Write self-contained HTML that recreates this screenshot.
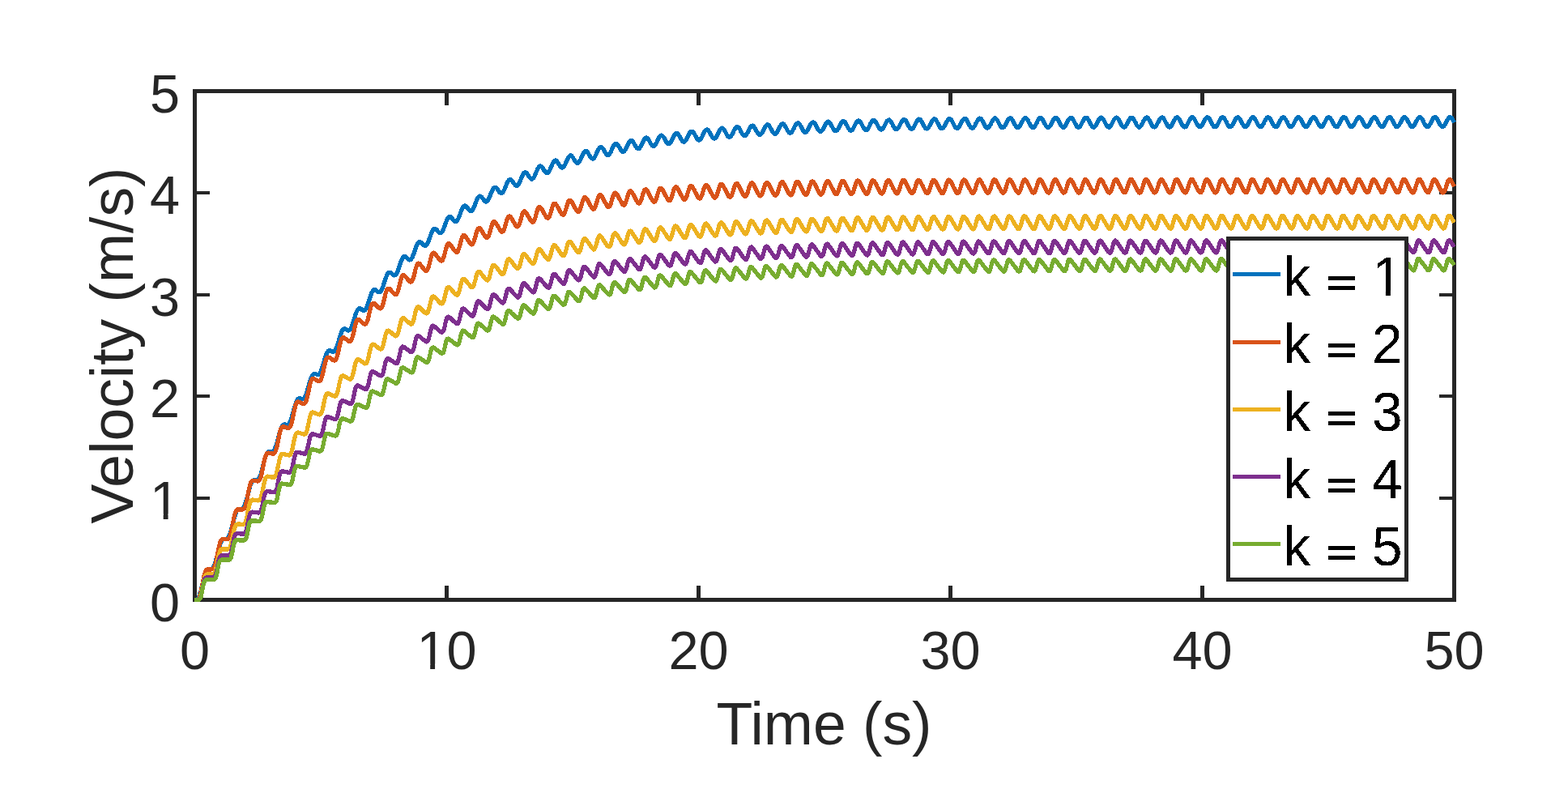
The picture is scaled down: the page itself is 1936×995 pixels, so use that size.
<!DOCTYPE html>
<html lang="en"><head><meta charset="utf-8"><title>Velocity vs Time</title>
<style>html,body{margin:0;padding:0;background:#fff;}body{width:1936px;height:995px;overflow:hidden;}svg{display:block;}text{font-family:"Liberation Sans",sans-serif;}.tk{font-size:66.67px;fill:#262626;}.lb{font-size:73.33px;fill:#262626;}.lg{font-size:67.6px;fill:#000;}.eq{font-family:"DejaVu Sans Condensed","DejaVu Sans Mono","Liberation Sans",sans-serif;font-size:59px;}</style></head><body>
<svg width="1936" height="995" viewBox="0 0 1936 995">
<defs><clipPath id="ax"><rect x="238" y="110" width="1560" height="633"/></clipPath><filter id="al" x="-5%" y="-5%" width="110%" height="110%" color-interpolation-filters="sRGB"><feComponentTransfer><feFuncA type="discrete" tableValues="0 1"/></feComponentTransfer></filter></defs>
<rect x="0" y="0" width="1936" height="995" fill="#ffffff"/>
<g fill="#262626" shape-rendering="crispEdges">
<rect x="238" y="110" width="1560" height="5"/>
<rect x="238" y="738" width="1560" height="5"/>
<rect x="238" y="110" width="5" height="633"/>
<rect x="1793" y="110" width="5" height="633"/>
<rect x="549" y="723" width="5" height="15"/>
<rect x="549" y="115" width="5" height="15"/>
<rect x="860" y="723" width="5" height="15"/>
<rect x="860" y="115" width="5" height="15"/>
<rect x="1171" y="723" width="5" height="15"/>
<rect x="1171" y="115" width="5" height="15"/>
<rect x="1482" y="723" width="5" height="15"/>
<rect x="1482" y="115" width="5" height="15"/>
<rect x="243" y="613" width="16" height="4"/>
<rect x="1777" y="613" width="16" height="4"/>
<rect x="243" y="487" width="16" height="4"/>
<rect x="1777" y="487" width="16" height="4"/>
<rect x="243" y="362" width="16" height="4"/>
<rect x="1777" y="362" width="16" height="4"/>
<rect x="243" y="236" width="16" height="4"/>
<rect x="1777" y="236" width="16" height="4"/>
</g>
<g fill="none" stroke-width="5.25" stroke-linejoin="round" stroke-linecap="butt" shape-rendering="auto" clip-path="url(#ax)">
<polyline stroke="#0072BD" filter="url(#al)" points="240.5,740.5 241.1,740.5 241.7,740.4 242.4,740.3 243.0,739.9 243.6,739.4 244.2,738.7 244.9,737.7 245.5,736.4 246.1,734.9 246.7,733.2 247.3,731.2 248.0,729.0 248.6,726.7 249.2,724.2 249.8,721.7 250.5,719.2 251.1,716.8 251.7,714.4 252.3,712.2 252.9,710.2 253.6,708.4 254.2,706.9 254.8,705.6 255.4,704.6 256.1,703.9 256.7,703.3 257.3,703.0 257.9,702.8 258.5,702.7 259.2,702.7 259.8,702.7 260.4,702.7 261.0,702.5 261.6,702.2 262.3,701.8 262.9,701.0 263.5,700.1 264.1,698.9 264.8,697.4 265.4,695.7 266.0,693.7 266.6,691.6 267.2,689.3 267.9,686.8 268.5,684.4 269.1,681.9 269.7,679.4 270.4,677.1 271.0,674.9 271.6,672.8 272.2,671.0 272.8,669.5 273.5,668.2 274.1,667.2 274.7,666.4 275.3,665.9 276.0,665.5 276.6,665.3 277.2,665.3 277.8,665.3 278.4,665.3 279.1,665.3 279.7,665.1 280.3,664.9 280.9,664.4 281.6,663.8 282.2,662.9 282.8,661.7 283.4,660.3 284.0,658.6 284.7,656.7 285.3,654.6 285.9,652.3 286.5,649.9 287.2,647.4 287.8,645.0 288.4,642.5 289.0,640.2 289.6,638.0 290.3,636.0 290.9,634.2 291.5,632.6 292.1,631.3 292.7,630.3 293.4,629.5 294.0,629.0 294.6,628.6 295.2,628.4 295.9,628.4 296.5,628.4 297.1,628.5 297.7,628.5 298.3,628.4 299.0,628.2 299.6,627.8 300.2,627.2 300.8,626.3 301.5,625.2 302.1,623.8 302.7,622.2 303.3,620.3 303.9,618.3 304.6,616.0 305.2,613.7 305.8,611.3 306.4,608.8 307.1,606.4 307.7,604.1 308.3,601.9 308.9,599.9 309.5,598.1 310.2,596.5 310.8,595.2 311.4,594.2 312.0,593.4 312.7,592.9 313.3,592.6 313.9,592.4 314.5,592.4 315.1,592.4 315.8,592.5 316.4,592.6 317.0,592.5 317.6,592.4 318.2,592.0 318.9,591.5 319.5,590.7 320.1,589.6 320.7,588.3 321.4,586.8 322.0,585.0 322.6,583.0 323.2,580.8 323.8,578.5 324.5,576.1 325.1,573.7 325.7,571.3 326.3,569.0 327.0,566.8 327.6,564.8 328.2,563.1 328.8,561.5 329.4,560.2 330.1,559.2 330.7,558.5 331.3,557.9 331.9,557.6 332.6,557.5 333.2,557.5 333.8,557.6 334.4,557.7 335.0,557.8 335.7,557.8 336.3,557.7 336.9,557.4 337.5,556.9 338.2,556.2 338.8,555.2 339.4,554.0 340.0,552.5 340.6,550.8 341.3,548.8 341.9,546.7 342.5,544.5 343.1,542.1 343.8,539.8 344.4,537.4 345.0,535.2 345.6,533.0 346.2,531.1 346.9,529.3 347.5,527.8 348.1,526.5 348.7,525.5 349.3,524.8 350.0,524.3 350.6,524.0 351.2,523.9 351.8,523.9 352.5,524.1 353.1,524.2 353.7,524.4 354.3,524.5 354.9,524.4 355.6,524.2 356.2,523.8 356.8,523.1 357.4,522.2 358.1,521.1 358.7,519.7 359.3,518.0 359.9,516.2 360.5,514.1 361.2,511.9 361.8,509.6 362.4,507.3 363.0,505.0 363.7,502.8 364.3,500.7 364.9,498.8 365.5,497.0 366.1,495.5 366.8,494.3 367.4,493.3 368.0,492.6 368.6,492.1 369.3,491.9 369.9,491.8 370.5,491.9 371.1,492.1 371.7,492.3 372.4,492.5 373.0,492.6 373.6,492.7 374.2,492.5 374.9,492.2 375.5,491.6 376.1,490.8 376.7,489.7 377.3,488.4 378.0,486.8 378.6,485.0 379.2,483.1 379.8,481.0 380.4,478.7 381.1,476.5 381.7,474.2 382.3,472.1 382.9,470.0 383.6,468.1 384.2,466.4 384.8,464.9 385.4,463.7 386.0,462.8 386.7,462.1 387.3,461.6 387.9,461.4 388.5,461.4 389.2,461.5 389.8,461.7 390.4,462.0 391.0,462.3 391.6,462.5 392.3,462.6 392.9,462.5 393.5,462.3 394.1,461.8 394.8,461.1 395.4,460.1 396.0,458.8 396.6,457.3 397.2,455.6 397.9,453.7 398.5,451.7 399.1,449.5 399.7,447.3 400.4,445.2 401.0,443.0 401.6,441.0 402.2,439.2 402.8,437.5 403.5,436.1 404.1,434.9 404.7,434.0 405.3,433.3 406.0,432.9 406.6,432.7 407.2,432.7 407.8,432.9 408.4,433.2 409.1,433.5 409.7,433.8 410.3,434.1 410.9,434.3 411.5,434.3 412.2,434.1 412.8,433.7 413.4,433.1 414.0,432.2 414.7,431.0 415.3,429.6 415.9,428.0 416.5,426.2 417.1,424.2 417.8,422.1 418.4,420.0 419.0,417.9 419.6,415.8 420.3,413.8 420.9,412.0 421.5,410.4 422.1,409.0 422.7,407.8 423.4,407.0 424.0,406.3 424.6,406.0 425.2,405.8 425.9,405.9 426.5,406.1 427.1,406.4 427.7,406.8 428.3,407.2 429.0,407.5 429.6,407.8 430.2,407.9 430.8,407.8 431.5,407.5 432.1,407.0 432.7,406.2 433.3,405.1 433.9,403.8 434.6,402.2 435.2,400.5 435.8,398.6 436.4,396.6 437.1,394.5 437.7,392.5 438.3,390.4 438.9,388.5 439.5,386.7 440.2,385.1 440.8,383.8 441.4,382.7 442.0,381.8 442.6,381.2 443.3,380.9 443.9,380.8 444.5,380.9 445.1,381.1 445.8,381.5 446.4,382.0 447.0,382.4 447.6,382.8 448.2,383.2 448.9,383.3 449.5,383.3 450.1,383.1 450.7,382.7 451.4,382.0 452.0,381.0 452.6,379.8 453.2,378.3 453.8,376.6 454.5,374.8 455.1,372.9 455.7,370.9 456.3,368.9 457.0,366.9 457.6,365.0 458.2,363.3 458.8,361.7 459.4,360.4 460.1,359.3 460.7,358.5 461.3,358.0 461.9,357.6 462.6,357.6 463.2,357.7 463.8,358.0 464.4,358.5 465.0,359.0 465.7,359.5 466.3,360.0 466.9,360.4 467.5,360.6 468.2,360.7 468.8,360.6 469.4,360.2 470.0,359.6 470.6,358.7 471.3,357.6 471.9,356.2 472.5,354.6 473.1,352.9 473.7,351.0 474.4,349.1 475.0,347.1 475.6,345.2 476.2,343.4 476.9,341.7 477.5,340.2 478.1,338.9 478.7,337.8 479.3,337.0 480.0,336.5 480.6,336.2 481.2,336.2 481.8,336.4 482.5,336.7 483.1,337.2 483.7,337.8 484.3,338.3 484.9,338.9 485.6,339.4 486.2,339.7 486.8,339.9 487.4,339.8 488.1,339.5 488.7,339.0 489.3,338.2 489.9,337.2 490.5,335.9 491.2,334.4 491.8,332.7 492.4,330.9 493.0,329.0 493.7,327.1 494.3,325.3 494.9,323.5 495.5,321.8 496.1,320.4 496.8,319.1 497.4,318.1 498.0,317.3 498.6,316.8 499.3,316.6 499.9,316.6 500.5,316.8 501.1,317.2 501.7,317.7 502.4,318.3 503.0,319.0 503.6,319.6 504.2,320.1 504.8,320.5 505.5,320.8 506.1,320.8 506.7,320.6 507.3,320.2 508.0,319.5 508.6,318.5 509.2,317.3 509.8,315.9 510.4,314.3 511.1,312.5 511.7,310.7 512.3,308.9 512.9,307.1 513.6,305.3 514.2,303.7 514.8,302.3 515.4,301.1 516.0,300.1 516.7,299.3 517.3,298.9 517.9,298.6 518.5,298.7 519.2,298.9 519.8,299.3 520.4,299.9 521.0,300.6 521.6,301.3 522.3,301.9 522.9,302.5 523.5,303.0 524.1,303.4 524.8,303.5 525.4,303.3 526.0,303.0 526.6,302.3 527.2,301.5 527.9,300.3 528.5,299.0 529.1,297.5 529.7,295.8 530.4,294.1 531.0,292.3 531.6,290.5 532.2,288.8 532.8,287.2 533.5,285.8 534.1,284.6 534.7,283.7 535.3,283.0 535.9,282.5 536.6,282.3 537.2,282.4 537.8,282.6 538.4,283.1 539.1,283.7 539.7,284.4 540.3,285.2 540.9,285.9 541.5,286.6 542.2,287.1 542.8,287.5 543.4,287.7 544.0,287.7 544.7,287.4 545.3,286.8 545.9,286.0 546.5,285.0 547.1,283.7 547.8,282.2 548.4,280.6 549.0,279.0 549.6,277.2 550.3,275.5 550.9,273.8 551.5,272.3 552.1,270.9 552.7,269.7 553.4,268.8 554.0,268.1 554.6,267.7 555.2,267.5 555.9,267.6 556.5,267.9 557.1,268.4 557.7,269.0 558.3,269.8 559.0,270.5 559.6,271.3 560.2,272.1 560.8,272.7 561.5,273.1 562.1,273.4 562.7,273.4 563.3,273.2 563.9,272.7 564.6,272.0 565.2,271.0 565.8,269.8 566.4,268.5 567.1,266.9 567.7,265.3 568.3,263.6 568.9,261.9 569.5,260.3 570.2,258.8 570.8,257.4 571.4,256.3 572.0,255.4 572.6,254.7 573.3,254.3 573.9,254.1 574.5,254.2 575.1,254.5 575.8,255.1 576.4,255.7 577.0,256.5 577.6,257.3 578.2,258.2 578.9,259.0 579.5,259.6 580.1,260.2 580.7,260.5 581.4,260.6 582.0,260.4 582.6,260.1 583.2,259.4 583.8,258.5 584.5,257.4 585.1,256.0 585.7,254.6 586.3,253.0 587.0,251.3 587.6,249.7 588.2,248.1 588.8,246.6 589.4,245.3 590.1,244.2 590.7,243.3 591.3,242.6 591.9,242.2 592.6,242.1 593.2,242.2 593.8,242.5 594.4,243.0 595.0,243.7 595.7,244.6 596.3,245.4 596.9,246.3 597.5,247.1 598.2,247.9 598.8,248.4 599.4,248.8 600.0,249.0 600.6,248.9 601.3,248.6 601.9,248.0 602.5,247.2 603.1,246.1 603.7,244.9 604.4,243.5 605.0,241.9 605.6,240.3 606.2,238.7 606.9,237.2 607.5,235.7 608.1,234.4 608.7,233.3 609.3,232.4 610.0,231.7 610.6,231.3 611.2,231.2 611.8,231.3 612.5,231.7 613.1,232.2 613.7,233.0 614.3,233.8 614.9,234.7 615.6,235.6 616.2,236.5 616.8,237.3 617.4,237.9 618.1,238.4 618.7,238.6 619.3,238.6 619.9,238.4 620.5,237.8 621.2,237.1 621.8,236.1 622.4,234.9 623.0,233.5 623.7,232.0 624.3,230.5 624.9,228.9 625.5,227.4 626.1,225.9 626.8,224.6 627.4,223.5 628.0,222.6 628.6,222.0 629.3,221.6 629.9,221.5 630.5,221.6 631.1,222.0 631.7,222.5 632.4,223.3 633.0,224.2 633.6,225.1 634.2,226.0 634.8,227.0 635.5,227.8 636.1,228.5 636.7,229.0 637.3,229.3 638.0,229.4 638.6,229.2 639.2,228.7 639.8,228.0 640.4,227.1 641.1,225.9 641.7,224.6 642.3,223.1 642.9,221.6 643.6,220.1 644.2,218.6 644.8,217.2 645.4,215.9 646.0,214.8 646.7,213.9 647.3,213.3 647.9,212.9 648.5,212.8 649.2,212.9 649.8,213.3 650.4,213.9 651.0,214.6 651.6,215.5 652.3,216.5 652.9,217.5 653.5,218.4 654.1,219.3 654.8,220.0 655.4,220.6 656.0,221.0 656.6,221.1 657.2,220.9 657.9,220.5 658.5,219.9 659.1,219.0 659.7,217.9 660.4,216.6 661.0,215.2 661.6,213.8 662.2,212.2 662.8,210.8 663.5,209.4 664.1,208.1 664.7,207.0 665.3,206.1 665.9,205.5 666.6,205.1 667.2,205.0 667.8,205.1 668.4,205.5 669.1,206.1 669.7,206.9 670.3,207.8 670.9,208.8 671.5,209.8 672.2,210.8 672.8,211.7 673.4,212.5 674.0,213.1 674.7,213.5 675.3,213.7 675.9,213.6 676.5,213.3 677.1,212.7 677.8,211.8 678.4,210.8 679.0,209.6 679.6,208.2 680.3,206.7 680.9,205.3 681.5,203.8 682.1,202.4 682.7,201.2 683.4,200.1 684.0,199.2 684.6,198.6 685.2,198.2 685.9,198.1 686.5,198.2 687.1,198.6 687.7,199.2 688.3,199.9 689.0,200.9 689.6,201.9 690.2,202.9 690.8,203.9 691.5,204.9 692.1,205.7 692.7,206.4 693.3,206.8 693.9,207.1 694.6,207.0 695.2,206.8 695.8,206.2 696.4,205.4 697.0,204.4 697.7,203.3 698.3,201.9 698.9,200.5 699.5,199.1 700.2,197.6 700.8,196.3 701.4,195.0 702.0,193.9 702.6,193.1 703.3,192.4 703.9,192.0 704.5,191.9 705.1,192.0 705.8,192.4 706.4,193.0 707.0,193.8 707.6,194.7 708.2,195.7 708.9,196.8 709.5,197.8 710.1,198.8 710.7,199.7 711.4,200.4 712.0,200.9 712.6,201.2 713.2,201.2 713.8,201.0 714.5,200.5 715.1,199.8 715.7,198.8 716.3,197.7 717.0,196.4 717.6,195.0 718.2,193.6 718.8,192.2 719.4,190.8 720.1,189.6 720.7,188.5 721.3,187.6 721.9,186.9 722.6,186.5 723.2,186.4 723.8,186.5 724.4,186.9 725.0,187.5 725.7,188.3 726.3,189.2 726.9,190.2 727.5,191.3 728.1,192.4 728.8,193.4 729.4,194.3 730.0,195.1 730.6,195.6 731.3,196.0 731.9,196.0 732.5,195.8 733.1,195.4 733.7,194.7 734.4,193.8 735.0,192.7 735.6,191.5 736.2,190.1 736.9,188.7 737.5,187.3 738.1,186.0 738.7,184.7 739.3,183.6 740.0,182.7 740.6,182.1 741.2,181.7 741.8,181.5 742.5,181.6 743.1,182.0 743.7,182.6 744.3,183.4 744.9,184.3 745.6,185.4 746.2,186.4 746.8,187.5 747.4,188.6 748.1,189.5 748.7,190.3 749.3,190.9 749.9,191.3 750.5,191.4 751.2,191.3 751.8,190.9 752.4,190.3 753.0,189.4 753.7,188.3 754.3,187.1 754.9,185.8 755.5,184.4 756.1,183.0 756.8,181.7 757.4,180.4 758.0,179.4 758.6,178.5 759.2,177.8 759.9,177.4 760.5,177.2 761.1,177.3 761.7,177.7 762.4,178.2 763.0,179.0 763.6,180.0 764.2,181.0 764.8,182.1 765.5,183.2 766.1,184.3 766.7,185.3 767.3,186.1 768.0,186.7 768.6,187.2 769.2,187.3 769.8,187.2 770.4,186.9 771.1,186.3 771.7,185.5 772.3,184.4 772.9,183.3 773.6,182.0 774.2,180.6 774.8,179.2 775.4,177.9 776.0,176.7 776.7,175.6 777.3,174.7 777.9,174.0 778.5,173.6 779.2,173.4 779.8,173.5 780.4,173.8 781.0,174.4 781.6,175.1 782.3,176.1 782.9,177.1 783.5,178.3 784.1,179.4 784.8,180.5 785.4,181.5 786.0,182.4 786.6,183.0 787.2,183.5 787.9,183.7 788.5,183.7 789.1,183.4 789.7,182.8 790.3,182.0 791.0,181.0 791.6,179.9 792.2,178.6 792.8,177.2 793.5,175.9 794.1,174.6 794.7,173.3 795.3,172.2 795.9,171.3 796.6,170.6 797.2,170.2 797.8,170.0 798.4,170.1 799.1,170.4 799.7,170.9 800.3,171.7 800.9,172.6 801.5,173.7 802.2,174.8 802.8,176.0 803.4,177.1 804.0,178.1 804.7,179.0 805.3,179.7 805.9,180.2 806.5,180.5 807.1,180.5 807.8,180.2 808.4,179.7 809.0,179.0 809.6,178.0 810.3,176.9 810.9,175.6 811.5,174.3 812.1,172.9 812.7,171.6 813.4,170.4 814.0,169.3 814.6,168.4 815.2,167.7 815.9,167.2 816.5,167.0 817.1,167.1 817.7,167.4 818.3,167.9 819.0,168.7 819.6,169.6 820.2,170.6 820.8,171.8 821.4,172.9 822.1,174.1 822.7,175.1 823.3,176.1 823.9,176.8 824.6,177.3 825.2,177.6 825.8,177.7 826.4,177.5 827.0,177.0 827.7,176.3 828.3,175.3 828.9,174.2 829.5,173.0 830.2,171.7 830.8,170.4 831.4,169.1 832.0,167.8 832.6,166.7 833.3,165.8 833.9,165.1 834.5,164.6 835.1,164.4 835.8,164.4 836.4,164.7 837.0,165.2 837.6,165.9 838.2,166.9 838.9,167.9 839.5,169.1 840.1,170.2 840.7,171.4 841.4,172.5 842.0,173.4 842.6,174.2 843.2,174.8 843.8,175.1 844.5,175.2 845.1,175.0 845.7,174.6 846.3,173.9 847.0,173.0 847.6,171.9 848.2,170.7 848.8,169.4 849.4,168.1 850.1,166.8 850.7,165.6 851.3,164.4 851.9,163.5 852.5,162.8 853.2,162.3 853.8,162.0 854.4,162.0 855.0,162.3 855.7,162.8 856.3,163.5 856.9,164.5 857.5,165.5 858.1,166.7 858.8,167.8 859.4,169.0 860.0,170.1 860.6,171.1 861.3,171.9 861.9,172.5 862.5,172.9 863.1,173.0 863.7,172.8 864.4,172.4 865.0,171.8 865.6,170.9 866.2,169.9 866.9,168.7 867.5,167.4 868.1,166.1 868.7,164.8 869.3,163.6 870.0,162.5 870.6,161.5 871.2,160.7 871.8,160.2 872.5,160.0 873.1,159.9 873.7,160.2 874.3,160.7 874.9,161.4 875.6,162.3 876.2,163.4 876.8,164.5 877.4,165.7 878.0,166.9 878.7,168.0 879.3,169.0 879.9,169.8 880.5,170.5 881.2,170.9 881.8,171.0 882.4,170.9 883.0,170.6 883.6,170.0 884.3,169.1 884.9,168.1 885.5,167.0 886.1,165.7 886.8,164.4 887.4,163.1 888.0,161.8 888.6,160.7 889.2,159.7 889.9,159.0 890.5,158.4 891.1,158.1 891.7,158.1 892.4,158.3 893.0,158.8 893.6,159.5 894.2,160.4 894.8,161.4 895.5,162.6 896.1,163.8 896.7,165.0 897.3,166.1 898.0,167.1 898.6,168.0 899.2,168.7 899.8,169.1 900.4,169.3 901.1,169.2 901.7,168.9 902.3,168.3 902.9,167.5 903.6,166.6 904.2,165.4 904.8,164.2 905.4,162.9 906.0,161.6 906.7,160.3 907.3,159.2 907.9,158.2 908.5,157.4 909.1,156.9 909.8,156.5 910.4,156.5 911.0,156.7 911.6,157.2 912.3,157.8 912.9,158.7 913.5,159.7 914.1,160.9 914.7,162.1 915.4,163.3 916.0,164.4 916.6,165.5 917.2,166.4 917.9,167.1 918.5,167.5 919.1,167.8 919.7,167.7 920.3,167.5 921.0,166.9 921.6,166.2 922.2,165.2 922.8,164.1 923.5,162.8 924.1,161.6 924.7,160.3 925.3,159.0 925.9,157.9 926.6,156.9 927.2,156.1 927.8,155.5 928.4,155.1 929.1,155.1 929.7,155.2 930.3,155.7 930.9,156.3 931.5,157.2 932.2,158.2 932.8,159.4 933.4,160.6 934.0,161.8 934.7,162.9 935.3,164.0 935.9,164.9 936.5,165.6 937.1,166.2 937.8,166.4 938.4,166.4 939.0,166.2 939.6,165.7 940.2,164.9 940.9,164.0 941.5,162.9 942.1,161.7 942.7,160.4 943.4,159.1 944.0,157.9 944.6,156.7 945.2,155.7 945.8,154.9 946.5,154.3 947.1,153.9 947.7,153.8 948.3,154.0 949.0,154.4 949.6,155.0 950.2,155.9 950.8,156.9 951.4,158.0 952.1,159.2 952.7,160.4 953.3,161.6 953.9,162.7 954.6,163.6 955.2,164.4 955.8,164.9 956.4,165.2 957.0,165.3 957.7,165.0 958.3,164.6 958.9,163.9 959.5,163.0 960.2,161.9 960.8,160.7 961.4,159.4 962.0,158.1 962.6,156.9 963.3,155.7 963.9,154.7 964.5,153.8 965.1,153.2 965.8,152.8 966.4,152.7 967.0,152.8 967.6,153.2 968.2,153.8 968.9,154.7 969.5,155.7 970.1,156.8 970.7,158.0 971.3,159.2 972.0,160.4 972.6,161.5 973.2,162.5 973.8,163.3 974.5,163.8 975.1,164.2 975.7,164.2 976.3,164.0 976.9,163.6 977.6,162.9 978.2,162.1 978.8,161.0 979.4,159.8 980.1,158.6 980.7,157.3 981.3,156.0 981.9,154.8 982.5,153.8 983.2,152.9 983.8,152.3 984.4,151.9 985.0,151.7 985.7,151.8 986.3,152.2 986.9,152.8 987.5,153.6 988.1,154.6 988.8,155.7 989.4,156.9 990.0,158.1 990.6,159.3 991.3,160.4 991.9,161.4 992.5,162.2 993.1,162.8 993.7,163.2 994.4,163.3 995.0,163.2 995.6,162.8 996.2,162.1 996.9,161.3 997.5,160.2 998.1,159.1 998.7,157.8 999.3,156.5 1000.0,155.3 1000.6,154.1 1001.2,153.0 1001.8,152.2 1002.4,151.5 1003.1,151.1 1003.7,150.9 1004.3,151.0 1004.9,151.3 1005.6,151.9 1006.2,152.7 1006.8,153.6 1007.4,154.7 1008.0,155.9 1008.7,157.2 1009.3,158.4 1009.9,159.5 1010.5,160.5 1011.2,161.3 1011.8,162.0 1012.4,162.4 1013.0,162.5 1013.6,162.4 1014.3,162.0 1014.9,161.4 1015.5,160.6 1016.1,159.6 1016.8,158.4 1017.4,157.2 1018.0,155.9 1018.6,154.6 1019.2,153.4 1019.9,152.4 1020.5,151.5 1021.1,150.8 1021.7,150.3 1022.4,150.1 1023.0,150.2 1023.6,150.5 1024.2,151.0 1024.8,151.8 1025.5,152.8 1026.1,153.9 1026.7,155.1 1027.3,156.3 1028.0,157.5 1028.6,158.6 1029.2,159.7 1029.8,160.5 1030.4,161.2 1031.1,161.6 1031.7,161.8 1032.3,161.7 1032.9,161.4 1033.5,160.8 1034.2,160.0 1034.8,159.0 1035.4,157.9 1036.0,156.6 1036.7,155.4 1037.3,154.1 1037.9,152.9 1038.5,151.8 1039.1,150.9 1039.8,150.2 1040.4,149.7 1041.0,149.5 1041.6,149.5 1042.3,149.8 1042.9,150.3 1043.5,151.1 1044.1,152.0 1044.7,153.1 1045.4,154.3 1046.0,155.5 1046.6,156.7 1047.2,157.9 1047.9,158.9 1048.5,159.8 1049.1,160.5 1049.7,161.0 1050.3,161.2 1051.0,161.1 1051.6,160.8 1052.2,160.3 1052.8,159.5 1053.5,158.5 1054.1,157.4 1054.7,156.2 1055.3,154.9 1055.9,153.6 1056.6,152.4 1057.2,151.3 1057.8,150.4 1058.4,149.7 1059.1,149.2 1059.7,148.9 1060.3,148.9 1060.9,149.1 1061.5,149.7 1062.2,150.4 1062.8,151.3 1063.4,152.4 1064.0,153.6 1064.6,154.8 1065.3,156.0 1065.9,157.2 1066.5,158.3 1067.1,159.2 1067.8,159.9 1068.4,160.4 1069.0,160.6 1069.6,160.6 1070.2,160.3 1070.9,159.8 1071.5,159.0 1072.1,158.1 1072.7,157.0 1073.4,155.8 1074.0,154.5 1074.6,153.2 1075.2,152.0 1075.8,150.9 1076.5,150.0 1077.1,149.2 1077.7,148.7 1078.3,148.4 1079.0,148.4 1079.6,148.6 1080.2,149.1 1080.8,149.8 1081.4,150.7 1082.1,151.7 1082.7,152.9 1083.3,154.1 1083.9,155.4 1084.6,156.6 1085.2,157.6 1085.8,158.6 1086.4,159.3 1087.0,159.8 1087.7,160.1 1088.3,160.1 1088.9,159.9 1089.5,159.4 1090.2,158.6 1090.8,157.7 1091.4,156.6 1092.0,155.4 1092.6,154.2 1093.3,152.9 1093.9,151.7 1094.5,150.6 1095.1,149.6 1095.7,148.8 1096.4,148.3 1097.0,148.0 1097.6,147.9 1098.2,148.1 1098.9,148.6 1099.5,149.2 1100.1,150.1 1100.7,151.2 1101.3,152.3 1102.0,153.6 1102.6,154.8 1103.2,156.0 1103.8,157.1 1104.5,158.0 1105.1,158.8 1105.7,159.4 1106.3,159.7 1106.9,159.7 1107.6,159.5 1108.2,159.0 1108.8,158.3 1109.4,157.4 1110.1,156.4 1110.7,155.2 1111.3,153.9 1111.9,152.7 1112.5,151.4 1113.2,150.3 1113.8,149.3 1114.4,148.5 1115.0,147.9 1115.7,147.6 1116.3,147.5 1116.9,147.7 1117.5,148.1 1118.1,148.8 1118.8,149.6 1119.4,150.7 1120.0,151.8 1120.6,153.0 1121.3,154.3 1121.9,155.5 1122.5,156.6 1123.1,157.6 1123.7,158.4 1124.4,158.9 1125.0,159.3 1125.6,159.3 1126.2,159.2 1126.8,158.7 1127.5,158.0 1128.1,157.2 1128.7,156.1 1129.3,154.9 1130.0,153.7 1130.6,152.4 1131.2,151.2 1131.8,150.1 1132.4,149.1 1133.1,148.2 1133.7,147.6 1134.3,147.2 1134.9,147.1 1135.6,147.3 1136.2,147.7 1136.8,148.3 1137.4,149.2 1138.0,150.2 1138.7,151.3 1139.3,152.5 1139.9,153.8 1140.5,155.0 1141.2,156.1 1141.8,157.1 1142.4,157.9 1143.0,158.5 1143.6,158.9 1144.3,159.0 1144.9,158.9 1145.5,158.5 1146.1,157.8 1146.8,156.9 1147.4,155.9 1148.0,154.8 1148.6,153.5 1149.2,152.3 1149.9,151.0 1150.5,149.9 1151.1,148.8 1151.7,148.0 1152.4,147.4 1153.0,147.0 1153.6,146.8 1154.2,146.9 1154.8,147.3 1155.5,147.9 1156.1,148.8 1156.7,149.8 1157.3,150.9 1157.9,152.1 1158.6,153.3 1159.2,154.6 1159.8,155.7 1160.4,156.7 1161.1,157.6 1161.7,158.2 1162.3,158.6 1162.9,158.7 1163.5,158.6 1164.2,158.2 1164.8,157.6 1165.4,156.8 1166.0,155.8 1166.7,154.6 1167.3,153.4 1167.9,152.1 1168.5,150.9 1169.1,149.7 1169.8,148.7 1170.4,147.8 1171.0,147.2 1171.6,146.7 1172.3,146.6 1172.9,146.6 1173.5,147.0 1174.1,147.6 1174.7,148.4 1175.4,149.4 1176.0,150.5 1176.6,151.7 1177.2,152.9 1177.9,154.2 1178.5,155.3 1179.1,156.4 1179.7,157.2 1180.3,157.9 1181.0,158.3 1181.6,158.5 1182.2,158.4 1182.8,158.0 1183.5,157.4 1184.1,156.6 1184.7,155.6 1185.3,154.5 1185.9,153.3 1186.6,152.0 1187.2,150.8 1187.8,149.6 1188.4,148.5 1189.0,147.7 1189.7,147.0 1190.3,146.5 1190.9,146.3 1191.5,146.4 1192.2,146.7 1192.8,147.3 1193.4,148.0 1194.0,149.0 1194.6,150.1 1195.3,151.3 1195.9,152.6 1196.5,153.8 1197.1,155.0 1197.8,156.0 1198.4,156.9 1199.0,157.6 1199.6,158.0 1200.2,158.2 1200.9,158.2 1201.5,157.9 1202.1,157.3 1202.7,156.5 1203.4,155.5 1204.0,154.4 1204.6,153.2 1205.2,151.9 1205.8,150.7 1206.5,149.5 1207.1,148.4 1207.7,147.5 1208.3,146.8 1209.0,146.3 1209.6,146.1 1210.2,146.2 1210.8,146.4 1211.4,147.0 1212.1,147.7 1212.7,148.7 1213.3,149.8 1213.9,151.0 1214.6,152.2 1215.2,153.5 1215.8,154.6 1216.4,155.7 1217.0,156.6 1217.7,157.3 1218.3,157.8 1218.9,158.0 1219.5,158.0 1220.1,157.7 1220.8,157.2 1221.4,156.4 1222.0,155.5 1222.6,154.4 1223.3,153.2 1223.9,151.9 1224.5,150.7 1225.1,149.5 1225.7,148.4 1226.4,147.4 1227.0,146.7 1227.6,146.2 1228.2,145.9 1228.9,145.9 1229.5,146.2 1230.1,146.7 1230.7,147.5 1231.3,148.4 1232.0,149.5 1232.6,150.7 1233.2,151.9 1233.8,153.1 1234.5,154.3 1235.1,155.4 1235.7,156.3 1236.3,157.1 1236.9,157.6 1237.6,157.8 1238.2,157.8 1238.8,157.6 1239.4,157.1 1240.1,156.3 1240.7,155.4 1241.3,154.3 1241.9,153.1 1242.5,151.9 1243.2,150.6 1243.8,149.4 1244.4,148.3 1245.0,147.4 1245.7,146.6 1246.3,146.1 1246.9,145.8 1247.5,145.8 1248.1,146.0 1248.8,146.5 1249.4,147.2 1250.0,148.1 1250.6,149.2 1251.2,150.4 1251.9,151.6 1252.5,152.8 1253.1,154.0 1253.7,155.1 1254.4,156.1 1255.0,156.8 1255.6,157.4 1256.2,157.7 1256.8,157.7 1257.5,157.5 1258.1,157.0 1258.7,156.3 1259.3,155.4 1260.0,154.3 1260.6,153.1 1261.2,151.9 1261.8,150.6 1262.4,149.4 1263.1,148.3 1263.7,147.3 1264.3,146.5 1264.9,146.0 1265.6,145.7 1266.2,145.6 1266.8,145.8 1267.4,146.3 1268.0,147.0 1268.7,147.9 1269.3,148.9 1269.9,150.1 1270.5,151.3 1271.2,152.6 1271.8,153.8 1272.4,154.9 1273.0,155.8 1273.6,156.6 1274.3,157.2 1274.9,157.5 1275.5,157.6 1276.1,157.4 1276.8,156.9 1277.4,156.2 1278.0,155.4 1278.6,154.3 1279.2,153.1 1279.9,151.9 1280.5,150.6 1281.1,149.4 1281.7,148.3 1282.3,147.3 1283.0,146.5 1283.6,145.9 1284.2,145.6 1284.8,145.5 1285.5,145.7 1286.1,146.1 1286.7,146.7 1287.3,147.6 1287.9,148.7 1288.6,149.8 1289.2,151.0 1289.8,152.3 1290.4,153.5 1291.1,154.6 1291.7,155.6 1292.3,156.4 1292.9,157.0 1293.5,157.4 1294.2,157.5 1294.8,157.3 1295.4,156.9 1296.0,156.2 1296.7,155.3 1297.3,154.3 1297.9,153.2 1298.5,151.9 1299.1,150.7 1299.8,149.4 1300.4,148.3 1301.0,147.3 1301.6,146.5 1302.3,145.9 1302.9,145.5 1303.5,145.4 1304.1,145.5 1304.7,145.9 1305.4,146.6 1306.0,147.4 1306.6,148.4 1307.2,149.6 1307.9,150.8 1308.5,152.0 1309.1,153.3 1309.7,154.4 1310.3,155.4 1311.0,156.2 1311.6,156.9 1312.2,157.2 1312.8,157.4 1313.4,157.2 1314.1,156.8 1314.7,156.2 1315.3,155.4 1315.9,154.3 1316.6,153.2 1317.2,152.0 1317.8,150.7 1318.4,149.5 1319.0,148.3 1319.7,147.3 1320.3,146.5 1320.9,145.8 1321.5,145.4 1322.2,145.3 1322.8,145.4 1323.4,145.8 1324.0,146.4 1324.6,147.2 1325.3,148.2 1325.9,149.3 1326.5,150.6 1327.1,151.8 1327.8,153.0 1328.4,154.2 1329.0,155.2 1329.6,156.1 1330.2,156.7 1330.9,157.1 1331.5,157.3 1332.1,157.2 1332.7,156.8 1333.4,156.2 1334.0,155.4 1334.6,154.4 1335.2,153.2 1335.8,152.0 1336.5,150.8 1337.1,149.5 1337.7,148.4 1338.3,147.3 1339.0,146.5 1339.6,145.8 1340.2,145.4 1340.8,145.2 1341.4,145.3 1342.1,145.6 1342.7,146.2 1343.3,147.0 1343.9,148.0 1344.5,149.1 1345.2,150.3 1345.8,151.6 1346.4,152.8 1347.0,154.0 1347.7,155.0 1348.3,155.9 1348.9,156.6 1349.5,157.0 1350.1,157.2 1350.8,157.1 1351.4,156.8 1352.0,156.2 1352.6,155.4 1353.3,154.4 1353.9,153.3 1354.5,152.1 1355.1,150.8 1355.7,149.6 1356.4,148.4 1357.0,147.4 1357.6,146.5 1358.2,145.8 1358.9,145.3 1359.5,145.1 1360.1,145.2 1360.7,145.5 1361.3,146.1 1362.0,146.8 1362.6,147.8 1363.2,148.9 1363.8,150.1 1364.5,151.4 1365.1,152.6 1365.7,153.8 1366.3,154.8 1366.9,155.7 1367.6,156.4 1368.2,156.9 1368.8,157.1 1369.4,157.1 1370.1,156.7 1370.7,156.2 1371.3,155.4 1371.9,154.5 1372.5,153.4 1373.2,152.2 1373.8,150.9 1374.4,149.7 1375.0,148.5 1375.6,147.4 1376.3,146.5 1376.9,145.8 1377.5,145.3 1378.1,145.1 1378.8,145.1 1379.4,145.4 1380.0,145.9 1380.6,146.7 1381.2,147.6 1381.9,148.7 1382.5,149.9 1383.1,151.1 1383.7,152.4 1384.4,153.6 1385.0,154.6 1385.6,155.6 1386.2,156.3 1386.8,156.8 1387.5,157.0 1388.1,157.0 1388.7,156.7 1389.3,156.2 1390.0,155.5 1390.6,154.5 1391.2,153.4 1391.8,152.2 1392.4,151.0 1393.1,149.7 1393.7,148.5 1394.3,147.5 1394.9,146.5 1395.6,145.8 1396.2,145.3 1396.8,145.0 1397.4,145.0 1398.0,145.3 1398.7,145.8 1399.3,146.5 1399.9,147.4 1400.5,148.5 1401.2,149.7 1401.8,150.9 1402.4,152.2 1403.0,153.4 1403.6,154.5 1404.3,155.4 1404.9,156.2 1405.5,156.7 1406.1,157.0 1406.7,157.0 1407.4,156.7 1408.0,156.2 1408.6,155.5 1409.2,154.6 1409.9,153.5 1410.5,152.3 1411.1,151.1 1411.7,149.8 1412.3,148.6 1413.0,147.5 1413.6,146.6 1414.2,145.8 1414.8,145.3 1415.5,145.0 1416.1,144.9 1416.7,145.2 1417.3,145.7 1417.9,146.4 1418.6,147.3 1419.2,148.3 1419.8,149.5 1420.4,150.8 1421.1,152.0 1421.7,153.2 1422.3,154.3 1422.9,155.3 1423.5,156.0 1424.2,156.6 1424.8,156.9 1425.4,156.9 1426.0,156.7 1426.7,156.2 1427.3,155.6 1427.9,154.7 1428.5,153.6 1429.1,152.4 1429.8,151.2 1430.4,149.9 1431.0,148.7 1431.6,147.6 1432.3,146.6 1432.9,145.8 1433.5,145.3 1434.1,145.0 1434.7,144.9 1435.4,145.1 1436.0,145.5 1436.6,146.2 1437.2,147.1 1437.9,148.2 1438.5,149.3 1439.1,150.6 1439.7,151.8 1440.3,153.0 1441.0,154.1 1441.6,155.1 1442.2,155.9 1442.8,156.5 1443.4,156.8 1444.1,156.9 1444.7,156.7 1445.3,156.3 1445.9,155.6 1446.6,154.7 1447.2,153.7 1447.8,152.5 1448.4,151.3 1449.0,150.0 1449.7,148.8 1450.3,147.7 1450.9,146.7 1451.5,145.9 1452.2,145.3 1452.8,144.9 1453.4,144.8 1454.0,145.0 1454.6,145.4 1455.3,146.1 1455.9,147.0 1456.5,148.0 1457.1,149.2 1457.8,150.4 1458.4,151.6 1459.0,152.9 1459.6,154.0 1460.2,155.0 1460.9,155.8 1461.5,156.4 1462.1,156.8 1462.7,156.9 1463.4,156.7 1464.0,156.3 1464.6,155.7 1465.2,154.8 1465.8,153.8 1466.5,152.6 1467.1,151.4 1467.7,150.1 1468.3,148.9 1469.0,147.8 1469.6,146.8 1470.2,145.9 1470.8,145.3 1471.4,144.9 1472.1,144.8 1472.7,144.9 1473.3,145.3 1473.9,146.0 1474.5,146.8 1475.2,147.8 1475.8,149.0 1476.4,150.2 1477.0,151.5 1477.7,152.7 1478.3,153.8 1478.9,154.8 1479.5,155.7 1480.1,156.3 1480.8,156.7 1481.4,156.8 1482.0,156.7 1482.6,156.3 1483.3,155.7 1483.9,154.9 1484.5,153.9 1485.1,152.7 1485.7,151.5 1486.4,150.2 1487.0,149.0 1487.6,147.9 1488.2,146.8 1488.9,146.0 1489.5,145.3 1490.1,144.9 1490.7,144.8 1491.3,144.9 1492.0,145.3 1492.6,145.9 1493.2,146.7 1493.8,147.7 1494.5,148.8 1495.1,150.0 1495.7,151.3 1496.3,152.5 1496.9,153.7 1497.6,154.7 1498.2,155.6 1498.8,156.2 1499.4,156.6 1500.1,156.8 1500.7,156.7 1501.3,156.4 1501.9,155.8 1502.5,154.9 1503.2,154.0 1503.8,152.8 1504.4,151.6 1505.0,150.4 1505.6,149.1 1506.3,148.0 1506.9,146.9 1507.5,146.0 1508.1,145.4 1508.8,144.9 1509.4,144.8 1510.0,144.8 1510.6,145.2 1511.2,145.8 1511.9,146.5 1512.5,147.5 1513.1,148.7 1513.7,149.9 1514.4,151.1 1515.0,152.3 1515.6,153.5 1516.2,154.6 1516.8,155.4 1517.5,156.1 1518.1,156.6 1518.7,156.8 1519.3,156.7 1520.0,156.4 1520.6,155.8 1521.2,155.0 1521.8,154.1 1522.4,152.9 1523.1,151.7 1523.7,150.5 1524.3,149.2 1524.9,148.1 1525.6,147.0 1526.2,146.1 1526.8,145.4 1527.4,145.0 1528.0,144.7 1528.7,144.8 1529.3,145.1 1529.9,145.7 1530.5,146.4 1531.2,147.4 1531.8,148.5 1532.4,149.7 1533.0,150.9 1533.6,152.2 1534.3,153.4 1534.9,154.4 1535.5,155.3 1536.1,156.0 1536.7,156.5 1537.4,156.7 1538.0,156.7 1538.6,156.4 1539.2,155.9 1539.9,155.1 1540.5,154.2 1541.1,153.1 1541.7,151.8 1542.3,150.6 1543.0,149.4 1543.6,148.2 1544.2,147.1 1544.8,146.2 1545.5,145.5 1546.1,145.0 1546.7,144.7 1547.3,144.8 1547.9,145.0 1548.6,145.6 1549.2,146.3 1549.8,147.2 1550.4,148.3 1551.1,149.5 1551.7,150.8 1552.3,152.0 1552.9,153.2 1553.5,154.3 1554.2,155.2 1554.8,155.9 1555.4,156.5 1556.0,156.7 1556.7,156.7 1557.3,156.4 1557.9,155.9 1558.5,155.2 1559.1,154.2 1559.8,153.2 1560.4,152.0 1561.0,150.7 1561.6,149.5 1562.3,148.3 1562.9,147.2 1563.5,146.3 1564.1,145.5 1564.7,145.0 1565.4,144.7 1566.0,144.7 1566.6,145.0 1567.2,145.5 1567.8,146.2 1568.5,147.1 1569.1,148.2 1569.7,149.4 1570.3,150.6 1571.0,151.9 1571.6,153.1 1572.2,154.2 1572.8,155.1 1573.4,155.9 1574.1,156.4 1574.7,156.7 1575.3,156.7 1575.9,156.5 1576.6,156.0 1577.2,155.3 1577.8,154.3 1578.4,153.3 1579.0,152.1 1579.7,150.9 1580.3,149.6 1580.9,148.4 1581.5,147.3 1582.2,146.3 1582.8,145.6 1583.4,145.0 1584.0,144.7 1584.6,144.7 1585.3,144.9 1585.9,145.4 1586.5,146.1 1587.1,147.0 1587.8,148.0 1588.4,149.2 1589.0,150.5 1589.6,151.7 1590.2,152.9 1590.9,154.0 1591.5,155.0 1592.1,155.8 1592.7,156.3 1593.4,156.6 1594.0,156.7 1594.6,156.5 1595.2,156.0 1595.8,155.3 1596.5,154.4 1597.1,153.4 1597.7,152.2 1598.3,151.0 1598.9,149.7 1599.6,148.5 1600.2,147.4 1600.8,146.4 1601.4,145.6 1602.1,145.1 1602.7,144.7 1603.3,144.7 1603.9,144.9 1604.5,145.3 1605.2,146.0 1605.8,146.9 1606.4,147.9 1607.0,149.1 1607.7,150.3 1608.3,151.6 1608.9,152.8 1609.5,153.9 1610.1,154.9 1610.8,155.7 1611.4,156.3 1612.0,156.6 1612.6,156.7 1613.3,156.5 1613.9,156.1 1614.5,155.4 1615.1,154.5 1615.7,153.5 1616.4,152.3 1617.0,151.1 1617.6,149.9 1618.2,148.6 1618.9,147.5 1619.5,146.5 1620.1,145.7 1620.7,145.1 1621.3,144.7 1622.0,144.6 1622.6,144.8 1623.2,145.2 1623.8,145.9 1624.5,146.7 1625.1,147.8 1625.7,148.9 1626.3,150.1 1626.9,151.4 1627.6,152.6 1628.2,153.8 1628.8,154.8 1629.4,155.6 1630.0,156.2 1630.7,156.6 1631.3,156.7 1631.9,156.5 1632.5,156.1 1633.2,155.5 1633.8,154.6 1634.4,153.6 1635.0,152.5 1635.6,151.2 1636.3,150.0 1636.9,148.8 1637.5,147.6 1638.1,146.6 1638.8,145.8 1639.4,145.2 1640.0,144.8 1640.6,144.6 1641.2,144.8 1641.9,145.2 1642.5,145.8 1643.1,146.6 1643.7,147.6 1644.4,148.8 1645.0,150.0 1645.6,151.2 1646.2,152.5 1646.8,153.6 1647.5,154.6 1648.1,155.5 1648.7,156.1 1649.3,156.5 1650.0,156.7 1650.6,156.6 1651.2,156.2 1651.8,155.6 1652.4,154.7 1653.1,153.7 1653.7,152.6 1654.3,151.4 1654.9,150.1 1655.6,148.9 1656.2,147.7 1656.8,146.7 1657.4,145.9 1658.0,145.2 1658.7,144.8 1659.3,144.6 1659.9,144.7 1660.5,145.1 1661.1,145.7 1661.8,146.5 1662.4,147.5 1663.0,148.6 1663.6,149.8 1664.3,151.1 1664.9,152.3 1665.5,153.5 1666.1,154.5 1666.7,155.4 1667.4,156.1 1668.0,156.5 1668.6,156.7 1669.2,156.6 1669.9,156.2 1670.5,155.6 1671.1,154.8 1671.7,153.9 1672.3,152.7 1673.0,151.5 1673.6,150.3 1674.2,149.0 1674.8,147.9 1675.5,146.8 1676.1,145.9 1676.7,145.3 1677.3,144.8 1677.9,144.6 1678.6,144.7 1679.2,145.0 1679.8,145.6 1680.4,146.4 1681.1,147.4 1681.7,148.5 1682.3,149.7 1682.9,150.9 1683.5,152.2 1684.2,153.3 1684.8,154.4 1685.4,155.3 1686.0,156.0 1686.7,156.4 1687.3,156.6 1687.9,156.6 1688.5,156.3 1689.1,155.7 1689.8,154.9 1690.4,154.0 1691.0,152.9 1691.6,151.6 1692.2,150.4 1692.9,149.2 1693.5,148.0 1694.1,146.9 1694.7,146.0 1695.4,145.3 1696.0,144.8 1696.6,144.6 1697.2,144.7 1697.8,145.0 1698.5,145.5 1699.1,146.3 1699.7,147.2 1700.3,148.3 1701.0,149.5 1701.6,150.8 1702.2,152.0 1702.8,153.2 1703.4,154.3 1704.1,155.2 1704.7,155.9 1705.3,156.4 1705.9,156.6 1706.6,156.6 1707.2,156.3 1707.8,155.8 1708.4,155.0 1709.0,154.1 1709.7,153.0 1710.3,151.8 1710.9,150.5 1711.5,149.3 1712.2,148.1 1712.8,147.0 1713.4,146.1 1714.0,145.4 1714.6,144.9 1715.3,144.6 1715.9,144.6 1716.5,144.9 1717.1,145.4 1717.8,146.2 1718.4,147.1 1719.0,148.2 1719.6,149.4 1720.2,150.6 1720.9,151.9 1721.5,153.1 1722.1,154.2 1722.7,155.1 1723.3,155.8 1724.0,156.3 1724.6,156.6 1725.2,156.6 1725.8,156.4 1726.5,155.8 1727.1,155.1 1727.7,154.2 1728.3,153.1 1728.9,151.9 1729.6,150.7 1730.2,149.4 1730.8,148.2 1731.4,147.1 1732.1,146.2 1732.7,145.4 1733.3,144.9 1733.9,144.6 1734.5,144.6 1735.2,144.9 1735.8,145.4 1736.4,146.1 1737.0,147.0 1737.7,148.1 1738.3,149.2 1738.9,150.5 1739.5,151.7 1740.1,152.9 1740.8,154.0 1741.4,155.0 1742.0,155.7 1742.6,156.3 1743.3,156.6 1743.9,156.6 1744.5,156.4 1745.1,155.9 1745.7,155.2 1746.4,154.3 1747.0,153.2 1747.6,152.1 1748.2,150.8 1748.9,149.6 1749.5,148.4 1750.1,147.2 1750.7,146.3 1751.3,145.5 1752.0,145.0 1752.6,144.7 1753.2,144.6 1753.8,144.8 1754.4,145.3 1755.1,146.0 1755.7,146.9 1756.3,147.9 1756.9,149.1 1757.6,150.3 1758.2,151.6 1758.8,152.8 1759.4,153.9 1760.0,154.9 1760.7,155.7 1761.3,156.2 1761.9,156.6 1762.5,156.6 1763.2,156.4 1763.8,156.0 1764.4,155.3 1765.0,154.4 1765.6,153.4 1766.3,152.2 1766.9,151.0 1767.5,149.7 1768.1,148.5 1768.8,147.4 1769.4,146.4 1770.0,145.6 1770.6,145.0 1771.2,144.7 1771.9,144.6 1772.5,144.8 1773.1,145.2 1773.7,145.9 1774.4,146.7 1775.0,147.8 1775.6,149.0 1776.2,150.2 1776.8,151.4 1777.5,152.7 1778.1,153.8 1778.7,154.8 1779.3,155.6 1780.0,156.2 1780.6,156.5 1781.2,156.6 1781.8,156.5 1782.4,156.0 1783.1,155.4 1783.7,154.5 1784.3,153.5 1784.9,152.3 1785.5,151.1 1786.2,149.8 1786.8,148.6 1787.4,147.5 1788.0,146.5 1788.7,145.7 1789.3,145.1 1789.9,144.7 1790.5,144.6 1791.1,144.7 1791.8,145.1 1792.4,145.8 1793.0,146.6 1793.6,147.7 1794.3,148.8 1794.9,150.0 1795.5,151.3"/>
<polyline stroke="#D95319" filter="url(#al)" points="240.5,740.5 241.1,740.5 241.7,740.5 242.4,740.5 243.0,740.4 243.6,740.3 244.2,740.0 244.9,739.5 245.5,738.6 246.1,737.4 246.7,735.8 247.3,733.7 248.0,731.2 248.6,728.3 249.2,725.1 249.8,721.8 250.5,718.5 251.1,715.3 251.7,712.3 252.3,709.8 252.9,707.6 253.6,705.9 254.2,704.7 254.8,703.8 255.4,703.3 256.1,703.0 256.7,702.8 257.3,702.8 257.9,702.8 258.5,702.8 259.2,702.8 259.8,702.8 260.4,702.8 261.0,702.8 261.6,702.7 262.3,702.6 262.9,702.3 263.5,701.9 264.1,701.1 264.8,699.9 265.4,698.3 266.0,696.3 266.6,693.8 267.2,691.0 267.9,687.9 268.5,684.6 269.1,681.2 269.7,678.0 270.4,675.1 271.0,672.5 271.6,670.3 272.2,668.6 272.8,667.3 273.5,666.4 274.1,665.9 274.7,665.6 275.3,665.4 276.0,665.4 276.6,665.4 277.2,665.4 277.8,665.4 278.4,665.5 279.1,665.5 279.7,665.5 280.3,665.5 280.9,665.4 281.6,665.2 282.2,664.7 282.8,664.0 283.4,662.9 284.0,661.4 284.7,659.4 285.3,657.1 285.9,654.3 286.5,651.2 287.2,647.9 287.8,644.6 288.4,641.4 289.0,638.5 289.6,635.9 290.3,633.7 290.9,631.9 291.5,630.6 292.1,629.8 292.7,629.2 293.4,628.9 294.0,628.8 294.6,628.7 295.2,628.8 295.9,628.8 296.5,628.9 297.1,629.0 297.7,629.0 298.3,629.1 299.0,629.1 299.6,629.0 300.2,628.9 300.8,628.5 301.5,627.8 302.1,626.8 302.7,625.4 303.3,623.5 303.9,621.2 304.6,618.5 305.2,615.5 305.8,612.3 306.4,609.0 307.1,605.8 307.7,602.9 308.3,600.3 308.9,598.1 309.5,596.3 310.2,595.0 310.8,594.1 311.4,593.6 312.0,593.3 312.7,593.2 313.3,593.2 313.9,593.3 314.5,593.4 315.1,593.5 315.8,593.6 316.4,593.7 317.0,593.8 317.6,593.9 318.2,593.9 318.9,593.8 319.5,593.5 320.1,592.9 320.7,592.0 321.4,590.6 322.0,588.9 322.6,586.6 323.2,584.0 323.8,581.1 324.5,577.9 325.1,574.7 325.7,571.6 326.3,568.7 327.0,566.1 327.6,563.9 328.2,562.1 328.8,560.8 329.4,559.9 330.1,559.4 330.7,559.1 331.3,559.1 331.9,559.1 332.6,559.3 333.2,559.4 333.8,559.6 334.4,559.7 335.0,559.9 335.7,560.0 336.3,560.2 336.9,560.2 337.5,560.2 338.2,560.0 338.8,559.5 339.4,558.6 340.0,557.4 340.6,555.8 341.3,553.6 341.9,551.1 342.5,548.3 343.1,545.2 343.8,542.0 344.4,538.9 345.0,536.0 345.6,533.5 346.2,531.3 346.9,529.5 347.5,528.2 348.1,527.4 348.7,526.9 349.3,526.6 350.0,526.6 350.6,526.7 351.2,526.9 351.8,527.1 352.5,527.3 353.1,527.6 353.7,527.8 354.3,528.0 354.9,528.2 355.6,528.3 356.2,528.4 356.8,528.2 357.4,527.8 358.1,527.1 358.7,526.0 359.3,524.4 359.9,522.4 360.5,520.0 361.2,517.3 361.8,514.3 362.4,511.2 363.0,508.1 363.7,505.3 364.3,502.7 364.9,500.5 365.5,498.8 366.1,497.5 366.8,496.7 367.4,496.2 368.0,496.0 368.6,496.1 369.3,496.2 369.9,496.5 370.5,496.7 371.1,497.0 371.7,497.3 372.4,497.6 373.0,497.9 373.6,498.1 374.2,498.3 374.9,498.5 375.5,498.4 376.1,498.1 376.7,497.5 377.3,496.5 378.0,495.1 378.6,493.2 379.2,490.9 379.8,488.2 380.4,485.3 381.1,482.3 381.7,479.3 382.3,476.5 382.9,474.0 383.6,471.8 384.2,470.1 384.8,468.8 385.4,468.0 386.0,467.6 386.7,467.4 387.3,467.5 387.9,467.7 388.5,468.0 389.2,468.4 389.8,468.7 390.4,469.1 391.0,469.5 391.6,469.8 392.3,470.1 392.9,470.4 393.5,470.6 394.1,470.7 394.8,470.5 395.4,470.0 396.0,469.1 396.6,467.8 397.2,466.0 397.9,463.8 398.5,461.2 399.1,458.4 399.7,455.5 400.4,452.6 401.0,449.8 401.6,447.3 402.2,445.2 402.8,443.5 403.5,442.3 404.1,441.5 404.7,441.1 405.3,441.0 406.0,441.1 406.6,441.4 407.2,441.7 407.8,442.1 408.4,442.6 409.1,443.0 409.7,443.4 410.3,443.8 410.9,444.3 411.5,444.6 412.2,444.9 412.8,445.0 413.4,444.9 414.0,444.5 414.7,443.8 415.3,442.6 415.9,440.9 416.5,438.9 417.1,436.4 417.8,433.7 418.4,430.8 419.0,428.0 419.6,425.2 420.3,422.8 420.9,420.7 421.5,419.0 422.1,417.8 422.7,417.0 423.4,416.7 424.0,416.6 424.6,416.8 425.2,417.1 425.9,417.6 426.5,418.0 427.1,418.5 427.7,419.0 428.3,419.5 429.0,420.0 429.6,420.5 430.2,421.0 430.8,421.3 431.5,421.5 432.1,421.5 432.7,421.3 433.3,420.6 433.9,419.5 434.6,418.0 435.2,416.0 435.8,413.7 436.4,411.1 437.1,408.3 437.7,405.5 438.3,402.8 438.9,400.4 439.5,398.3 440.2,396.7 440.8,395.5 441.4,394.7 442.0,394.4 442.6,394.4 443.3,394.6 443.9,395.0 444.5,395.5 445.1,396.1 445.8,396.6 446.4,397.2 447.0,397.8 447.6,398.3 448.2,398.9 448.9,399.4 449.5,399.8 450.1,400.1 450.7,400.2 451.4,400.1 452.0,399.5 452.6,398.6 453.2,397.1 453.8,395.3 454.5,393.1 455.1,390.5 455.7,387.8 456.3,385.1 457.0,382.5 457.6,380.1 458.2,378.0 458.8,376.4 459.4,375.2 460.1,374.5 460.7,374.2 461.3,374.2 461.9,374.5 462.6,374.9 463.2,375.5 463.8,376.1 464.4,376.7 465.0,377.4 465.7,378.0 466.3,378.6 466.9,379.3 467.5,379.8 468.2,380.4 468.8,380.8 469.4,381.0 470.0,380.9 470.6,380.4 471.3,379.6 471.9,378.3 472.5,376.6 473.1,374.5 473.7,372.0 474.4,369.4 475.0,366.7 475.6,364.1 476.2,361.8 476.9,359.8 477.5,358.1 478.1,357.0 478.7,356.3 479.3,356.0 480.0,356.0 480.6,356.3 481.2,356.8 481.8,357.5 482.5,358.1 483.1,358.8 483.7,359.5 484.3,360.2 484.9,360.9 485.6,361.6 486.2,362.3 486.8,362.8 487.4,363.3 488.1,363.6 488.7,363.6 489.3,363.3 489.9,362.6 490.5,361.4 491.2,359.8 491.8,357.7 492.4,355.4 493.0,352.8 493.7,350.2 494.3,347.7 494.9,345.4 495.5,343.4 496.1,341.8 496.8,340.6 497.4,339.9 498.0,339.6 498.6,339.7 499.3,340.1 499.9,340.6 500.5,341.3 501.1,342.0 501.7,342.7 502.4,343.5 503.0,344.3 503.6,345.0 504.2,345.8 504.8,346.5 505.5,347.1 506.1,347.7 506.7,348.1 507.3,348.2 508.0,347.9 508.6,347.3 509.2,346.2 509.8,344.7 510.4,342.8 511.1,340.6 511.7,338.1 512.3,335.5 512.9,333.0 513.6,330.7 514.2,328.7 514.8,327.1 515.4,326.0 516.0,325.3 516.7,325.0 517.3,325.1 517.9,325.5 518.5,326.1 519.2,326.8 519.8,327.6 520.4,328.4 521.0,329.2 521.6,330.0 522.3,330.8 522.9,331.6 523.5,332.4 524.1,333.1 524.8,333.8 525.4,334.2 526.0,334.4 526.6,334.3 527.2,333.7 527.9,332.8 528.5,331.4 529.1,329.5 529.7,327.4 530.4,325.0 531.0,322.5 531.6,320.0 532.2,317.7 532.8,315.7 533.5,314.2 534.1,313.0 534.7,312.3 535.3,312.1 535.9,312.2 536.6,312.6 537.2,313.2 537.8,313.9 538.4,314.8 539.1,315.6 539.7,316.5 540.3,317.3 540.9,318.2 541.5,319.1 542.2,319.9 542.8,320.7 543.4,321.4 544.0,321.9 544.7,322.2 545.3,322.1 545.9,321.7 546.5,320.8 547.1,319.5 547.8,317.8 548.4,315.7 549.0,313.4 549.6,310.9 550.3,308.5 550.9,306.2 551.5,304.3 552.1,302.7 552.7,301.5 553.4,300.8 554.0,300.6 554.6,300.7 555.2,301.1 555.9,301.7 556.5,302.5 557.1,303.4 557.7,304.3 558.3,305.2 559.0,306.1 559.6,307.0 560.2,307.9 560.8,308.8 561.5,309.6 562.1,310.4 562.7,311.0 563.3,311.3 563.9,311.4 564.6,311.0 565.2,310.3 565.8,309.0 566.4,307.4 567.1,305.4 567.7,303.1 568.3,300.7 568.9,298.3 569.5,296.1 570.2,294.1 570.8,292.5 571.4,291.4 572.0,290.7 572.6,290.4 573.3,290.5 573.9,291.0 574.5,291.6 575.1,292.5 575.8,293.4 576.4,294.3 577.0,295.2 577.6,296.2 578.2,297.1 578.9,298.1 579.5,299.0 580.1,299.9 580.7,300.7 581.4,301.3 582.0,301.8 582.6,301.9 583.2,301.6 583.8,301.0 584.5,299.8 585.1,298.3 585.7,296.3 586.3,294.1 587.0,291.8 587.6,289.4 588.2,287.2 588.8,285.2 589.4,283.6 590.1,282.5 590.7,281.8 591.3,281.5 591.9,281.6 592.6,282.0 593.2,282.7 593.8,283.6 594.4,284.5 595.0,285.5 595.7,286.5 596.3,287.5 596.9,288.4 597.5,289.4 598.2,290.4 598.8,291.3 599.4,292.2 600.0,292.9 600.6,293.4 601.3,293.5 601.9,293.4 602.5,292.8 603.1,291.7 603.7,290.3 604.4,288.4 605.0,286.3 605.6,284.0 606.2,281.6 606.9,279.4 607.5,277.5 608.1,275.8 608.7,274.7 609.3,273.9 610.0,273.6 610.6,273.8 611.2,274.2 611.8,274.9 612.5,275.8 613.1,276.7 613.7,277.7 614.3,278.7 614.9,279.8 615.6,280.8 616.2,281.8 616.8,282.8 617.4,283.8 618.1,284.7 618.7,285.4 619.3,286.0 619.9,286.2 620.5,286.1 621.2,285.6 621.8,284.7 622.4,283.3 623.0,281.5 623.7,279.4 624.3,277.1 624.9,274.8 625.5,272.6 626.1,270.7 626.8,269.0 627.4,267.8 628.0,267.1 628.6,266.8 629.3,266.9 629.9,267.3 630.5,268.0 631.1,268.9 631.7,269.9 632.4,270.9 633.0,272.0 633.6,273.0 634.2,274.1 634.8,275.1 635.5,276.1 636.1,277.1 636.7,278.1 637.3,278.9 638.0,279.5 638.6,279.8 639.2,279.8 639.8,279.3 640.4,278.5 641.1,277.2 641.7,275.4 642.3,273.4 642.9,271.2 643.6,268.9 644.2,266.7 644.8,264.7 645.4,263.1 646.0,261.9 646.7,261.1 647.3,260.8 647.9,260.9 648.5,261.3 649.2,262.0 649.8,262.9 650.4,263.9 651.0,264.9 651.6,266.0 652.3,267.1 652.9,268.2 653.5,269.2 654.1,270.3 654.8,271.3 655.4,272.3 656.0,273.1 656.6,273.8 657.2,274.2 657.9,274.2 658.5,273.9 659.1,273.1 659.7,271.8 660.4,270.2 661.0,268.2 661.6,266.0 662.2,263.8 662.8,261.6 663.5,259.6 664.1,258.0 664.7,256.7 665.3,255.9 665.9,255.5 666.6,255.6 667.2,256.0 667.8,256.7 668.4,257.6 669.1,258.6 669.7,259.7 670.3,260.8 670.9,261.9 671.5,263.0 672.2,264.1 672.8,265.2 673.4,266.3 674.0,267.2 674.7,268.1 675.3,268.8 675.9,269.3 676.5,269.4 677.1,269.1 677.8,268.4 678.4,267.2 679.0,265.6 679.6,263.7 680.3,261.6 680.9,259.3 681.5,257.2 682.1,255.2 682.7,253.5 683.4,252.2 684.0,251.4 684.6,251.0 685.2,251.0 685.9,251.4 686.5,252.1 687.1,253.0 687.7,254.0 688.3,255.1 689.0,256.3 689.6,257.4 690.2,258.5 690.8,259.6 691.5,260.7 692.1,261.8 692.7,262.8 693.3,263.8 693.9,264.5 694.6,265.0 695.2,265.2 695.8,265.0 696.4,264.3 697.0,263.2 697.7,261.7 698.3,259.8 698.9,257.7 699.5,255.5 700.2,253.3 700.8,251.3 701.4,249.6 702.0,248.3 702.6,247.4 703.3,247.0 703.9,247.0 704.5,247.4 705.1,248.1 705.8,249.0 706.4,250.0 707.0,251.1 707.6,252.3 708.2,253.4 708.9,254.6 709.5,255.7 710.1,256.8 710.7,257.9 711.4,259.0 712.0,259.9 712.6,260.7 713.2,261.3 713.8,261.5 714.5,261.3 715.1,260.8 715.7,259.7 716.3,258.3 717.0,256.4 717.6,254.4 718.2,252.2 718.8,250.0 719.4,248.0 720.1,246.3 720.7,245.0 721.3,244.0 721.9,243.6 722.6,243.6 723.2,243.9 723.8,244.6 724.4,245.5 725.0,246.5 725.7,247.6 726.3,248.8 726.9,250.0 727.5,251.1 728.1,252.3 728.8,253.4 729.4,254.5 730.0,255.6 730.6,256.6 731.3,257.4 731.9,258.0 732.5,258.3 733.1,258.2 733.7,257.7 734.4,256.7 735.0,255.3 735.6,253.5 736.2,251.5 736.9,249.4 737.5,247.2 738.1,245.2 738.7,243.4 739.3,242.1 740.0,241.1 740.6,240.6 741.2,240.6 741.8,240.9 742.5,241.6 743.1,242.4 743.7,243.5 744.3,244.6 744.9,245.8 745.6,246.9 746.2,248.1 746.8,249.3 747.4,250.4 748.1,251.6 748.7,252.7 749.3,253.7 749.9,254.5 750.5,255.2 751.2,255.5 751.8,255.5 752.4,255.0 753.0,254.1 753.7,252.8 754.3,251.1 754.9,249.1 755.5,246.9 756.1,244.8 756.8,242.7 757.4,241.0 758.0,239.6 758.6,238.6 759.2,238.0 759.9,238.0 760.5,238.3 761.1,238.9 761.7,239.8 762.4,240.8 763.0,241.9 763.6,243.1 764.2,244.3 764.8,245.5 765.5,246.6 766.1,247.8 766.7,249.0 767.3,250.1 768.0,251.1 768.6,252.0 769.2,252.7 769.8,253.1 770.4,253.1 771.1,252.7 771.7,251.9 772.3,250.6 772.9,248.9 773.6,247.0 774.2,244.8 774.8,242.7 775.4,240.6 776.0,238.9 776.7,237.4 777.3,236.4 777.9,235.8 778.5,235.7 779.2,236.0 779.8,236.6 780.4,237.4 781.0,238.5 781.6,239.6 782.3,240.8 782.9,242.0 783.5,243.2 784.1,244.4 784.8,245.5 785.4,246.7 786.0,247.8 786.6,248.9 787.2,249.8 787.9,250.5 788.5,251.0 789.1,251.0 789.7,250.7 790.3,249.9 791.0,248.7 791.6,247.1 792.2,245.2 792.8,243.1 793.5,240.9 794.1,238.9 794.7,237.1 795.3,235.6 795.9,234.5 796.6,233.9 797.2,233.7 797.8,234.0 798.4,234.6 799.1,235.4 799.7,236.4 800.3,237.6 800.9,238.8 801.5,240.0 802.2,241.2 802.8,242.4 803.4,243.5 804.0,244.7 804.7,245.9 805.3,246.9 805.9,247.9 806.5,248.7 807.1,249.1 807.8,249.3 808.4,249.0 809.0,248.3 809.6,247.1 810.3,245.5 810.9,243.6 811.5,241.6 812.1,239.4 812.7,237.4 813.4,235.5 814.0,234.0 814.6,232.9 815.2,232.3 815.9,232.1 816.5,232.3 817.1,232.8 817.7,233.6 818.3,234.7 819.0,235.8 819.6,237.0 820.2,238.2 820.8,239.4 821.4,240.6 822.1,241.8 822.7,243.0 823.3,244.1 823.9,245.2 824.6,246.2 825.2,247.0 825.8,247.5 826.4,247.7 827.0,247.5 827.7,246.8 828.3,245.7 828.9,244.2 829.5,242.4 830.2,240.3 830.8,238.2 831.4,236.1 832.0,234.2 832.6,232.7 833.3,231.5 833.9,230.8 834.5,230.6 835.1,230.8 835.8,231.3 836.4,232.1 837.0,233.1 837.6,234.2 838.2,235.4 838.9,236.6 839.5,237.8 840.1,239.1 840.7,240.3 841.4,241.5 842.0,242.6 842.6,243.7 843.2,244.7 843.8,245.6 844.5,246.1 845.1,246.4 845.7,246.2 846.3,245.6 847.0,244.5 847.6,243.1 848.2,241.3 848.8,239.2 849.4,237.1 850.1,235.0 850.7,233.1 851.3,231.6 851.9,230.4 852.5,229.6 853.2,229.3 853.8,229.5 854.4,230.0 855.0,230.7 855.7,231.7 856.3,232.9 856.9,234.0 857.5,235.3 858.1,236.5 858.8,237.7 859.4,238.9 860.0,240.1 860.6,241.3 861.3,242.4 861.9,243.5 862.5,244.3 863.1,244.9 863.7,245.2 864.4,245.1 865.0,244.5 865.6,243.5 866.2,242.1 866.9,240.4 867.5,238.3 868.1,236.2 868.7,234.1 869.3,232.2 870.0,230.6 870.6,229.4 871.2,228.6 871.8,228.3 872.5,228.3 873.1,228.8 873.7,229.6 874.3,230.5 874.9,231.7 875.6,232.8 876.2,234.1 876.8,235.3 877.4,236.5 878.0,237.7 878.7,239.0 879.3,240.1 879.9,241.3 880.5,242.3 881.2,243.2 881.8,243.8 882.4,244.2 883.0,244.1 883.6,243.6 884.3,242.7 884.9,241.3 885.5,239.6 886.1,237.6 886.8,235.5 887.4,233.4 888.0,231.5 888.6,229.8 889.2,228.6 889.9,227.7 890.5,227.3 891.1,227.4 891.7,227.8 892.4,228.5 893.0,229.5 893.6,230.6 894.2,231.8 894.8,233.0 895.5,234.3 896.1,235.5 896.7,236.7 897.3,237.9 898.0,239.1 898.6,240.3 899.2,241.3 899.8,242.2 900.4,242.9 901.1,243.3 901.7,243.3 902.3,242.8 902.9,241.9 903.6,240.6 904.2,239.0 904.8,237.0 905.4,234.9 906.0,232.8 906.7,230.9 907.3,229.2 907.9,227.9 908.5,227.0 909.1,226.5 909.8,226.5 910.4,226.9 911.0,227.6 911.6,228.6 912.3,229.7 912.9,230.9 913.5,232.1 914.1,233.3 914.7,234.6 915.4,235.8 916.0,237.0 916.6,238.2 917.2,239.4 917.9,240.5 918.5,241.4 919.1,242.1 919.7,242.5 920.3,242.5 921.0,242.2 921.6,241.3 922.2,240.1 922.8,238.4 923.5,236.5 924.1,234.4 924.7,232.3 925.3,230.3 925.9,228.6 926.6,227.3 927.2,226.3 927.8,225.9 928.4,225.8 929.1,226.2 929.7,226.8 930.3,227.8 930.9,228.8 931.5,230.0 932.2,231.3 932.8,232.5 933.4,233.7 934.0,235.0 934.7,236.2 935.3,237.4 935.9,238.6 936.5,239.7 937.1,240.6 937.8,241.4 938.4,241.8 939.0,241.9 939.6,241.6 940.2,240.8 940.9,239.6 941.5,238.0 942.1,236.1 942.7,234.0 943.4,231.9 944.0,229.9 944.6,228.2 945.2,226.8 945.8,225.8 946.5,225.3 947.1,225.2 947.7,225.5 948.3,226.1 949.0,227.0 949.6,228.1 950.2,229.3 950.8,230.5 951.4,231.8 952.1,233.0 952.7,234.3 953.3,235.5 953.9,236.7 954.6,237.9 955.2,239.0 955.8,240.0 956.4,240.7 957.0,241.2 957.7,241.4 958.3,241.1 958.9,240.4 959.5,239.2 960.2,237.6 960.8,235.8 961.4,233.7 962.0,231.6 962.6,229.6 963.3,227.8 963.9,226.4 964.5,225.4 965.1,224.8 965.8,224.6 966.4,224.9 967.0,225.5 967.6,226.4 968.2,227.5 968.9,228.7 969.5,229.9 970.1,231.1 970.7,232.4 971.3,233.6 972.0,234.8 972.6,236.1 973.2,237.2 973.8,238.4 974.5,239.4 975.1,240.2 975.7,240.7 976.3,240.9 976.9,240.7 977.6,240.0 978.2,238.9 978.8,237.4 979.4,235.5 980.1,233.5 980.7,231.4 981.3,229.4 981.9,227.6 982.5,226.1 983.2,225.0 983.8,224.4 984.4,224.2 985.0,224.4 985.7,225.0 986.3,225.9 986.9,226.9 987.5,228.1 988.1,229.3 988.8,230.5 989.4,231.8 990.0,233.0 990.6,234.3 991.3,235.5 991.9,236.7 992.5,237.8 993.1,238.8 993.7,239.7 994.4,240.2 995.0,240.5 995.6,240.3 996.2,239.7 996.9,238.6 997.5,237.2 998.1,235.4 998.7,233.3 999.3,231.2 1000.0,229.2 1000.6,227.4 1001.2,225.8 1001.8,224.7 1002.4,224.0 1003.1,223.8 1003.7,224.0 1004.3,224.5 1004.9,225.4 1005.6,226.4 1006.2,227.6 1006.8,228.8 1007.4,230.0 1008.0,231.3 1008.7,232.5 1009.3,233.8 1009.9,235.0 1010.5,236.2 1011.2,237.3 1011.8,238.4 1012.4,239.2 1013.0,239.8 1013.6,240.1 1014.3,240.0 1014.9,239.4 1015.5,238.4 1016.1,237.0 1016.8,235.2 1017.4,233.2 1018.0,231.1 1018.6,229.1 1019.2,227.2 1019.9,225.7 1020.5,224.5 1021.1,223.7 1021.7,223.5 1022.4,223.6 1023.0,224.1 1023.6,224.9 1024.2,225.9 1024.8,227.1 1025.5,228.3 1026.1,229.6 1026.7,230.8 1027.3,232.0 1028.0,233.3 1028.6,234.5 1029.2,235.7 1029.8,236.9 1030.4,237.9 1031.1,238.8 1031.7,239.5 1032.3,239.8 1032.9,239.7 1033.5,239.2 1034.2,238.2 1034.8,236.9 1035.4,235.1 1036.0,233.2 1036.7,231.1 1037.3,229.0 1037.9,227.1 1038.5,225.5 1039.1,224.3 1039.8,223.5 1040.4,223.2 1041.0,223.3 1041.6,223.8 1042.3,224.5 1042.9,225.5 1043.5,226.7 1044.1,227.9 1044.7,229.1 1045.4,230.4 1046.0,231.6 1046.6,232.9 1047.2,234.1 1047.9,235.3 1048.5,236.5 1049.1,237.6 1049.7,238.5 1050.3,239.1 1051.0,239.5 1051.6,239.5 1052.2,239.0 1052.8,238.1 1053.5,236.8 1054.1,235.1 1054.7,233.1 1055.3,231.1 1055.9,229.0 1056.6,227.1 1057.2,225.4 1057.8,224.2 1058.4,223.3 1059.1,222.9 1059.7,223.0 1060.3,223.4 1060.9,224.2 1061.5,225.2 1062.2,226.3 1062.8,227.5 1063.4,228.7 1064.0,230.0 1064.6,231.2 1065.3,232.5 1065.9,233.7 1066.5,234.9 1067.1,236.1 1067.8,237.2 1068.4,238.1 1069.0,238.8 1069.6,239.2 1070.2,239.3 1070.9,238.9 1071.5,238.0 1072.1,236.7 1072.7,235.1 1073.4,233.2 1074.0,231.1 1074.6,229.0 1075.2,227.1 1075.8,225.4 1076.5,224.1 1077.1,223.2 1077.7,222.7 1078.3,222.8 1079.0,223.2 1079.6,223.9 1080.2,224.8 1080.8,225.9 1081.4,227.1 1082.1,228.4 1082.7,229.6 1083.3,230.9 1083.9,232.1 1084.6,233.4 1085.2,234.6 1085.8,235.8 1086.4,236.9 1087.0,237.8 1087.7,238.6 1088.3,239.0 1088.9,239.1 1089.5,238.7 1090.2,237.9 1090.8,236.7 1091.4,235.1 1092.0,233.2 1092.6,231.1 1093.3,229.0 1093.9,227.1 1094.5,225.4 1095.1,224.0 1095.7,223.1 1096.4,222.6 1097.0,222.5 1097.6,222.9 1098.2,223.6 1098.9,224.5 1099.5,225.6 1100.1,226.8 1100.7,228.1 1101.3,229.3 1102.0,230.6 1102.6,231.8 1103.2,233.1 1103.8,234.3 1104.5,235.5 1105.1,236.6 1105.7,237.6 1106.3,238.3 1106.9,238.8 1107.6,238.9 1108.2,238.6 1108.8,237.9 1109.4,236.7 1110.1,235.1 1110.7,233.2 1111.3,231.2 1111.9,229.1 1112.5,227.1 1113.2,225.4 1113.8,224.0 1114.4,223.0 1115.0,222.5 1115.7,222.4 1116.3,222.7 1116.9,223.3 1117.5,224.2 1118.1,225.3 1118.8,226.5 1119.4,227.8 1120.0,229.0 1120.6,230.3 1121.3,231.5 1121.9,232.8 1122.5,234.0 1123.1,235.2 1123.7,236.3 1124.4,237.3 1125.0,238.1 1125.6,238.6 1126.2,238.8 1126.8,238.5 1127.5,237.8 1128.1,236.7 1128.7,235.2 1129.3,233.3 1130.0,231.3 1130.6,229.2 1131.2,227.2 1131.8,225.4 1132.4,224.0 1133.1,222.9 1133.7,222.4 1134.3,222.2 1134.9,222.5 1135.6,223.1 1136.2,224.0 1136.8,225.1 1137.4,226.2 1138.0,227.5 1138.7,228.7 1139.3,230.0 1139.9,231.2 1140.5,232.5 1141.2,233.7 1141.8,234.9 1142.4,236.1 1143.0,237.1 1143.6,237.9 1144.3,238.5 1144.9,238.7 1145.5,238.5 1146.1,237.8 1146.8,236.7 1147.4,235.2 1148.0,233.4 1148.6,231.4 1149.2,229.3 1149.9,227.3 1150.5,225.5 1151.1,224.0 1151.7,222.9 1152.4,222.3 1153.0,222.1 1153.6,222.3 1154.2,222.9 1154.8,223.8 1155.5,224.8 1156.1,226.0 1156.7,227.2 1157.3,228.5 1157.9,229.7 1158.6,231.0 1159.2,232.2 1159.8,233.5 1160.4,234.7 1161.1,235.8 1161.7,236.9 1162.3,237.7 1162.9,238.3 1163.5,238.5 1164.2,238.4 1164.8,237.8 1165.4,236.8 1166.0,235.3 1166.7,233.5 1167.3,231.5 1167.9,229.5 1168.5,227.4 1169.1,225.6 1169.8,224.0 1170.4,222.9 1171.0,222.2 1171.6,222.0 1172.3,222.2 1172.9,222.7 1173.5,223.5 1174.1,224.6 1174.7,225.7 1175.4,227.0 1176.0,228.2 1176.6,229.5 1177.2,230.7 1177.9,232.0 1178.5,233.2 1179.1,234.4 1179.7,235.6 1180.3,236.6 1181.0,237.5 1181.6,238.1 1182.2,238.4 1182.8,238.3 1183.5,237.8 1184.1,236.8 1184.7,235.4 1185.3,233.7 1185.9,231.7 1186.6,229.6 1187.2,227.6 1187.8,225.7 1188.4,224.1 1189.0,222.9 1189.7,222.2 1190.3,221.9 1190.9,222.0 1191.5,222.6 1192.2,223.4 1192.8,224.4 1193.4,225.5 1194.0,226.7 1194.6,228.0 1195.3,229.3 1195.9,230.5 1196.5,231.8 1197.1,233.0 1197.8,234.2 1198.4,235.4 1199.0,236.4 1199.6,237.3 1200.2,238.0 1200.9,238.3 1201.5,238.3 1202.1,237.8 1202.7,236.9 1203.4,235.5 1204.0,233.8 1204.6,231.8 1205.2,229.8 1205.8,227.7 1206.5,225.8 1207.1,224.2 1207.7,223.0 1208.3,222.2 1209.0,221.8 1209.6,221.9 1210.2,222.4 1210.8,223.2 1211.4,224.2 1212.1,225.3 1212.7,226.5 1213.3,227.8 1213.9,229.0 1214.6,230.3 1215.2,231.5 1215.8,232.8 1216.4,234.0 1217.0,235.2 1217.7,236.3 1218.3,237.2 1218.9,237.9 1219.5,238.3 1220.1,238.2 1220.8,237.8 1221.4,236.9 1222.0,235.6 1222.6,233.9 1223.3,232.0 1223.9,229.9 1224.5,227.9 1225.1,225.9 1225.7,224.3 1226.4,223.0 1227.0,222.2 1227.6,221.8 1228.2,221.8 1228.9,222.3 1229.5,223.0 1230.1,224.0 1230.7,225.1 1231.3,226.3 1232.0,227.6 1232.6,228.8 1233.2,230.1 1233.8,231.3 1234.5,232.6 1235.1,233.8 1235.7,235.0 1236.3,236.1 1236.9,237.0 1237.6,237.7 1238.2,238.2 1238.8,238.2 1239.4,237.8 1240.1,237.0 1240.7,235.7 1241.3,234.1 1241.9,232.2 1242.5,230.1 1243.2,228.0 1243.8,226.1 1244.4,224.4 1245.0,223.1 1245.7,222.2 1246.3,221.8 1246.9,221.7 1247.5,222.1 1248.1,222.9 1248.8,223.8 1249.4,224.9 1250.0,226.1 1250.6,227.4 1251.2,228.6 1251.9,229.9 1252.5,231.1 1253.1,232.4 1253.7,233.6 1254.4,234.8 1255.0,235.9 1255.6,236.9 1256.2,237.6 1256.8,238.1 1257.5,238.2 1258.1,237.8 1258.7,237.1 1259.3,235.8 1260.0,234.2 1260.6,232.4 1261.2,230.3 1261.8,228.2 1262.4,226.3 1263.1,224.5 1263.7,223.2 1264.3,222.2 1264.9,221.7 1265.6,221.7 1266.2,222.0 1266.8,222.7 1267.4,223.6 1268.0,224.7 1268.7,225.9 1269.3,227.2 1269.9,228.4 1270.5,229.7 1271.2,230.9 1271.8,232.2 1272.4,233.4 1273.0,234.6 1273.6,235.7 1274.3,236.7 1274.9,237.5 1275.5,238.0 1276.1,238.1 1276.8,237.9 1277.4,237.1 1278.0,236.0 1278.6,234.4 1279.2,232.5 1279.9,230.5 1280.5,228.4 1281.1,226.4 1281.7,224.7 1282.3,223.3 1283.0,222.3 1283.6,221.7 1284.2,221.6 1284.8,221.9 1285.5,222.6 1286.1,223.5 1286.7,224.6 1287.3,225.7 1287.9,227.0 1288.6,228.3 1289.2,229.5 1289.8,230.8 1290.4,232.0 1291.1,233.2 1291.7,234.4 1292.3,235.6 1292.9,236.6 1293.5,237.4 1294.2,237.9 1294.8,238.1 1295.4,237.9 1296.0,237.2 1296.7,236.1 1297.3,234.6 1297.9,232.7 1298.5,230.7 1299.1,228.6 1299.8,226.6 1300.4,224.8 1301.0,223.4 1301.6,222.3 1302.3,221.7 1302.9,221.6 1303.5,221.8 1304.1,222.4 1304.7,223.3 1305.4,224.4 1306.0,225.6 1306.6,226.8 1307.2,228.1 1307.9,229.3 1308.5,230.6 1309.1,231.8 1309.7,233.1 1310.3,234.3 1311.0,235.4 1311.6,236.4 1312.2,237.3 1312.8,237.8 1313.4,238.1 1314.1,237.9 1314.7,237.3 1315.3,236.2 1315.9,234.7 1316.6,232.9 1317.2,230.9 1317.8,228.8 1318.4,226.8 1319.0,225.0 1319.7,223.5 1320.3,222.4 1320.9,221.7 1321.5,221.5 1322.2,221.8 1322.8,222.3 1323.4,223.2 1324.0,224.2 1324.6,225.4 1325.3,226.6 1325.9,227.9 1326.5,229.2 1327.1,230.4 1327.8,231.7 1328.4,232.9 1329.0,234.1 1329.6,235.3 1330.2,236.3 1330.9,237.2 1331.5,237.8 1332.1,238.0 1332.7,237.9 1333.4,237.3 1334.0,236.3 1334.6,234.9 1335.2,233.1 1335.8,231.1 1336.5,229.0 1337.1,227.0 1337.7,225.2 1338.3,223.6 1339.0,222.5 1339.6,221.8 1340.2,221.5 1340.8,221.7 1341.4,222.2 1342.1,223.0 1342.7,224.1 1343.3,225.2 1343.9,226.5 1344.5,227.7 1345.2,229.0 1345.8,230.2 1346.4,231.5 1347.0,232.7 1347.7,233.9 1348.3,235.1 1348.9,236.2 1349.5,237.0 1350.1,237.7 1350.8,238.0 1351.4,237.9 1352.0,237.4 1352.6,236.4 1353.3,235.0 1353.9,233.3 1354.5,231.3 1355.1,229.3 1355.7,227.2 1356.4,225.3 1357.0,223.7 1357.6,222.6 1358.2,221.8 1358.9,221.5 1359.5,221.6 1360.1,222.1 1360.7,222.9 1361.3,223.9 1362.0,225.1 1362.6,226.3 1363.2,227.6 1363.8,228.8 1364.5,230.1 1365.1,231.3 1365.7,232.6 1366.3,233.8 1366.9,235.0 1367.6,236.0 1368.2,236.9 1368.8,237.6 1369.4,238.0 1370.1,237.9 1370.7,237.4 1371.3,236.5 1371.9,235.2 1372.5,233.5 1373.2,231.5 1373.8,229.5 1374.4,227.4 1375.0,225.5 1375.6,223.9 1376.3,222.6 1376.9,221.8 1377.5,221.5 1378.1,221.6 1378.8,222.0 1379.4,222.8 1380.0,223.8 1380.6,224.9 1381.2,226.1 1381.9,227.4 1382.5,228.7 1383.1,229.9 1383.7,231.2 1384.4,232.4 1385.0,233.6 1385.6,234.8 1386.2,235.9 1386.8,236.8 1387.5,237.5 1388.1,237.9 1388.7,237.9 1389.3,237.5 1390.0,236.6 1390.6,235.3 1391.2,233.7 1391.8,231.8 1392.4,229.7 1393.1,227.6 1393.7,225.7 1394.3,224.0 1394.9,222.7 1395.6,221.9 1396.2,221.5 1396.8,221.5 1397.4,221.9 1398.0,222.7 1398.7,223.6 1399.3,224.8 1399.9,226.0 1400.5,227.2 1401.2,228.5 1401.8,229.7 1402.4,231.0 1403.0,232.2 1403.6,233.5 1404.3,234.7 1404.9,235.8 1405.5,236.7 1406.1,237.4 1406.7,237.9 1407.4,237.9 1408.0,237.6 1408.6,236.7 1409.2,235.5 1409.9,233.9 1410.5,232.0 1411.1,229.9 1411.7,227.8 1412.3,225.9 1413.0,224.2 1413.6,222.9 1414.2,222.0 1414.8,221.5 1415.5,221.5 1416.1,221.9 1416.7,222.6 1417.3,223.5 1417.9,224.6 1418.6,225.8 1419.2,227.1 1419.8,228.3 1420.4,229.6 1421.1,230.8 1421.7,232.1 1422.3,233.3 1422.9,234.5 1423.5,235.6 1424.2,236.6 1424.8,237.4 1425.4,237.8 1426.0,237.9 1426.7,237.6 1427.3,236.9 1427.9,235.7 1428.5,234.1 1429.1,232.2 1429.8,230.1 1430.4,228.1 1431.0,226.1 1431.6,224.4 1432.3,223.0 1432.9,222.0 1433.5,221.5 1434.1,221.4 1434.7,221.8 1435.4,222.5 1436.0,223.4 1436.6,224.5 1437.2,225.7 1437.9,226.9 1438.5,228.2 1439.1,229.4 1439.7,230.7 1440.3,231.9 1441.0,233.2 1441.6,234.4 1442.2,235.5 1442.8,236.5 1443.4,237.3 1444.1,237.8 1444.7,237.9 1445.3,237.7 1445.9,236.9 1446.6,235.8 1447.2,234.3 1447.8,232.4 1448.4,230.4 1449.0,228.3 1449.7,226.3 1450.3,224.5 1450.9,223.1 1451.5,222.1 1452.2,221.5 1452.8,221.4 1453.4,221.7 1454.0,222.3 1454.6,223.2 1455.3,224.3 1455.9,225.5 1456.5,226.8 1457.1,228.0 1457.8,229.3 1458.4,230.5 1459.0,231.8 1459.6,233.0 1460.2,234.2 1460.9,235.4 1461.5,236.4 1462.1,237.2 1462.7,237.7 1463.4,237.9 1464.0,237.7 1464.6,237.0 1465.2,235.9 1465.8,234.4 1466.5,232.6 1467.1,230.6 1467.7,228.5 1468.3,226.5 1469.0,224.7 1469.6,223.2 1470.2,222.2 1470.8,221.6 1471.4,221.4 1472.1,221.7 1472.7,222.3 1473.3,223.1 1473.9,224.2 1474.5,225.4 1475.2,226.6 1475.8,227.9 1476.4,229.1 1477.0,230.4 1477.7,231.6 1478.3,232.9 1478.9,234.1 1479.5,235.2 1480.1,236.2 1480.8,237.1 1481.4,237.7 1482.0,237.9 1482.6,237.7 1483.3,237.1 1483.9,236.1 1484.5,234.6 1485.1,232.8 1485.7,230.8 1486.4,228.7 1487.0,226.7 1487.6,224.9 1488.2,223.4 1488.9,222.3 1489.5,221.6 1490.1,221.4 1490.7,221.6 1491.3,222.2 1492.0,223.0 1492.6,224.0 1493.2,225.2 1493.8,226.5 1494.5,227.7 1495.1,229.0 1495.7,230.2 1496.3,231.5 1496.9,232.7 1497.6,233.9 1498.2,235.1 1498.8,236.1 1499.4,237.0 1500.1,237.6 1500.7,237.9 1501.3,237.8 1501.9,237.2 1502.5,236.2 1503.2,234.8 1503.8,233.0 1504.4,231.1 1505.0,229.0 1505.6,226.9 1506.3,225.1 1506.9,223.5 1507.5,222.4 1508.1,221.7 1508.8,221.4 1509.4,221.5 1510.0,222.1 1510.6,222.9 1511.2,223.9 1511.9,225.1 1512.5,226.3 1513.1,227.6 1513.7,228.8 1514.4,230.1 1515.0,231.3 1515.6,232.6 1516.2,233.8 1516.8,234.9 1517.5,236.0 1518.1,236.9 1518.7,237.6 1519.3,237.9 1520.0,237.8 1520.6,237.3 1521.2,236.3 1521.8,235.0 1522.4,233.3 1523.1,231.3 1523.7,229.2 1524.3,227.2 1524.9,225.3 1525.6,223.7 1526.2,222.5 1526.8,221.7 1527.4,221.4 1528.0,221.5 1528.7,222.0 1529.3,222.8 1529.9,223.8 1530.5,224.9 1531.2,226.2 1531.8,227.4 1532.4,228.7 1533.0,229.9 1533.6,231.2 1534.3,232.4 1534.9,233.6 1535.5,234.8 1536.1,235.9 1536.7,236.8 1537.4,237.5 1538.0,237.8 1538.6,237.8 1539.2,237.4 1539.9,236.5 1540.5,235.1 1541.1,233.5 1541.7,231.5 1542.3,229.4 1543.0,227.4 1543.6,225.5 1544.2,223.8 1544.8,222.6 1545.5,221.8 1546.1,221.4 1546.7,221.5 1547.3,221.9 1547.9,222.7 1548.6,223.7 1549.2,224.8 1549.8,226.0 1550.4,227.3 1551.1,228.5 1551.7,229.8 1552.3,231.0 1552.9,232.3 1553.5,233.5 1554.2,234.7 1554.8,235.8 1555.4,236.7 1556.0,237.4 1556.7,237.8 1557.3,237.8 1557.9,237.4 1558.5,236.6 1559.1,235.3 1559.8,233.7 1560.4,231.7 1561.0,229.7 1561.6,227.6 1562.3,225.7 1562.9,224.0 1563.5,222.7 1564.1,221.8 1564.7,221.4 1565.4,221.4 1566.0,221.8 1566.6,222.6 1567.2,223.5 1567.8,224.6 1568.5,225.9 1569.1,227.1 1569.7,228.4 1570.3,229.6 1571.0,230.9 1571.6,232.1 1572.2,233.4 1572.8,234.5 1573.4,235.6 1574.1,236.6 1574.7,237.3 1575.3,237.8 1575.9,237.9 1576.6,237.5 1577.2,236.7 1577.8,235.5 1578.4,233.9 1579.0,232.0 1579.7,229.9 1580.3,227.8 1580.9,225.9 1581.5,224.2 1582.2,222.8 1582.8,221.9 1583.4,221.4 1584.0,221.4 1584.6,221.8 1585.3,222.5 1585.9,223.4 1586.5,224.5 1587.1,225.7 1587.8,227.0 1588.4,228.2 1589.0,229.5 1589.6,230.7 1590.2,232.0 1590.9,233.2 1591.5,234.4 1592.1,235.5 1592.7,236.5 1593.4,237.3 1594.0,237.8 1594.6,237.9 1595.2,237.6 1595.8,236.8 1596.5,235.6 1597.1,234.1 1597.7,232.2 1598.3,230.2 1598.9,228.1 1599.6,226.1 1600.2,224.4 1600.8,223.0 1601.4,222.0 1602.1,221.5 1602.7,221.4 1603.3,221.7 1603.9,222.4 1604.5,223.3 1605.2,224.4 1605.8,225.6 1606.4,226.8 1607.0,228.1 1607.7,229.3 1608.3,230.6 1608.9,231.8 1609.5,233.1 1610.1,234.3 1610.8,235.4 1611.4,236.4 1612.0,237.2 1612.6,237.7 1613.3,237.9 1613.9,237.6 1614.5,236.9 1615.1,235.8 1615.7,234.3 1616.4,232.4 1617.0,230.4 1617.6,228.3 1618.2,226.3 1618.9,224.5 1619.5,223.1 1620.1,222.1 1620.7,221.5 1621.3,221.4 1622.0,221.6 1622.6,222.3 1623.2,223.2 1623.8,224.2 1624.5,225.4 1625.1,226.7 1625.7,227.9 1626.3,229.2 1626.9,230.4 1627.6,231.7 1628.2,232.9 1628.8,234.1 1629.4,235.3 1630.0,236.3 1630.7,237.1 1631.3,237.7 1631.9,237.9 1632.5,237.7 1633.2,237.0 1633.8,235.9 1634.4,234.5 1635.0,232.6 1635.6,230.6 1636.3,228.5 1636.9,226.5 1637.5,224.7 1638.1,223.2 1638.8,222.2 1639.4,221.5 1640.0,221.4 1640.6,221.6 1641.2,222.2 1641.9,223.0 1642.5,224.1 1643.1,225.3 1643.7,226.5 1644.4,227.8 1645.0,229.0 1645.6,230.3 1646.2,231.5 1646.8,232.8 1647.5,234.0 1648.1,235.1 1648.7,236.2 1649.3,237.0 1650.0,237.6 1650.6,237.9 1651.2,237.7 1651.8,237.1 1652.4,236.1 1653.1,234.6 1653.7,232.9 1654.3,230.9 1654.9,228.8 1655.6,226.7 1656.2,224.9 1656.8,223.4 1657.4,222.3 1658.0,221.6 1658.7,221.4 1659.3,221.5 1659.9,222.1 1660.5,222.9 1661.1,224.0 1661.8,225.1 1662.4,226.4 1663.0,227.6 1663.6,228.9 1664.3,230.1 1664.9,231.4 1665.5,232.6 1666.1,233.9 1666.7,235.0 1667.4,236.1 1668.0,236.9 1668.6,237.6 1669.2,237.9 1669.9,237.8 1670.5,237.2 1671.1,236.2 1671.7,234.8 1672.3,233.1 1673.0,231.1 1673.6,229.0 1674.2,227.0 1674.8,225.1 1675.5,223.5 1676.1,222.4 1676.7,221.6 1677.3,221.4 1677.9,221.5 1678.6,222.0 1679.2,222.8 1679.8,223.8 1680.4,225.0 1681.1,226.2 1681.7,227.5 1682.3,228.7 1682.9,230.0 1683.5,231.3 1684.2,232.5 1684.8,233.7 1685.4,234.9 1686.0,235.9 1686.7,236.8 1687.3,237.5 1687.9,237.8 1688.5,237.8 1689.1,237.3 1689.8,236.4 1690.4,235.0 1691.0,233.3 1691.6,231.3 1692.2,229.3 1692.9,227.2 1693.5,225.3 1694.1,223.7 1694.7,222.5 1695.4,221.7 1696.0,221.4 1696.6,221.5 1697.2,221.9 1697.8,222.7 1698.5,223.7 1699.1,224.9 1699.7,226.1 1700.3,227.3 1701.0,228.6 1701.6,229.9 1702.2,231.1 1702.8,232.3 1703.4,233.6 1704.1,234.7 1704.7,235.8 1705.3,236.8 1705.9,237.4 1706.6,237.8 1707.2,237.8 1707.8,237.4 1708.4,236.5 1709.0,235.2 1709.7,233.5 1710.3,231.6 1710.9,229.5 1711.5,227.4 1712.2,225.5 1712.8,223.9 1713.4,222.6 1714.0,221.8 1714.6,221.4 1715.3,221.4 1715.9,221.9 1716.5,222.6 1717.1,223.6 1717.8,224.7 1718.4,225.9 1719.0,227.2 1719.6,228.4 1720.2,229.7 1720.9,231.0 1721.5,232.2 1722.1,233.4 1722.7,234.6 1723.3,235.7 1724.0,236.7 1724.6,237.4 1725.2,237.8 1725.8,237.8 1726.5,237.4 1727.1,236.6 1727.7,235.3 1728.3,233.7 1728.9,231.8 1729.6,229.7 1730.2,227.7 1730.8,225.7 1731.4,224.0 1732.1,222.7 1732.7,221.8 1733.3,221.4 1733.9,221.4 1734.5,221.8 1735.2,222.5 1735.8,223.5 1736.4,224.6 1737.0,225.8 1737.7,227.0 1738.3,228.3 1738.9,229.6 1739.5,230.8 1740.1,232.1 1740.8,233.3 1741.4,234.5 1742.0,235.6 1742.6,236.6 1743.3,237.3 1743.9,237.8 1744.5,237.8 1745.1,237.5 1745.7,236.7 1746.4,235.5 1747.0,233.9 1747.6,232.0 1748.2,230.0 1748.9,227.9 1749.5,225.9 1750.1,224.2 1750.7,222.9 1751.3,221.9 1752.0,221.4 1752.6,221.4 1753.2,221.7 1753.8,222.4 1754.4,223.3 1755.1,224.4 1755.7,225.6 1756.3,226.9 1756.9,228.2 1757.6,229.4 1758.2,230.7 1758.8,231.9 1759.4,233.1 1760.0,234.3 1760.7,235.5 1761.3,236.5 1761.9,237.2 1762.5,237.7 1763.2,237.9 1763.8,237.6 1764.4,236.8 1765.0,235.7 1765.6,234.1 1766.3,232.3 1766.9,230.2 1767.5,228.1 1768.1,226.1 1768.8,224.4 1769.4,223.0 1770.0,222.0 1770.6,221.5 1771.2,221.4 1771.9,221.7 1772.5,222.3 1773.1,223.2 1773.7,224.3 1774.4,225.5 1775.0,226.8 1775.6,228.0 1776.2,229.3 1776.8,230.5 1777.5,231.8 1778.1,233.0 1778.7,234.2 1779.3,235.3 1780.0,236.3 1780.6,237.2 1781.2,237.7 1781.8,237.9 1782.4,237.6 1783.1,236.9 1783.7,235.8 1784.3,234.3 1784.9,232.5 1785.5,230.5 1786.2,228.4 1786.8,226.4 1787.4,224.6 1788.0,223.1 1788.7,222.1 1789.3,221.5 1789.9,221.3 1790.5,221.6 1791.1,222.2 1791.8,223.1 1792.4,224.2 1793.0,225.4 1793.6,226.6 1794.3,227.9 1794.9,229.1 1795.5,230.4"/>
<polyline stroke="#EDB120" filter="url(#al)" points="240.5,740.5 241.1,740.5 241.7,740.5 242.4,740.5 243.0,740.5 243.6,740.5 244.2,740.4 244.9,740.2 245.5,739.7 246.1,739.0 246.7,737.9 247.3,736.2 248.0,734.0 248.6,731.3 249.2,728.2 249.8,724.9 250.5,721.6 251.1,718.5 251.7,715.8 252.3,713.5 252.9,711.8 253.6,710.6 254.2,709.8 254.8,709.4 255.4,709.2 256.1,709.1 256.7,709.0 257.3,709.0 257.9,709.0 258.5,709.0 259.2,709.0 259.8,709.0 260.4,709.1 261.0,709.1 261.6,709.1 262.3,709.0 262.9,709.0 263.5,708.8 264.1,708.4 264.8,707.7 265.4,706.6 266.0,705.0 266.6,702.9 267.2,700.3 267.9,697.2 268.5,693.9 269.1,690.6 269.7,687.5 270.4,684.7 271.0,682.4 271.6,680.6 272.2,679.4 272.8,678.6 273.5,678.1 274.1,677.9 274.7,677.8 275.3,677.8 276.0,677.8 276.6,677.8 277.2,677.8 277.8,677.9 278.4,677.9 279.1,677.9 279.7,677.9 280.3,677.9 280.9,677.9 281.6,677.9 282.2,677.7 282.8,677.4 283.4,676.8 284.0,675.7 284.7,674.2 285.3,672.2 285.9,669.6 286.5,666.6 287.2,663.4 287.8,660.1 288.4,656.9 289.0,654.1 289.6,651.8 290.3,650.0 290.9,648.7 291.5,647.9 292.1,647.4 292.7,647.2 293.4,647.1 294.0,647.1 294.6,647.1 295.2,647.2 295.9,647.2 296.5,647.2 297.1,647.3 297.7,647.3 298.3,647.4 299.0,647.4 299.6,647.4 300.2,647.4 300.8,647.3 301.5,647.0 302.1,646.4 302.7,645.5 303.3,644.0 303.9,642.1 304.6,639.6 305.2,636.7 305.8,633.5 306.4,630.2 307.1,627.1 307.7,624.2 308.3,621.9 308.9,620.0 309.5,618.7 310.2,617.9 310.8,617.4 311.4,617.2 312.0,617.1 312.7,617.2 313.3,617.2 313.9,617.3 314.5,617.4 315.1,617.4 315.8,617.5 316.4,617.6 317.0,617.6 317.6,617.7 318.2,617.8 318.9,617.8 319.5,617.7 320.1,617.5 320.7,617.0 321.4,616.1 322.0,614.8 322.6,612.9 323.2,610.5 323.8,607.7 324.5,604.5 325.1,601.3 325.7,598.1 326.3,595.3 327.0,592.9 327.6,591.1 328.2,589.7 328.8,588.9 329.4,588.4 330.1,588.2 330.7,588.2 331.3,588.2 331.9,588.3 332.6,588.4 333.2,588.5 333.8,588.6 334.4,588.8 335.0,588.9 335.7,589.0 336.3,589.1 336.9,589.2 337.5,589.2 338.2,589.2 338.8,589.0 339.4,588.6 340.0,587.8 340.6,586.6 341.3,584.8 341.9,582.5 342.5,579.8 343.1,576.7 343.8,573.5 344.4,570.4 345.0,567.5 345.6,565.1 346.2,563.2 346.9,561.9 347.5,561.1 348.1,560.6 348.7,560.4 349.3,560.4 350.0,560.5 350.6,560.6 351.2,560.8 351.8,560.9 352.5,561.1 353.1,561.2 353.7,561.4 354.3,561.5 354.9,561.7 355.6,561.8 356.2,561.9 356.8,562.0 357.4,561.9 358.1,561.5 358.7,560.8 359.3,559.7 359.9,558.0 360.5,555.8 361.2,553.2 361.8,550.2 362.4,547.0 363.0,543.9 363.7,541.1 364.3,538.7 364.9,536.8 365.5,535.4 366.1,534.6 366.8,534.1 367.4,534.0 368.0,534.0 368.6,534.1 369.3,534.3 369.9,534.5 370.5,534.7 371.1,534.9 371.7,535.1 372.4,535.3 373.0,535.5 373.6,535.7 374.2,535.9 374.9,536.1 375.5,536.2 376.1,536.1 376.7,535.8 377.3,535.2 378.0,534.2 378.6,532.7 379.2,530.6 379.8,528.0 380.4,525.1 381.1,522.0 381.7,518.9 382.3,516.1 382.9,513.7 383.6,511.8 384.2,510.4 384.8,509.6 385.4,509.1 386.0,509.0 386.7,509.0 387.3,509.2 387.9,509.4 388.5,509.7 389.2,510.0 389.8,510.2 390.4,510.5 391.0,510.7 391.6,511.0 392.3,511.2 392.9,511.5 393.5,511.7 394.1,511.8 394.8,511.9 395.4,511.7 396.0,511.2 396.6,510.2 397.2,508.8 397.9,506.8 398.5,504.4 399.1,501.5 399.7,498.5 400.4,495.5 401.0,492.7 401.6,490.2 402.2,488.3 402.8,487.0 403.5,486.1 404.1,485.7 404.7,485.6 405.3,485.7 406.0,485.9 406.6,486.2 407.2,486.5 407.8,486.8 408.4,487.1 409.1,487.4 409.7,487.7 410.3,488.0 410.9,488.3 411.5,488.6 412.2,488.9 412.8,489.1 413.4,489.2 414.0,489.1 414.7,488.7 415.3,487.9 415.9,486.5 416.5,484.7 417.1,482.3 417.8,479.6 418.4,476.6 419.0,473.6 419.6,470.8 420.3,468.4 420.9,466.5 421.5,465.1 422.1,464.3 422.7,463.9 423.4,463.8 424.0,463.9 424.6,464.2 425.2,464.5 425.9,464.9 426.5,465.2 427.1,465.6 427.7,466.0 428.3,466.3 429.0,466.7 429.6,467.0 430.2,467.4 430.8,467.7 431.5,468.0 432.1,468.2 432.7,468.2 433.3,467.8 433.9,467.1 434.6,465.9 435.2,464.2 435.8,461.9 436.4,459.2 437.1,456.3 437.7,453.4 438.3,450.6 438.9,448.2 439.5,446.3 440.2,444.9 440.8,444.1 441.4,443.7 442.0,443.6 442.6,443.8 443.3,444.1 443.9,444.5 444.5,444.9 445.1,445.3 445.8,445.7 446.4,446.1 447.0,446.5 447.6,447.0 448.2,447.4 448.9,447.8 449.5,448.2 450.1,448.5 450.7,448.8 451.4,448.8 452.0,448.6 452.6,448.0 453.2,446.9 453.8,445.2 454.5,443.1 455.1,440.5 455.7,437.7 456.3,434.8 457.0,432.1 457.6,429.7 458.2,427.7 458.8,426.4 459.4,425.5 460.1,425.1 460.7,425.0 461.3,425.3 461.9,425.6 462.6,426.0 463.2,426.5 463.8,427.0 464.4,427.4 465.0,427.9 465.7,428.4 466.3,428.8 466.9,429.3 467.5,429.8 468.2,430.2 468.8,430.6 469.4,430.9 470.0,431.1 470.6,430.9 471.3,430.4 471.9,429.4 472.5,427.9 473.1,425.9 473.7,423.4 474.4,420.6 475.0,417.8 475.6,415.1 476.2,412.7 476.9,410.7 477.5,409.4 478.1,408.5 478.7,408.1 479.3,408.1 480.0,408.3 480.6,408.7 481.2,409.2 481.8,409.7 482.5,410.2 483.1,410.7 483.7,411.3 484.3,411.8 484.9,412.3 485.6,412.8 486.2,413.3 486.8,413.8 487.4,414.3 488.1,414.6 488.7,414.9 489.3,414.8 489.9,414.4 490.5,413.5 491.2,412.1 491.8,410.2 492.4,407.8 493.0,405.1 493.7,402.3 494.3,399.6 494.9,397.2 495.5,395.3 496.1,393.9 496.8,393.0 497.4,392.6 498.0,392.6 498.6,392.9 499.3,393.3 499.9,393.8 500.5,394.4 501.1,394.9 501.7,395.5 502.4,396.1 503.0,396.7 503.6,397.2 504.2,397.8 504.8,398.4 505.5,398.9 506.1,399.4 506.7,399.8 507.3,400.1 508.0,400.2 508.6,399.8 509.2,399.1 509.8,397.8 510.4,395.9 511.1,393.6 511.7,391.0 512.3,388.3 512.9,385.6 513.6,383.2 514.2,381.3 514.8,379.9 515.4,379.0 516.0,378.6 516.7,378.6 517.3,378.9 517.9,379.3 518.5,379.9 519.2,380.5 519.8,381.1 520.4,381.7 521.0,382.3 521.6,383.0 522.3,383.6 522.9,384.2 523.5,384.8 524.1,385.4 524.8,386.0 525.4,386.4 526.0,386.8 526.6,386.9 527.2,386.7 527.9,386.0 528.5,384.8 529.1,383.1 529.7,380.9 530.4,378.3 531.0,375.6 531.6,373.0 532.2,370.6 532.8,368.7 533.5,367.2 534.1,366.3 534.7,365.9 535.3,365.9 535.9,366.2 536.6,366.7 537.2,367.3 537.8,367.9 538.4,368.6 539.1,369.3 539.7,369.9 540.3,370.6 540.9,371.2 541.5,371.9 542.2,372.6 542.8,373.2 543.4,373.8 544.0,374.4 544.7,374.8 545.3,374.9 545.9,374.8 546.5,374.2 547.1,373.1 547.8,371.5 548.4,369.4 549.0,366.9 549.6,364.3 550.3,361.7 550.9,359.3 551.5,357.3 552.1,355.9 552.7,354.9 553.4,354.5 554.0,354.5 554.6,354.8 555.2,355.4 555.9,356.0 556.5,356.7 557.1,357.4 557.7,358.1 558.3,358.8 559.0,359.5 559.6,360.2 560.2,360.9 560.8,361.6 561.5,362.2 562.1,362.9 562.7,363.5 563.3,363.9 563.9,364.2 564.6,364.1 565.2,363.6 565.8,362.7 566.4,361.1 567.1,359.1 567.7,356.7 568.3,354.1 568.9,351.5 569.5,349.1 570.2,347.2 570.8,345.7 571.4,344.7 572.0,344.3 572.6,344.3 573.3,344.6 573.9,345.2 574.5,345.8 575.1,346.5 575.8,347.3 576.4,348.0 577.0,348.8 577.6,349.5 578.2,350.2 578.9,351.0 579.5,351.7 580.1,352.4 580.7,353.1 581.4,353.7 582.0,354.3 582.6,354.6 583.2,354.6 583.8,354.2 584.5,353.3 585.1,351.9 585.7,349.9 586.3,347.6 587.0,345.1 587.6,342.5 588.2,340.1 588.8,338.1 589.4,336.6 590.1,335.6 590.7,335.2 591.3,335.2 591.9,335.5 592.6,336.0 593.2,336.7 593.8,337.5 594.4,338.2 595.0,339.0 595.7,339.8 596.3,340.6 596.9,341.3 597.5,342.1 598.2,342.9 598.8,343.6 599.4,344.3 600.0,345.0 600.6,345.6 601.3,346.0 601.9,346.1 602.5,345.7 603.1,344.9 603.7,343.6 604.4,341.8 605.0,339.5 605.6,337.0 606.2,334.4 606.9,332.1 607.5,330.1 608.1,328.5 608.7,327.5 609.3,327.0 610.0,327.0 610.6,327.3 611.2,327.9 611.8,328.6 612.5,329.4 613.1,330.2 613.7,331.0 614.3,331.8 614.9,332.6 615.6,333.4 616.2,334.2 616.8,335.0 617.4,335.8 618.1,336.5 618.7,337.3 619.3,337.9 619.9,338.3 620.5,338.5 621.2,338.2 621.8,337.5 622.4,336.3 623.0,334.5 623.7,332.3 624.3,329.9 624.9,327.3 625.5,325.0 626.1,322.9 626.8,321.4 627.4,320.3 628.0,319.8 628.6,319.8 629.3,320.1 629.9,320.7 630.5,321.4 631.1,322.2 631.7,323.0 632.4,323.8 633.0,324.7 633.6,325.5 634.2,326.3 634.8,327.2 635.5,328.0 636.1,328.8 636.7,329.6 637.3,330.3 638.0,331.0 638.6,331.5 639.2,331.7 639.8,331.5 640.4,330.9 641.1,329.7 641.7,328.1 642.3,325.9 642.9,323.5 643.6,321.0 644.2,318.7 644.8,316.6 645.4,315.0 646.0,313.9 646.7,313.4 647.3,313.3 647.9,313.7 648.5,314.2 649.2,315.0 649.8,315.8 650.4,316.6 651.0,317.5 651.6,318.3 652.3,319.2 652.9,320.0 653.5,320.9 654.1,321.7 654.8,322.6 655.4,323.4 656.0,324.2 656.6,324.9 657.2,325.4 657.9,325.7 658.5,325.6 659.1,325.1 659.7,324.0 660.4,322.4 661.0,320.3 661.6,318.0 662.2,315.5 662.8,313.1 663.5,311.0 664.1,309.4 664.7,308.3 665.3,307.7 665.9,307.6 666.6,307.9 667.2,308.5 667.8,309.2 668.4,310.1 669.1,310.9 669.7,311.8 670.3,312.7 670.9,313.6 671.5,314.5 672.2,315.3 672.8,316.2 673.4,317.1 674.0,317.9 674.7,318.7 675.3,319.5 675.9,320.0 676.5,320.4 677.1,320.4 677.8,319.9 678.4,318.9 679.0,317.4 679.6,315.4 680.3,313.1 680.9,310.6 681.5,308.2 682.1,306.1 682.7,304.5 683.4,303.3 684.0,302.7 684.6,302.6 685.2,302.9 685.9,303.4 686.5,304.2 687.1,305.0 687.7,305.9 688.3,306.8 689.0,307.7 689.6,308.6 690.2,309.5 690.8,310.4 691.5,311.3 692.1,312.2 692.7,313.1 693.3,313.9 693.9,314.7 694.6,315.3 695.2,315.7 695.8,315.7 696.4,315.3 697.0,314.4 697.7,313.0 698.3,311.0 698.9,308.8 699.5,306.3 700.2,304.0 700.8,301.8 701.4,300.1 702.0,298.9 702.6,298.3 703.3,298.1 703.9,298.4 704.5,299.0 705.1,299.7 705.8,300.6 706.4,301.5 707.0,302.4 707.6,303.3 708.2,304.2 708.9,305.1 709.5,306.0 710.1,307.0 710.7,307.9 711.4,308.7 712.0,309.6 712.6,310.4 713.2,311.1 713.8,311.5 714.5,311.6 715.1,311.3 715.7,310.4 716.3,309.1 717.0,307.2 717.6,305.0 718.2,302.6 718.8,300.2 719.4,298.1 720.1,296.3 720.7,295.1 721.3,294.4 721.9,294.2 722.6,294.5 723.2,295.0 723.8,295.7 724.4,296.6 725.0,297.5 725.7,298.5 726.3,299.4 726.9,300.3 727.5,301.3 728.1,302.2 728.8,303.1 729.4,304.0 730.0,304.9 730.6,305.8 731.3,306.6 731.9,307.3 732.5,307.8 733.1,308.0 733.7,307.7 734.4,307.0 735.0,305.7 735.6,303.9 736.2,301.7 736.9,299.3 737.5,297.0 738.1,294.8 738.7,293.0 739.3,291.7 740.0,291.0 740.6,290.8 741.2,291.0 741.8,291.5 742.5,292.2 743.1,293.1 743.7,294.0 744.3,295.0 744.9,295.9 745.6,296.9 746.2,297.8 746.8,298.8 747.4,299.7 748.1,300.6 748.7,301.6 749.3,302.5 749.9,303.3 750.5,304.0 751.2,304.6 751.8,304.8 752.4,304.6 753.0,303.9 753.7,302.7 754.3,301.0 754.9,298.8 755.5,296.5 756.1,294.1 756.8,291.9 757.4,290.1 758.0,288.8 758.6,288.0 759.2,287.7 759.9,287.9 760.5,288.4 761.1,289.1 761.7,290.0 762.4,291.0 763.0,291.9 763.6,292.9 764.2,293.8 764.8,294.8 765.5,295.7 766.1,296.7 766.7,297.6 767.3,298.6 768.0,299.5 768.6,300.4 769.2,301.1 769.8,301.7 770.4,302.0 771.1,301.8 771.7,301.2 772.3,300.1 772.9,298.4 773.6,296.4 774.2,294.0 774.8,291.7 775.4,289.5 776.0,287.6 776.7,286.2 777.3,285.4 777.9,285.1 778.5,285.2 779.2,285.7 779.8,286.4 780.4,287.3 781.0,288.2 781.6,289.2 782.3,290.2 782.9,291.1 783.5,292.1 784.1,293.1 784.8,294.0 785.4,295.0 786.0,295.9 786.6,296.9 787.2,297.8 787.9,298.5 788.5,299.1 789.1,299.5 789.7,299.4 790.3,298.9 791.0,297.8 791.6,296.2 792.2,294.2 792.8,291.9 793.5,289.5 794.1,287.3 794.7,285.4 795.3,284.0 795.9,283.1 796.6,282.7 797.2,282.8 797.8,283.3 798.4,284.0 799.1,284.9 799.7,285.8 800.3,286.8 800.9,287.8 801.5,288.8 802.2,289.7 802.8,290.7 803.4,291.7 804.0,292.7 804.7,293.6 805.3,294.6 805.9,295.5 806.5,296.3 807.1,296.9 807.8,297.3 808.4,297.3 809.0,296.8 809.6,295.8 810.3,294.3 810.9,292.3 811.5,290.0 812.1,287.7 812.7,285.4 813.4,283.5 814.0,282.0 814.6,281.1 815.2,280.7 815.9,280.7 816.5,281.2 817.1,281.9 817.7,282.7 818.3,283.7 819.0,284.7 819.6,285.7 820.2,286.7 820.8,287.6 821.4,288.6 822.1,289.6 822.7,290.6 823.3,291.6 823.9,292.5 824.6,293.4 825.2,294.3 825.8,294.9 826.4,295.3 827.0,295.4 827.7,295.0 828.3,294.0 828.9,292.6 829.5,290.7 830.2,288.5 830.8,286.1 831.4,283.8 832.0,281.9 832.6,280.3 833.3,279.3 833.9,278.9 834.5,278.9 835.1,279.3 835.8,280.0 836.4,280.9 837.0,281.8 837.6,282.8 838.2,283.8 838.9,284.8 839.5,285.8 840.1,286.8 840.7,287.8 841.4,288.8 842.0,289.7 842.6,290.7 843.2,291.6 843.8,292.5 844.5,293.2 845.1,293.6 845.7,293.7 846.3,293.4 847.0,292.5 847.6,291.1 848.2,289.3 848.8,287.1 849.4,284.7 850.1,282.5 850.7,280.5 851.3,278.9 851.9,277.8 852.5,277.3 853.2,277.3 853.8,277.7 854.4,278.3 855.0,279.2 855.7,280.1 856.3,281.1 856.9,282.1 857.5,283.1 858.1,284.1 858.8,285.1 859.4,286.1 860.0,287.1 860.6,288.1 861.3,289.1 861.9,290.0 862.5,290.9 863.1,291.6 863.7,292.1 864.4,292.3 865.0,292.0 865.6,291.2 866.2,289.9 866.9,288.1 867.5,285.9 868.1,283.6 868.7,281.3 869.3,279.3 870.0,277.6 870.6,276.5 871.2,276.0 871.8,275.9 872.5,276.2 873.1,276.9 873.7,277.7 874.3,278.7 874.9,279.7 875.6,280.7 876.2,281.7 876.8,282.7 877.4,283.7 878.0,284.7 878.7,285.7 879.3,286.7 879.9,287.7 880.5,288.6 881.2,289.5 881.8,290.3 882.4,290.8 883.0,291.0 883.6,290.8 884.3,290.1 884.9,288.8 885.5,287.0 886.1,284.9 886.8,282.6 887.4,280.3 888.0,278.2 888.6,276.6 889.2,275.4 889.9,274.8 890.5,274.7 891.1,275.0 891.7,275.6 892.4,276.4 893.0,277.4 893.6,278.4 894.2,279.4 894.8,280.4 895.5,281.4 896.1,282.4 896.7,283.4 897.3,284.4 898.0,285.4 898.6,286.4 899.2,287.4 899.8,288.3 900.4,289.1 901.1,289.6 901.7,289.9 902.3,289.7 902.9,289.1 903.6,287.9 904.2,286.2 904.8,284.1 905.4,281.8 906.0,279.5 906.7,277.4 907.3,275.7 907.9,274.4 908.5,273.8 909.1,273.6 909.8,273.8 910.4,274.4 911.0,275.3 911.6,276.2 912.3,277.2 912.9,278.2 913.5,279.2 914.1,280.3 914.7,281.3 915.4,282.3 916.0,283.3 916.6,284.3 917.2,285.3 917.9,286.3 918.5,287.2 919.1,288.0 919.7,288.6 920.3,288.9 921.0,288.8 921.6,288.2 922.2,287.0 922.8,285.4 923.5,283.4 924.1,281.1 924.7,278.8 925.3,276.7 925.9,274.9 926.6,273.6 927.2,272.9 927.8,272.6 928.4,272.9 929.1,273.4 929.7,274.2 930.3,275.2 930.9,276.2 931.5,277.2 932.2,278.2 932.8,279.2 933.4,280.3 934.0,281.3 934.7,282.3 935.3,283.3 935.9,284.3 936.5,285.3 937.1,286.2 937.8,287.0 938.4,287.7 939.0,288.0 939.6,288.0 940.2,287.4 940.9,286.4 941.5,284.8 942.1,282.8 942.7,280.5 943.4,278.2 944.0,276.1 944.6,274.2 945.2,272.9 945.8,272.1 946.5,271.8 947.1,272.0 947.7,272.5 948.3,273.3 949.0,274.3 949.6,275.2 950.2,276.3 950.8,277.3 951.4,278.3 952.1,279.4 952.7,280.4 953.3,281.4 953.9,282.4 954.6,283.4 955.2,284.4 955.8,285.3 956.4,286.2 957.0,286.8 957.7,287.2 958.3,287.2 958.9,286.8 959.5,285.8 960.2,284.2 960.8,282.3 961.4,280.1 962.0,277.7 962.6,275.6 963.3,273.7 963.9,272.3 964.5,271.4 965.1,271.1 965.8,271.3 966.4,271.8 967.0,272.5 967.6,273.4 968.2,274.4 968.9,275.5 969.5,276.5 970.1,277.5 970.7,278.6 971.3,279.6 972.0,280.6 972.6,281.6 973.2,282.6 973.8,283.6 974.5,284.6 975.1,285.4 975.7,286.1 976.3,286.5 976.9,286.6 977.6,286.2 978.2,285.2 978.8,283.8 979.4,281.9 980.1,279.7 980.7,277.4 981.3,275.2 981.9,273.3 982.5,271.8 983.2,270.9 983.8,270.5 984.4,270.6 985.0,271.1 985.7,271.8 986.3,272.7 986.9,273.7 987.5,274.7 988.1,275.8 988.8,276.8 989.4,277.8 990.0,278.9 990.6,279.9 991.3,280.9 991.9,281.9 992.5,282.9 993.1,283.9 993.7,284.7 994.4,285.5 995.0,285.9 995.6,286.0 996.2,285.7 996.9,284.8 997.5,283.4 998.1,281.6 998.7,279.4 999.3,277.1 1000.0,274.8 1000.6,272.9 1001.2,271.4 1001.8,270.4 1002.4,270.0 1003.1,270.0 1003.7,270.5 1004.3,271.2 1004.9,272.1 1005.6,273.1 1006.2,274.1 1006.8,275.1 1007.4,276.2 1008.0,277.2 1008.7,278.2 1009.3,279.2 1009.9,280.3 1010.5,281.3 1011.2,282.3 1011.8,283.3 1012.4,284.1 1013.0,284.9 1013.6,285.4 1014.3,285.5 1014.9,285.3 1015.5,284.4 1016.1,283.1 1016.8,281.3 1017.4,279.1 1018.0,276.8 1018.6,274.6 1019.2,272.6 1019.9,271.1 1020.5,270.0 1021.1,269.5 1021.7,269.5 1022.4,269.9 1023.0,270.6 1023.6,271.5 1024.2,272.5 1024.8,273.5 1025.5,274.5 1026.1,275.6 1026.7,276.6 1027.3,277.6 1028.0,278.7 1028.6,279.7 1029.2,280.7 1029.8,281.7 1030.4,282.7 1031.1,283.6 1031.7,284.4 1032.3,284.9 1032.9,285.1 1033.5,284.9 1034.2,284.1 1034.8,282.8 1035.4,281.1 1036.0,279.0 1036.7,276.7 1037.3,274.4 1037.9,272.4 1038.5,270.8 1039.1,269.7 1039.8,269.1 1040.4,269.1 1041.0,269.4 1041.6,270.1 1042.3,271.0 1042.9,271.9 1043.5,273.0 1044.1,274.0 1044.7,275.1 1045.4,276.1 1046.0,277.1 1046.6,278.2 1047.2,279.2 1047.9,280.2 1048.5,281.2 1049.1,282.2 1049.7,283.1 1050.3,283.9 1051.0,284.5 1051.6,284.7 1052.2,284.5 1052.8,283.9 1053.5,282.6 1054.1,280.9 1054.7,278.9 1055.3,276.6 1055.9,274.3 1056.6,272.2 1057.2,270.6 1057.8,269.4 1058.4,268.8 1059.1,268.7 1059.7,269.0 1060.3,269.6 1060.9,270.5 1061.5,271.5 1062.2,272.5 1062.8,273.5 1063.4,274.6 1064.0,275.6 1064.6,276.7 1065.3,277.7 1065.9,278.7 1066.5,279.7 1067.1,280.8 1067.8,281.7 1068.4,282.7 1069.0,283.5 1069.6,284.1 1070.2,284.4 1070.9,284.2 1071.5,283.6 1072.1,282.5 1072.7,280.8 1073.4,278.8 1074.0,276.5 1074.6,274.2 1075.2,272.1 1075.8,270.4 1076.5,269.2 1077.1,268.5 1077.7,268.4 1078.3,268.6 1079.0,269.2 1079.6,270.1 1080.2,271.0 1080.8,272.1 1081.4,273.1 1082.1,274.1 1082.7,275.2 1083.3,276.2 1083.9,277.3 1084.6,278.3 1085.2,279.3 1085.8,280.3 1086.4,281.3 1087.0,282.3 1087.7,283.1 1088.3,283.7 1088.9,284.1 1089.5,284.0 1090.2,283.4 1090.8,282.3 1091.4,280.7 1092.0,278.7 1092.6,276.5 1093.3,274.2 1093.9,272.1 1094.5,270.3 1095.1,269.0 1095.7,268.3 1096.4,268.1 1097.0,268.3 1097.6,268.9 1098.2,269.7 1098.9,270.6 1099.5,271.7 1100.1,272.7 1100.7,273.8 1101.3,274.8 1102.0,275.8 1102.6,276.9 1103.2,277.9 1103.8,278.9 1104.5,280.0 1105.1,281.0 1105.7,281.9 1106.3,282.7 1106.9,283.4 1107.6,283.8 1108.2,283.8 1108.8,283.3 1109.4,282.2 1110.1,280.7 1110.7,278.7 1111.3,276.5 1111.9,274.2 1112.5,272.1 1113.2,270.2 1113.8,268.9 1114.4,268.1 1115.0,267.8 1115.7,268.0 1116.3,268.6 1116.9,269.4 1117.5,270.3 1118.1,271.3 1118.8,272.3 1119.4,273.4 1120.0,274.4 1120.6,275.5 1121.3,276.5 1121.9,277.6 1122.5,278.6 1123.1,279.6 1123.7,280.6 1124.4,281.6 1125.0,282.4 1125.6,283.1 1126.2,283.5 1126.8,283.6 1127.5,283.1 1128.1,282.2 1128.7,280.7 1129.3,278.8 1130.0,276.5 1130.6,274.2 1131.2,272.1 1131.8,270.2 1132.4,268.8 1133.1,268.0 1133.7,267.6 1134.3,267.8 1134.9,268.3 1135.6,269.0 1136.2,270.0 1136.8,271.0 1137.4,272.0 1138.0,273.1 1138.7,274.1 1139.3,275.2 1139.9,276.2 1140.5,277.2 1141.2,278.3 1141.8,279.3 1142.4,280.3 1143.0,281.3 1143.6,282.1 1144.3,282.9 1144.9,283.3 1145.5,283.4 1146.1,283.0 1146.8,282.1 1147.4,280.7 1148.0,278.8 1148.6,276.6 1149.2,274.3 1149.9,272.1 1150.5,270.2 1151.1,268.8 1151.7,267.8 1152.4,267.5 1153.0,267.5 1153.6,268.0 1154.2,268.8 1154.8,269.7 1155.5,270.7 1156.1,271.7 1156.7,272.8 1157.3,273.8 1157.9,274.9 1158.6,275.9 1159.2,276.9 1159.8,278.0 1160.4,279.0 1161.1,280.0 1161.7,281.0 1162.3,281.9 1162.9,282.6 1163.5,283.1 1164.2,283.2 1164.8,282.9 1165.4,282.1 1166.0,280.7 1166.7,278.9 1167.3,276.7 1167.9,274.4 1168.5,272.2 1169.1,270.3 1169.8,268.7 1170.4,267.8 1171.0,267.3 1171.6,267.3 1172.3,267.8 1172.9,268.5 1173.5,269.4 1174.1,270.4 1174.7,271.4 1175.4,272.5 1176.0,273.5 1176.6,274.6 1177.2,275.6 1177.9,276.7 1178.5,277.7 1179.1,278.7 1179.7,279.7 1180.3,280.7 1181.0,281.6 1181.6,282.4 1182.2,282.9 1182.8,283.1 1183.5,282.8 1184.1,282.0 1184.7,280.7 1185.3,279.0 1185.9,276.8 1186.6,274.5 1187.2,272.3 1187.8,270.3 1188.4,268.7 1189.0,267.7 1189.7,267.2 1190.3,267.2 1190.9,267.6 1191.5,268.3 1192.2,269.2 1192.8,270.1 1193.4,271.2 1194.0,272.2 1194.6,273.3 1195.3,274.3 1195.9,275.4 1196.5,276.4 1197.1,277.4 1197.8,278.5 1198.4,279.5 1199.0,280.5 1199.6,281.4 1200.2,282.2 1200.9,282.7 1201.5,283.0 1202.1,282.7 1202.7,282.0 1203.4,280.8 1204.0,279.0 1204.6,276.9 1205.2,274.7 1205.8,272.4 1206.5,270.4 1207.1,268.8 1207.7,267.7 1208.3,267.1 1209.0,267.0 1209.6,267.4 1210.2,268.1 1210.8,268.9 1211.4,269.9 1212.1,270.9 1212.7,272.0 1213.3,273.0 1213.9,274.1 1214.6,275.1 1215.2,276.2 1215.8,277.2 1216.4,278.2 1217.0,279.3 1217.7,280.2 1218.3,281.2 1218.9,282.0 1219.5,282.6 1220.1,282.8 1220.8,282.7 1221.4,282.0 1222.0,280.8 1222.6,279.2 1223.3,277.1 1223.9,274.8 1224.5,272.6 1225.1,270.5 1225.7,268.8 1226.4,267.7 1227.0,267.0 1227.6,266.9 1228.2,267.2 1228.9,267.9 1229.5,268.7 1230.1,269.7 1230.7,270.7 1231.3,271.8 1232.0,272.8 1232.6,273.9 1233.2,274.9 1233.8,276.0 1234.5,277.0 1235.1,278.0 1235.7,279.0 1236.3,280.0 1236.9,281.0 1237.6,281.8 1238.2,282.4 1238.8,282.7 1239.4,282.6 1240.1,282.0 1240.7,280.9 1241.3,279.3 1241.9,277.2 1242.5,275.0 1243.2,272.7 1243.8,270.6 1244.4,268.9 1245.0,267.7 1245.7,267.0 1246.3,266.8 1246.9,267.1 1247.5,267.7 1248.1,268.5 1248.8,269.5 1249.4,270.5 1250.0,271.5 1250.6,272.6 1251.2,273.7 1251.9,274.7 1252.5,275.7 1253.1,276.8 1253.7,277.8 1254.4,278.8 1255.0,279.8 1255.6,280.8 1256.2,281.6 1256.8,282.3 1257.5,282.6 1258.1,282.6 1258.7,282.0 1259.3,281.0 1260.0,279.4 1260.6,277.4 1261.2,275.2 1261.8,272.9 1262.4,270.8 1263.1,269.0 1263.7,267.7 1264.3,266.9 1264.9,266.7 1265.6,266.9 1266.2,267.5 1266.8,268.3 1267.4,269.3 1268.0,270.3 1268.7,271.3 1269.3,272.4 1269.9,273.5 1270.5,274.5 1271.2,275.5 1271.8,276.6 1272.4,277.6 1273.0,278.6 1273.6,279.6 1274.3,280.6 1274.9,281.5 1275.5,282.1 1276.1,282.5 1276.8,282.5 1277.4,282.1 1278.0,281.0 1278.6,279.5 1279.2,277.6 1279.9,275.4 1280.5,273.1 1281.1,270.9 1281.7,269.1 1282.3,267.7 1283.0,266.9 1283.6,266.6 1284.2,266.8 1284.8,267.4 1285.5,268.1 1286.1,269.1 1286.7,270.1 1287.3,271.2 1287.9,272.2 1288.6,273.3 1289.2,274.3 1289.8,275.4 1290.4,276.4 1291.1,277.4 1291.7,278.5 1292.3,279.5 1292.9,280.4 1293.5,281.3 1294.2,282.0 1294.8,282.4 1295.4,282.5 1296.0,282.1 1296.7,281.1 1297.3,279.7 1297.9,277.8 1298.5,275.6 1299.1,273.3 1299.8,271.1 1300.4,269.2 1301.0,267.8 1301.6,266.9 1302.3,266.6 1302.9,266.7 1303.5,267.2 1304.1,268.0 1304.7,268.9 1305.4,269.9 1306.0,271.0 1306.6,272.0 1307.2,273.1 1307.9,274.1 1308.5,275.2 1309.1,276.2 1309.7,277.2 1310.3,278.3 1311.0,279.3 1311.6,280.3 1312.2,281.1 1312.8,281.9 1313.4,282.3 1314.1,282.4 1314.7,282.1 1315.3,281.2 1315.9,279.8 1316.6,277.9 1317.2,275.8 1317.8,273.5 1318.4,271.3 1319.0,269.4 1319.7,267.9 1320.3,267.0 1320.9,266.5 1321.5,266.6 1322.2,267.1 1322.8,267.8 1323.4,268.7 1324.0,269.8 1324.6,270.8 1325.3,271.9 1325.9,272.9 1326.5,274.0 1327.1,275.0 1327.8,276.0 1328.4,277.1 1329.0,278.1 1329.6,279.1 1330.2,280.1 1330.9,281.0 1331.5,281.7 1332.1,282.2 1332.7,282.4 1333.4,282.1 1334.0,281.3 1334.6,279.9 1335.2,278.1 1335.8,276.0 1336.5,273.7 1337.1,271.5 1337.7,269.5 1338.3,268.0 1339.0,267.0 1339.6,266.5 1340.2,266.5 1340.8,267.0 1341.4,267.7 1342.1,268.6 1342.7,269.6 1343.3,270.6 1343.9,271.7 1344.5,272.7 1345.2,273.8 1345.8,274.8 1346.4,275.9 1347.0,276.9 1347.7,277.9 1348.3,279.0 1348.9,279.9 1349.5,280.9 1350.1,281.6 1350.8,282.2 1351.4,282.4 1352.0,282.1 1352.6,281.4 1353.3,280.1 1353.9,278.3 1354.5,276.2 1355.1,273.9 1355.7,271.7 1356.4,269.7 1357.0,268.1 1357.6,267.0 1358.2,266.5 1358.9,266.5 1359.5,266.9 1360.1,267.6 1360.7,268.4 1361.3,269.4 1362.0,270.5 1362.6,271.5 1363.2,272.6 1363.8,273.6 1364.5,274.7 1365.1,275.7 1365.7,276.8 1366.3,277.8 1366.9,278.8 1367.6,279.8 1368.2,280.7 1368.8,281.5 1369.4,282.1 1370.1,282.3 1370.7,282.1 1371.3,281.4 1371.9,280.2 1372.5,278.5 1373.2,276.4 1373.8,274.1 1374.4,271.9 1375.0,269.8 1375.6,268.2 1376.3,267.1 1376.9,266.5 1377.5,266.4 1378.1,266.8 1378.8,267.4 1379.4,268.3 1380.0,269.3 1380.6,270.3 1381.2,271.4 1381.9,272.4 1382.5,273.5 1383.1,274.5 1383.7,275.6 1384.4,276.6 1385.0,277.6 1385.6,278.7 1386.2,279.6 1386.8,280.6 1387.5,281.4 1388.1,282.0 1388.7,282.3 1389.3,282.1 1390.0,281.5 1390.6,280.3 1391.2,278.7 1391.8,276.6 1392.4,274.4 1393.1,272.1 1393.7,270.0 1394.3,268.3 1394.9,267.2 1395.6,266.5 1396.2,266.4 1396.8,266.7 1397.4,267.3 1398.0,268.2 1398.7,269.1 1399.3,270.2 1399.9,271.2 1400.5,272.3 1401.2,273.3 1401.8,274.4 1402.4,275.4 1403.0,276.4 1403.6,277.5 1404.3,278.5 1404.9,279.5 1405.5,280.4 1406.1,281.3 1406.7,281.9 1407.4,282.2 1408.0,282.2 1408.6,281.6 1409.2,280.5 1409.9,278.9 1410.5,276.8 1411.1,274.6 1411.7,272.3 1412.3,270.2 1413.0,268.5 1413.6,267.2 1414.2,266.5 1414.8,266.3 1415.5,266.6 1416.1,267.2 1416.7,268.0 1417.3,269.0 1417.9,270.0 1418.6,271.1 1419.2,272.1 1419.8,273.2 1420.4,274.2 1421.1,275.3 1421.7,276.3 1422.3,277.3 1422.9,278.4 1423.5,279.4 1424.2,280.3 1424.8,281.2 1425.4,281.8 1426.0,282.2 1426.7,282.2 1427.3,281.6 1427.9,280.6 1428.5,279.0 1429.1,277.1 1429.8,274.8 1430.4,272.5 1431.0,270.4 1431.6,268.6 1432.3,267.3 1432.9,266.6 1433.5,266.3 1434.1,266.5 1434.7,267.1 1435.4,267.9 1436.0,268.8 1436.6,269.9 1437.2,270.9 1437.9,272.0 1438.5,273.0 1439.1,274.1 1439.7,275.1 1440.3,276.2 1441.0,277.2 1441.6,278.2 1442.2,279.2 1442.8,280.2 1443.4,281.0 1444.1,281.7 1444.7,282.1 1445.3,282.2 1445.9,281.7 1446.6,280.7 1447.2,279.2 1447.8,277.3 1448.4,275.1 1449.0,272.8 1449.7,270.6 1450.3,268.8 1450.9,267.4 1451.5,266.6 1452.2,266.3 1452.8,266.5 1453.4,267.0 1454.0,267.8 1454.6,268.7 1455.3,269.7 1455.9,270.8 1456.5,271.8 1457.1,272.9 1457.8,273.9 1458.4,275.0 1459.0,276.0 1459.6,277.1 1460.2,278.1 1460.9,279.1 1461.5,280.1 1462.1,280.9 1462.7,281.6 1463.4,282.1 1464.0,282.2 1464.6,281.8 1465.2,280.8 1465.8,279.4 1466.5,277.5 1467.1,275.3 1467.7,273.0 1468.3,270.8 1469.0,269.0 1469.6,267.5 1470.2,266.6 1470.8,266.3 1471.4,266.4 1472.1,266.9 1472.7,267.7 1473.3,268.6 1473.9,269.6 1474.5,270.6 1475.2,271.7 1475.8,272.7 1476.4,273.8 1477.0,274.8 1477.7,275.9 1478.3,276.9 1478.9,277.9 1479.5,279.0 1480.1,279.9 1480.8,280.8 1481.4,281.6 1482.0,282.0 1482.6,282.2 1483.3,281.8 1483.9,281.0 1484.5,279.6 1485.1,277.7 1485.7,275.6 1486.4,273.3 1487.0,271.1 1487.6,269.1 1488.2,267.7 1488.9,266.7 1489.5,266.3 1490.1,266.3 1490.7,266.8 1491.3,267.5 1492.0,268.4 1492.6,269.5 1493.2,270.5 1493.8,271.6 1494.5,272.6 1495.1,273.7 1495.7,274.7 1496.3,275.7 1496.9,276.8 1497.6,277.8 1498.2,278.8 1498.8,279.8 1499.4,280.7 1500.1,281.5 1500.7,282.0 1501.3,282.2 1501.9,281.9 1502.5,281.1 1503.2,279.7 1503.8,277.9 1504.4,275.8 1505.0,273.5 1505.6,271.3 1506.3,269.3 1506.9,267.8 1507.5,266.8 1508.1,266.3 1508.8,266.3 1509.4,266.7 1510.0,267.4 1510.6,268.3 1511.2,269.3 1511.9,270.4 1512.5,271.4 1513.1,272.5 1513.7,273.5 1514.4,274.6 1515.0,275.6 1515.6,276.7 1516.2,277.7 1516.8,278.7 1517.5,279.7 1518.1,280.6 1518.7,281.4 1519.3,281.9 1520.0,282.1 1520.6,281.9 1521.2,281.2 1521.8,279.9 1522.4,278.2 1523.1,276.1 1523.7,273.8 1524.3,271.5 1524.9,269.5 1525.6,267.9 1526.2,266.8 1526.8,266.3 1527.4,266.3 1528.0,266.6 1528.7,267.3 1529.3,268.2 1529.9,269.2 1530.5,270.2 1531.2,271.3 1531.8,272.3 1532.4,273.4 1533.0,274.4 1533.6,275.5 1534.3,276.5 1534.9,277.6 1535.5,278.6 1536.1,279.6 1536.7,280.5 1537.4,281.3 1538.0,281.9 1538.6,282.1 1539.2,282.0 1539.9,281.3 1540.5,280.1 1541.1,278.4 1541.7,276.3 1542.3,274.0 1543.0,271.8 1543.6,269.7 1544.2,268.1 1544.8,266.9 1545.5,266.3 1546.1,266.2 1546.7,266.6 1547.3,267.2 1547.9,268.1 1548.6,269.1 1549.2,270.1 1549.8,271.2 1550.4,272.2 1551.1,273.3 1551.7,274.3 1552.3,275.4 1552.9,276.4 1553.5,277.4 1554.2,278.4 1554.8,279.4 1555.4,280.4 1556.0,281.2 1556.7,281.8 1557.3,282.1 1557.9,282.0 1558.5,281.4 1559.1,280.2 1559.8,278.6 1560.4,276.5 1561.0,274.3 1561.6,272.0 1562.3,269.9 1562.9,268.2 1563.5,267.0 1564.1,266.4 1564.7,266.2 1565.4,266.5 1566.0,267.1 1566.6,268.0 1567.2,268.9 1567.8,270.0 1568.5,271.0 1569.1,272.1 1569.7,273.1 1570.3,274.2 1571.0,275.2 1571.6,276.3 1572.2,277.3 1572.8,278.3 1573.4,279.3 1574.1,280.3 1574.7,281.1 1575.3,281.7 1575.9,282.1 1576.6,282.0 1577.2,281.5 1577.8,280.4 1578.4,278.8 1579.0,276.8 1579.7,274.5 1580.3,272.3 1580.9,270.1 1581.5,268.4 1582.2,267.1 1582.8,266.4 1583.4,266.2 1584.0,266.4 1584.6,267.0 1585.3,267.9 1585.9,268.8 1586.5,269.8 1587.1,270.9 1587.8,271.9 1588.4,273.0 1589.0,274.1 1589.6,275.1 1590.2,276.1 1590.9,277.2 1591.5,278.2 1592.1,279.2 1592.7,280.2 1593.4,281.0 1594.0,281.7 1594.6,282.1 1595.2,282.0 1595.8,281.5 1596.5,280.5 1597.1,279.0 1597.7,277.0 1598.3,274.8 1598.9,272.5 1599.6,270.4 1600.2,268.6 1600.8,267.2 1601.4,266.5 1602.1,266.2 1602.7,266.4 1603.3,266.9 1603.9,267.7 1604.5,268.7 1605.2,269.7 1605.8,270.8 1606.4,271.8 1607.0,272.9 1607.7,273.9 1608.3,275.0 1608.9,276.0 1609.5,277.0 1610.1,278.1 1610.8,279.1 1611.4,280.0 1612.0,280.9 1612.6,281.6 1613.3,282.0 1613.9,282.1 1614.5,281.6 1615.1,280.7 1615.7,279.2 1616.4,277.3 1617.0,275.0 1617.6,272.8 1618.2,270.6 1618.9,268.7 1619.5,267.4 1620.1,266.5 1620.7,266.2 1621.3,266.3 1622.0,266.9 1622.6,267.6 1623.2,268.6 1623.8,269.6 1624.5,270.6 1625.1,271.7 1625.7,272.7 1626.3,273.8 1626.9,274.8 1627.6,275.9 1628.2,276.9 1628.8,277.9 1629.4,279.0 1630.0,279.9 1630.7,280.8 1631.3,281.5 1631.9,282.0 1632.5,282.1 1633.2,281.7 1633.8,280.8 1634.4,279.4 1635.0,277.5 1635.6,275.3 1636.3,273.0 1636.9,270.8 1637.5,268.9 1638.1,267.5 1638.8,266.6 1639.4,266.2 1640.0,266.3 1640.6,266.8 1641.2,267.5 1641.9,268.5 1642.5,269.5 1643.1,270.5 1643.7,271.6 1644.4,272.6 1645.0,273.7 1645.6,274.7 1646.2,275.8 1646.8,276.8 1647.5,277.8 1648.1,278.8 1648.7,279.8 1649.3,280.7 1650.0,281.5 1650.6,281.9 1651.2,282.1 1651.8,281.8 1652.4,280.9 1653.1,279.5 1653.7,277.7 1654.3,275.6 1654.9,273.3 1655.6,271.1 1656.2,269.1 1656.8,267.6 1657.4,266.6 1658.0,266.2 1658.7,266.3 1659.3,266.7 1659.9,267.4 1660.5,268.3 1661.1,269.3 1661.8,270.4 1662.4,271.4 1663.0,272.5 1663.6,273.5 1664.3,274.6 1664.9,275.6 1665.5,276.7 1666.1,277.7 1666.7,278.7 1667.4,279.7 1668.0,280.6 1668.6,281.4 1669.2,281.9 1669.9,282.1 1670.5,281.8 1671.1,281.0 1671.7,279.7 1672.3,277.9 1673.0,275.8 1673.6,273.5 1674.2,271.3 1674.8,269.3 1675.5,267.8 1676.1,266.7 1676.7,266.2 1677.3,266.2 1677.9,266.6 1678.6,267.3 1679.2,268.2 1679.8,269.2 1680.4,270.3 1681.1,271.3 1681.7,272.4 1682.3,273.4 1682.9,274.5 1683.5,275.5 1684.2,276.5 1684.8,277.6 1685.4,278.6 1686.0,279.6 1686.7,280.5 1687.3,281.3 1687.9,281.9 1688.5,282.1 1689.1,281.9 1689.8,281.1 1690.4,279.9 1691.0,278.2 1691.6,276.1 1692.2,273.8 1692.9,271.5 1693.5,269.5 1694.1,267.9 1694.7,266.8 1695.4,266.3 1696.0,266.2 1696.6,266.6 1697.2,267.2 1697.8,268.1 1698.5,269.1 1699.1,270.1 1699.7,271.2 1700.3,272.2 1701.0,273.3 1701.6,274.3 1702.2,275.4 1702.8,276.4 1703.4,277.5 1704.1,278.5 1704.7,279.5 1705.3,280.4 1705.9,281.2 1706.6,281.8 1707.2,282.1 1707.8,281.9 1708.4,281.3 1709.0,280.1 1709.7,278.4 1710.3,276.3 1710.9,274.0 1711.5,271.8 1712.2,269.7 1712.8,268.1 1713.4,266.9 1714.0,266.3 1714.6,266.2 1715.3,266.5 1715.9,267.1 1716.5,268.0 1717.1,269.0 1717.8,270.0 1718.4,271.1 1719.0,272.1 1719.6,273.2 1720.2,274.2 1720.9,275.3 1721.5,276.3 1722.1,277.3 1722.7,278.4 1723.3,279.4 1724.0,280.3 1724.6,281.1 1725.2,281.7 1725.8,282.1 1726.5,282.0 1727.1,281.4 1727.7,280.2 1728.3,278.6 1728.9,276.6 1729.6,274.3 1730.2,272.0 1730.8,270.0 1731.4,268.2 1732.1,267.0 1732.7,266.3 1733.3,266.2 1733.9,266.4 1734.5,267.1 1735.2,267.9 1735.8,268.9 1736.4,269.9 1737.0,270.9 1737.7,272.0 1738.3,273.0 1738.9,274.1 1739.5,275.1 1740.1,276.2 1740.8,277.2 1741.4,278.2 1742.0,279.2 1742.6,280.2 1743.3,281.0 1743.9,281.7 1744.5,282.0 1745.1,282.0 1745.7,281.4 1746.4,280.4 1747.0,278.8 1747.6,276.8 1748.2,274.6 1748.9,272.3 1749.5,270.2 1750.1,268.4 1750.7,267.1 1751.3,266.4 1752.0,266.2 1752.6,266.4 1753.2,267.0 1753.8,267.8 1754.4,268.7 1755.1,269.8 1755.7,270.8 1756.3,271.9 1756.9,272.9 1757.6,274.0 1758.2,275.0 1758.8,276.1 1759.4,277.1 1760.0,278.1 1760.7,279.1 1761.3,280.1 1761.9,280.9 1762.5,281.6 1763.2,282.0 1763.8,282.0 1764.4,281.5 1765.0,280.5 1765.6,279.0 1766.3,277.1 1766.9,274.8 1767.5,272.5 1768.1,270.4 1768.8,268.6 1769.4,267.2 1770.0,266.4 1770.6,266.2 1771.2,266.3 1771.9,266.9 1772.5,267.7 1773.1,268.6 1773.7,269.6 1774.4,270.7 1775.0,271.7 1775.6,272.8 1776.2,273.9 1776.8,274.9 1777.5,275.9 1778.1,277.0 1778.7,278.0 1779.3,279.0 1780.0,280.0 1780.6,280.8 1781.2,281.5 1781.8,282.0 1782.4,282.0 1783.1,281.6 1783.7,280.7 1784.3,279.2 1784.9,277.3 1785.5,275.1 1786.2,272.8 1786.8,270.6 1787.4,268.8 1788.0,267.4 1788.7,266.5 1789.3,266.2 1789.9,266.3 1790.5,266.8 1791.1,267.6 1791.8,268.5 1792.4,269.5 1793.0,270.6 1793.6,271.6 1794.3,272.7 1794.9,273.7 1795.5,274.8"/>
<polyline stroke="#7E2F8E" filter="url(#al)" points="240.5,740.5 241.1,740.5 241.7,740.5 242.4,740.5 243.0,740.5 243.6,740.5 244.2,740.5 244.9,740.4 245.5,740.2 246.1,739.7 246.7,738.9 247.3,737.6 248.0,735.7 248.6,733.2 249.2,730.2 249.8,726.9 250.5,723.6 251.1,720.5 251.7,718.0 252.3,716.0 252.9,714.6 253.6,713.8 254.2,713.3 254.8,713.1 255.4,713.0 256.1,713.0 256.7,713.0 257.3,713.0 257.9,713.0 258.5,713.0 259.2,713.0 259.8,713.0 260.4,713.0 261.0,713.0 261.6,713.0 262.3,713.0 262.9,713.0 263.5,712.9 264.1,712.7 264.8,712.3 265.4,711.5 266.0,710.3 266.6,708.5 267.2,706.0 267.9,703.1 268.5,699.8 269.1,696.5 269.7,693.4 270.4,690.8 271.0,688.8 271.6,687.3 272.2,686.4 272.8,685.9 273.5,685.7 274.1,685.6 274.7,685.6 275.3,685.6 276.0,685.6 276.6,685.6 277.2,685.6 277.8,685.7 278.4,685.7 279.1,685.7 279.7,685.7 280.3,685.7 280.9,685.7 281.6,685.7 282.2,685.7 282.8,685.5 283.4,685.1 284.0,684.4 284.7,683.3 285.3,681.5 285.9,679.2 286.5,676.3 287.2,673.1 287.8,669.8 288.4,666.6 289.0,664.0 289.6,661.9 290.3,660.4 290.9,659.5 291.5,659.0 292.1,658.7 292.7,658.6 293.4,658.6 294.0,658.6 294.6,658.7 295.2,658.7 295.9,658.7 296.5,658.8 297.1,658.8 297.7,658.8 298.3,658.9 299.0,658.9 299.6,658.9 300.2,658.9 300.8,658.9 301.5,658.8 302.1,658.5 302.7,657.8 303.3,656.7 303.9,655.1 304.6,652.8 305.2,650.0 305.8,646.8 306.4,643.5 307.1,640.4 307.7,637.7 308.3,635.6 308.9,634.0 309.5,633.1 310.2,632.5 310.8,632.3 311.4,632.2 312.0,632.2 312.7,632.3 313.3,632.3 313.9,632.4 314.5,632.4 315.1,632.5 315.8,632.6 316.4,632.6 317.0,632.7 317.6,632.7 318.2,632.8 318.9,632.8 319.5,632.8 320.1,632.7 320.7,632.5 321.4,631.9 322.0,630.9 322.6,629.3 323.2,627.2 323.8,624.4 324.5,621.3 325.1,618.0 325.7,614.9 326.3,612.2 327.0,610.0 327.6,608.4 328.2,607.4 328.8,606.9 329.4,606.6 330.1,606.6 330.7,606.6 331.3,606.7 331.9,606.8 332.6,606.9 333.2,606.9 333.8,607.0 334.4,607.1 335.0,607.2 335.7,607.3 336.3,607.4 336.9,607.4 337.5,607.5 338.2,607.6 338.8,607.5 339.4,607.3 340.0,606.8 340.6,605.9 341.3,604.4 341.9,602.4 342.5,599.7 343.1,596.7 343.8,593.4 344.4,590.3 345.0,587.5 345.6,585.3 346.2,583.7 346.9,582.7 347.5,582.1 348.1,581.9 348.7,581.9 349.3,581.9 350.0,582.0 350.6,582.1 351.2,582.3 351.8,582.4 352.5,582.5 353.1,582.6 353.7,582.7 354.3,582.9 354.9,583.0 355.6,583.1 356.2,583.2 356.8,583.3 357.4,583.3 358.1,583.2 358.7,582.7 359.3,581.9 359.9,580.5 360.5,578.6 361.2,576.0 361.8,573.0 362.4,569.8 363.0,566.7 363.7,563.9 364.3,561.7 364.9,560.1 365.5,559.0 366.1,558.5 366.8,558.2 367.4,558.2 368.0,558.3 368.6,558.4 369.3,558.6 369.9,558.8 370.5,558.9 371.1,559.1 371.7,559.2 372.4,559.4 373.0,559.6 373.6,559.7 374.2,559.9 374.9,560.0 375.5,560.1 376.1,560.2 376.7,560.1 377.3,559.8 378.0,559.0 378.6,557.8 379.2,555.9 379.8,553.4 380.4,550.5 381.1,547.4 381.7,544.3 382.3,541.5 382.9,539.2 383.6,537.6 384.2,536.5 384.8,535.9 385.4,535.7 386.0,535.7 386.7,535.9 387.3,536.0 387.9,536.2 388.5,536.4 389.2,536.6 389.8,536.8 390.4,537.0 391.0,537.2 391.6,537.4 392.3,537.6 392.9,537.8 393.5,538.0 394.1,538.2 394.8,538.3 395.4,538.3 396.0,538.0 396.6,537.3 397.2,536.2 397.9,534.4 398.5,532.1 399.1,529.3 399.7,526.2 400.4,523.1 401.0,520.3 401.6,518.0 402.2,516.3 402.8,515.3 403.5,514.7 404.1,514.5 404.7,514.5 405.3,514.7 406.0,514.9 406.6,515.1 407.2,515.4 407.8,515.6 408.4,515.8 409.1,516.1 409.7,516.3 410.3,516.6 410.9,516.8 411.5,517.0 412.2,517.3 412.8,517.5 413.4,517.7 414.0,517.7 414.7,517.5 415.3,516.9 415.9,515.9 416.5,514.3 417.1,512.0 417.8,509.3 418.4,506.3 419.0,503.2 419.6,500.4 420.3,498.1 420.9,496.4 421.5,495.3 422.1,494.7 422.7,494.5 423.4,494.6 424.0,494.8 424.6,495.0 425.2,495.3 425.9,495.6 426.5,495.9 427.1,496.2 427.7,496.4 428.3,496.7 429.0,497.0 429.6,497.3 430.2,497.6 430.8,497.9 431.5,498.1 432.1,498.3 432.7,498.4 433.3,498.3 433.9,497.9 434.6,496.9 435.2,495.4 435.8,493.3 436.4,490.6 437.1,487.7 437.7,484.6 438.3,481.9 438.9,479.5 439.5,477.8 440.2,476.7 440.8,476.1 441.4,475.9 442.0,476.0 442.6,476.2 443.3,476.5 443.9,476.8 444.5,477.1 445.1,477.5 445.8,477.8 446.4,478.1 447.0,478.5 447.6,478.8 448.2,479.1 448.9,479.5 449.5,479.8 450.1,480.1 450.7,480.3 451.4,480.5 452.0,480.5 452.6,480.1 453.2,479.2 453.8,477.8 454.5,475.8 455.1,473.3 455.7,470.4 456.3,467.4 457.0,464.6 457.6,462.3 458.2,460.5 458.8,459.4 459.4,458.8 460.1,458.6 460.7,458.7 461.3,458.9 461.9,459.3 462.6,459.6 463.2,460.0 463.8,460.4 464.4,460.8 465.0,461.1 465.7,461.5 466.3,461.9 466.9,462.3 467.5,462.6 468.2,463.0 468.8,463.4 469.4,463.7 470.0,463.9 470.6,463.9 471.3,463.6 471.9,462.9 472.5,461.6 473.1,459.7 473.7,457.2 474.4,454.4 475.0,451.5 475.6,448.7 476.2,446.3 476.9,444.6 477.5,443.4 478.1,442.8 478.7,442.6 479.3,442.7 480.0,443.0 480.6,443.4 481.2,443.8 481.8,444.2 482.5,444.6 483.1,445.0 483.7,445.5 484.3,445.9 484.9,446.3 485.6,446.7 486.2,447.1 486.8,447.5 487.4,447.9 488.1,448.3 488.7,448.6 489.3,448.7 489.9,448.5 490.5,447.8 491.2,446.7 491.8,444.9 492.4,442.5 493.0,439.8 493.7,436.9 494.3,434.1 494.9,431.7 495.5,429.9 496.1,428.7 496.8,428.1 497.4,427.9 498.0,428.0 498.6,428.3 499.3,428.8 499.9,429.2 500.5,429.7 501.1,430.1 501.7,430.6 502.4,431.1 503.0,431.5 503.6,432.0 504.2,432.4 504.8,432.9 505.5,433.3 506.1,433.8 506.7,434.2 507.3,434.5 508.0,434.7 508.6,434.6 509.2,434.0 509.8,432.9 510.4,431.3 511.1,429.0 511.7,426.3 512.3,423.5 512.9,420.7 513.6,418.3 514.2,416.5 514.8,415.3 515.4,414.6 516.0,414.4 516.7,414.6 517.3,414.9 517.9,415.4 518.5,415.9 519.2,416.4 519.8,416.9 520.4,417.4 521.0,417.9 521.6,418.4 522.3,418.9 522.9,419.4 523.5,419.9 524.1,420.3 524.8,420.8 525.4,421.3 526.0,421.7 526.6,421.9 527.2,421.9 527.9,421.4 528.5,420.4 529.1,418.8 529.7,416.7 530.4,414.1 531.0,411.3 531.6,408.5 532.2,406.1 532.8,404.3 533.5,403.0 534.1,402.3 534.7,402.1 535.3,402.3 535.9,402.7 536.6,403.1 537.2,403.7 537.8,404.2 538.4,404.8 539.1,405.3 539.7,405.8 540.3,406.4 540.9,406.9 541.5,407.4 542.2,408.0 542.8,408.5 543.4,409.0 544.0,409.5 544.7,410.0 545.3,410.2 545.9,410.3 546.5,409.9 547.1,409.0 547.8,407.6 548.4,405.5 549.0,403.0 549.6,400.2 550.3,397.5 550.9,395.1 551.5,393.2 552.1,391.9 552.7,391.2 553.4,391.0 554.0,391.1 554.6,391.5 555.2,392.0 555.9,392.6 556.5,393.2 557.1,393.7 557.7,394.3 558.3,394.9 559.0,395.5 559.6,396.0 560.2,396.6 560.8,397.2 561.5,397.7 562.1,398.3 562.7,398.8 563.3,399.3 563.9,399.7 564.6,399.8 565.2,399.5 565.8,398.7 566.4,397.3 567.1,395.4 567.7,392.9 568.3,390.2 568.9,387.5 569.5,385.1 570.2,383.2 570.8,381.8 571.4,381.1 572.0,380.9 572.6,381.0 573.3,381.4 573.9,382.0 574.5,382.6 575.1,383.2 575.8,383.8 576.4,384.4 577.0,385.0 577.6,385.6 578.2,386.2 578.9,386.8 579.5,387.4 580.1,388.0 580.7,388.6 581.4,389.2 582.0,389.7 582.6,390.1 583.2,390.2 583.8,390.1 584.5,389.4 585.1,388.1 585.7,386.2 586.3,383.9 587.0,381.2 587.6,378.5 588.2,376.1 588.8,374.1 589.4,372.7 590.1,372.0 590.7,371.7 591.3,371.9 591.9,372.3 592.6,372.9 593.2,373.5 593.8,374.1 594.4,374.8 595.0,375.4 595.7,376.0 596.3,376.7 596.9,377.3 597.5,377.9 598.2,378.6 598.8,379.2 599.4,379.8 600.0,380.4 600.6,381.0 601.3,381.4 601.9,381.7 602.5,381.5 603.1,381.0 603.7,379.8 604.4,378.0 605.0,375.7 605.6,373.1 606.2,370.4 606.9,368.0 607.5,366.0 608.1,364.6 608.7,363.8 609.3,363.5 610.0,363.7 610.6,364.1 611.2,364.6 611.8,365.3 612.5,366.0 613.1,366.6 613.7,367.3 614.3,368.0 614.9,368.6 615.6,369.3 616.2,370.0 616.8,370.6 617.4,371.3 618.1,371.9 618.7,372.6 619.3,373.1 619.9,373.6 620.5,373.9 621.2,373.9 621.8,373.4 622.4,372.3 623.0,370.6 623.7,368.4 624.3,365.9 624.9,363.2 625.5,360.7 626.1,358.7 626.8,357.3 627.4,356.4 628.0,356.1 628.6,356.3 629.3,356.7 629.9,357.3 630.5,357.9 631.1,358.6 631.7,359.3 632.4,360.0 633.0,360.7 633.6,361.4 634.2,362.1 634.8,362.8 635.5,363.5 636.1,364.1 636.7,364.8 637.3,365.5 638.0,366.1 638.6,366.6 639.2,367.0 639.8,367.0 640.4,366.6 641.1,365.6 641.7,364.0 642.3,361.9 642.9,359.4 643.6,356.7 644.2,354.3 644.8,352.2 645.4,350.7 646.0,349.8 646.7,349.5 647.3,349.6 647.9,350.0 648.5,350.6 649.2,351.3 649.8,352.0 650.4,352.7 651.0,353.5 651.6,354.2 652.3,354.9 652.9,355.6 653.5,356.3 654.1,357.0 654.8,357.7 655.4,358.4 656.0,359.1 656.6,359.8 657.2,360.3 657.9,360.7 658.5,360.8 659.1,360.5 659.7,359.6 660.4,358.1 661.0,356.1 661.6,353.6 662.2,351.0 662.8,348.5 663.5,346.4 664.1,344.9 664.7,343.9 665.3,343.6 665.9,343.7 666.6,344.1 667.2,344.7 667.8,345.4 668.4,346.1 669.1,346.8 669.7,347.6 670.3,348.3 670.9,349.1 671.5,349.8 672.2,350.5 672.8,351.3 673.4,352.0 674.0,352.7 674.7,353.4 675.3,354.1 675.9,354.7 676.5,355.1 677.1,355.3 677.8,355.0 678.4,354.2 679.0,352.8 679.6,350.9 680.3,348.5 680.9,345.9 681.5,343.4 682.1,341.2 682.7,339.7 683.4,338.7 684.0,338.3 684.6,338.3 685.2,338.7 685.9,339.3 686.5,340.1 687.1,340.8 687.7,341.6 688.3,342.3 689.0,343.1 689.6,343.8 690.2,344.6 690.8,345.4 691.5,346.1 692.1,346.9 692.7,347.6 693.3,348.3 693.9,349.0 694.6,349.7 695.2,350.1 695.8,350.4 696.4,350.2 697.0,349.5 697.7,348.1 698.3,346.2 698.9,343.9 699.5,341.3 700.2,338.8 700.8,336.7 701.4,335.0 702.0,334.0 702.6,333.5 703.3,333.6 703.9,334.0 704.5,334.6 705.1,335.3 705.8,336.1 706.4,336.8 707.0,337.6 707.6,338.4 708.2,339.2 708.9,340.0 709.5,340.7 710.1,341.5 710.7,342.3 711.4,343.0 712.0,343.8 712.6,344.5 713.2,345.2 713.8,345.7 714.5,345.9 715.1,345.8 715.7,345.2 716.3,344.0 717.0,342.2 717.6,339.9 718.2,337.3 718.8,334.8 719.4,332.6 720.1,330.9 720.7,329.8 721.3,329.3 721.9,329.4 722.6,329.7 723.2,330.3 723.8,331.1 724.4,331.8 725.0,332.6 725.7,333.4 726.3,334.2 726.9,335.0 727.5,335.8 728.1,336.6 728.8,337.4 729.4,338.2 730.0,338.9 730.6,339.7 731.3,340.4 731.9,341.1 732.5,341.7 733.1,342.0 733.7,342.0 734.4,341.4 735.0,340.3 735.6,338.5 736.2,336.3 736.9,333.8 737.5,331.3 738.1,329.1 738.7,327.3 739.3,326.2 740.0,325.6 740.6,325.6 741.2,325.9 741.8,326.5 742.5,327.3 743.1,328.1 743.7,328.9 744.3,329.7 744.9,330.5 745.6,331.3 746.2,332.1 746.8,332.9 747.4,333.7 748.1,334.5 748.7,335.3 749.3,336.1 749.9,336.8 750.5,337.5 751.2,338.1 751.8,338.5 752.4,338.5 753.0,338.0 753.7,337.0 754.3,335.3 754.9,333.2 755.5,330.7 756.1,328.2 756.8,325.9 757.4,324.1 758.0,322.9 758.6,322.3 759.2,322.2 759.9,322.6 760.5,323.2 761.1,323.9 761.7,324.7 762.4,325.5 763.0,326.3 763.6,327.2 764.2,328.0 764.8,328.8 765.5,329.6 766.1,330.4 766.7,331.2 767.3,332.0 768.0,332.8 768.6,333.6 769.2,334.3 769.8,335.0 770.4,335.4 771.1,335.4 771.7,335.0 772.3,334.1 772.9,332.5 773.6,330.4 774.2,327.9 774.8,325.4 775.4,323.1 776.0,321.3 776.7,320.0 777.3,319.4 777.9,319.3 778.5,319.6 779.2,320.2 779.8,320.9 780.4,321.7 781.0,322.5 781.6,323.4 782.3,324.2 782.9,325.0 783.5,325.9 784.1,326.7 784.8,327.5 785.4,328.3 786.0,329.1 786.6,329.9 787.2,330.7 787.9,331.5 788.5,332.1 789.1,332.6 789.7,332.7 790.3,332.4 791.0,331.5 791.6,330.0 792.2,327.9 792.8,325.5 793.5,323.0 794.1,320.7 794.7,318.8 795.3,317.5 795.9,316.8 796.6,316.6 797.2,316.9 797.8,317.5 798.4,318.2 799.1,319.0 799.7,319.9 800.3,320.7 800.9,321.5 801.5,322.4 802.2,323.2 802.8,324.1 803.4,324.9 804.0,325.7 804.7,326.6 805.3,327.4 805.9,328.2 806.5,328.9 807.1,329.6 807.8,330.1 808.4,330.3 809.0,330.0 809.6,329.2 810.3,327.8 810.9,325.8 811.5,323.4 812.1,320.9 812.7,318.6 813.4,316.7 814.0,315.3 814.6,314.5 815.2,314.3 815.9,314.5 816.5,315.1 817.1,315.8 817.7,316.6 818.3,317.5 819.0,318.3 819.6,319.2 820.2,320.0 820.8,320.9 821.4,321.7 822.1,322.6 822.7,323.4 823.3,324.3 823.9,325.1 824.6,325.9 825.2,326.7 825.8,327.4 826.4,327.9 827.0,328.1 827.7,327.9 828.3,327.2 828.9,325.8 829.5,323.9 830.2,321.6 830.8,319.1 831.4,316.8 832.0,314.8 832.6,313.3 833.3,312.5 833.9,312.2 834.5,312.4 835.1,313.0 835.8,313.7 836.4,314.5 837.0,315.4 837.6,316.2 838.2,317.1 838.9,317.9 839.5,318.8 840.1,319.7 840.7,320.5 841.4,321.4 842.0,322.2 842.6,323.0 843.2,323.9 843.8,324.7 844.5,325.4 845.1,325.9 845.7,326.2 846.3,326.1 847.0,325.4 847.6,324.1 848.2,322.3 848.8,320.0 849.4,317.6 850.1,315.2 850.7,313.1 851.3,311.6 851.9,310.7 852.5,310.4 853.2,310.6 853.8,311.1 854.4,311.8 855.0,312.6 855.7,313.5 856.3,314.3 856.9,315.2 857.5,316.1 858.1,316.9 858.8,317.8 859.4,318.7 860.0,319.5 860.6,320.4 861.3,321.2 861.9,322.1 862.5,322.9 863.1,323.6 863.7,324.2 864.4,324.5 865.0,324.4 865.6,323.8 866.2,322.7 866.9,320.9 867.5,318.6 868.1,316.2 868.7,313.8 869.3,311.7 870.0,310.1 870.6,309.2 871.2,308.8 871.8,308.9 872.5,309.4 873.1,310.1 873.7,310.9 874.3,311.8 874.9,312.7 875.6,313.5 876.2,314.4 876.8,315.3 877.4,316.2 878.0,317.0 878.7,317.9 879.3,318.7 879.9,319.6 880.5,320.4 881.2,321.3 881.8,322.0 882.4,322.6 883.0,323.0 883.6,323.0 884.3,322.5 884.9,321.3 885.5,319.6 886.1,317.5 886.8,315.0 887.4,312.6 888.0,310.5 888.6,308.8 889.2,307.8 889.9,307.4 890.5,307.5 891.1,307.9 891.7,308.6 892.4,309.4 893.0,310.3 893.6,311.2 894.2,312.1 894.8,312.9 895.5,313.8 896.1,314.7 896.7,315.6 897.3,316.4 898.0,317.3 898.6,318.1 899.2,319.0 899.8,319.8 900.4,320.6 901.1,321.2 901.7,321.6 902.3,321.7 902.9,321.2 903.6,320.2 904.2,318.6 904.8,316.4 905.4,314.0 906.0,311.6 906.7,309.4 907.3,307.7 907.9,306.6 908.5,306.1 909.1,306.2 909.8,306.6 910.4,307.3 911.0,308.1 911.6,308.9 912.3,309.8 912.9,310.7 913.5,311.6 914.1,312.5 914.7,313.4 915.4,314.2 916.0,315.1 916.6,316.0 917.2,316.9 917.9,317.7 918.5,318.5 919.1,319.3 919.7,320.0 920.3,320.4 921.0,320.5 921.6,320.2 922.2,319.2 922.8,317.6 923.5,315.5 924.1,313.1 924.7,310.7 925.3,308.5 925.9,306.8 926.6,305.6 927.2,305.1 927.8,305.0 928.4,305.4 929.1,306.1 929.7,306.9 930.3,307.7 930.9,308.6 931.5,309.5 932.2,310.4 932.8,311.3 933.4,312.2 934.0,313.1 934.7,314.0 935.3,314.8 935.9,315.7 936.5,316.6 937.1,317.4 937.8,318.2 938.4,318.9 939.0,319.4 939.6,319.5 940.2,319.2 940.9,318.3 941.5,316.8 942.1,314.8 942.7,312.4 943.4,310.0 944.0,307.7 944.6,305.9 945.2,304.7 945.8,304.1 946.5,304.0 947.1,304.4 947.7,305.0 948.3,305.8 949.0,306.7 949.6,307.6 950.2,308.5 950.8,309.4 951.4,310.3 952.1,311.1 952.7,312.0 953.3,312.9 953.9,313.8 954.6,314.7 955.2,315.5 955.8,316.4 956.4,317.2 957.0,317.9 957.7,318.4 958.3,318.6 958.9,318.4 959.5,317.5 960.2,316.1 960.8,314.1 961.4,311.8 962.0,309.4 962.6,307.1 963.3,305.2 963.9,303.9 964.5,303.3 965.1,303.1 965.8,303.5 966.4,304.1 967.0,304.9 967.6,305.7 968.2,306.6 968.9,307.5 969.5,308.4 970.1,309.3 970.7,310.2 971.3,311.1 972.0,312.0 972.6,312.9 973.2,313.7 973.8,314.6 974.5,315.5 975.1,316.3 975.7,317.0 976.3,317.6 976.9,317.8 977.6,317.6 978.2,316.9 978.8,315.5 979.4,313.6 980.1,311.3 980.7,308.9 981.3,306.6 981.9,304.6 982.5,303.3 983.2,302.5 983.8,302.4 984.4,302.6 985.0,303.2 985.7,304.0 986.3,304.9 986.9,305.8 987.5,306.7 988.1,307.6 988.8,308.5 989.4,309.4 990.0,310.3 990.6,311.1 991.3,312.0 991.9,312.9 992.5,313.8 993.1,314.7 993.7,315.5 994.4,316.2 995.0,316.8 995.6,317.1 996.2,317.0 996.9,316.3 997.5,315.0 998.1,313.1 998.7,310.9 999.3,308.4 1000.0,306.1 1000.6,304.1 1001.2,302.7 1001.8,301.9 1002.4,301.7 1003.1,301.9 1003.7,302.5 1004.3,303.2 1004.9,304.1 1005.6,305.0 1006.2,305.9 1006.8,306.8 1007.4,307.7 1008.0,308.6 1008.7,309.5 1009.3,310.4 1009.9,311.3 1010.5,312.2 1011.2,313.0 1011.8,313.9 1012.4,314.8 1013.0,315.5 1013.6,316.1 1014.3,316.5 1014.9,316.4 1015.5,315.8 1016.1,314.6 1016.8,312.8 1017.4,310.5 1018.0,308.1 1018.6,305.8 1019.2,303.7 1019.9,302.3 1020.5,301.4 1021.1,301.1 1021.7,301.3 1022.4,301.8 1023.0,302.6 1023.6,303.4 1024.2,304.3 1024.8,305.2 1025.5,306.1 1026.1,307.0 1026.7,307.9 1027.3,308.8 1028.0,309.7 1028.6,310.6 1029.2,311.5 1029.8,312.4 1030.4,313.3 1031.1,314.1 1031.7,314.9 1032.3,315.5 1032.9,315.9 1033.5,315.9 1034.2,315.3 1034.8,314.2 1035.4,312.5 1036.0,310.3 1036.7,307.9 1037.3,305.5 1037.9,303.4 1038.5,301.9 1039.1,300.9 1039.8,300.6 1040.4,300.7 1041.0,301.2 1041.6,301.9 1042.3,302.8 1042.9,303.7 1043.5,304.6 1044.1,305.5 1044.7,306.4 1045.4,307.3 1046.0,308.2 1046.6,309.1 1047.2,310.0 1047.9,310.9 1048.5,311.8 1049.1,312.7 1049.7,313.5 1050.3,314.3 1051.0,314.9 1051.6,315.4 1052.2,315.4 1052.8,314.9 1053.5,313.9 1054.1,312.2 1054.7,310.1 1055.3,307.7 1055.9,305.3 1056.6,303.2 1057.2,301.5 1057.8,300.5 1058.4,300.1 1059.1,300.2 1059.7,300.7 1060.3,301.4 1060.9,302.2 1061.5,303.1 1062.2,304.0 1062.8,304.9 1063.4,305.9 1064.0,306.8 1064.6,307.7 1065.3,308.6 1065.9,309.5 1066.5,310.4 1067.1,311.2 1067.8,312.1 1068.4,313.0 1069.0,313.8 1069.6,314.5 1070.2,314.9 1070.9,315.0 1071.5,314.6 1072.1,313.6 1072.7,312.0 1073.4,309.9 1074.0,307.5 1074.6,305.1 1075.2,303.0 1075.8,301.3 1076.5,300.2 1077.1,299.7 1077.7,299.8 1078.3,300.2 1079.0,300.9 1079.6,301.7 1080.2,302.6 1080.8,303.5 1081.4,304.4 1082.1,305.4 1082.7,306.3 1083.3,307.2 1083.9,308.1 1084.6,309.0 1085.2,309.9 1085.8,310.7 1086.4,311.6 1087.0,312.5 1087.7,313.3 1088.3,314.0 1088.9,314.5 1089.5,314.6 1090.2,314.3 1090.8,313.4 1091.4,311.8 1092.0,309.8 1092.6,307.4 1093.3,305.0 1093.9,302.8 1094.5,301.1 1095.1,299.9 1095.7,299.4 1096.4,299.4 1097.0,299.8 1097.6,300.4 1098.2,301.3 1098.9,302.2 1099.5,303.1 1100.1,304.0 1100.7,304.9 1101.3,305.8 1102.0,306.7 1102.6,307.6 1103.2,308.5 1103.8,309.4 1104.5,310.3 1105.1,311.2 1105.7,312.1 1106.3,312.9 1106.9,313.6 1107.6,314.1 1108.2,314.3 1108.8,314.0 1109.4,313.2 1110.1,311.7 1110.7,309.7 1111.3,307.4 1111.9,305.0 1112.5,302.7 1113.2,300.9 1113.8,299.7 1114.4,299.1 1115.0,299.0 1115.7,299.4 1116.3,300.0 1116.9,300.8 1117.5,301.7 1118.1,302.6 1118.8,303.6 1119.4,304.5 1120.0,305.4 1120.6,306.3 1121.3,307.2 1121.9,308.1 1122.5,309.0 1123.1,309.9 1123.7,310.8 1124.4,311.7 1125.0,312.5 1125.6,313.2 1126.2,313.8 1126.8,314.0 1127.5,313.8 1128.1,313.0 1128.7,311.6 1129.3,309.7 1130.0,307.4 1130.6,304.9 1131.2,302.7 1131.8,300.8 1132.4,299.5 1133.1,298.8 1133.7,298.7 1134.3,299.1 1134.9,299.7 1135.6,300.5 1136.2,301.4 1136.8,302.3 1137.4,303.2 1138.0,304.1 1138.7,305.0 1139.3,305.9 1139.9,306.8 1140.5,307.7 1141.2,308.6 1141.8,309.5 1142.4,310.4 1143.0,311.3 1143.6,312.1 1144.3,312.9 1144.9,313.5 1145.5,313.7 1146.1,313.6 1146.8,312.9 1147.4,311.5 1148.0,309.7 1148.6,307.4 1149.2,305.0 1149.9,302.7 1150.5,300.7 1151.1,299.4 1151.7,298.6 1152.4,298.5 1153.0,298.8 1153.6,299.3 1154.2,300.1 1154.8,301.0 1155.5,301.9 1156.1,302.8 1156.7,303.8 1157.3,304.7 1157.9,305.6 1158.6,306.5 1159.2,307.4 1159.8,308.3 1160.4,309.2 1161.1,310.1 1161.7,311.0 1162.3,311.8 1162.9,312.6 1163.5,313.2 1164.2,313.5 1164.8,313.4 1165.4,312.7 1166.0,311.5 1166.7,309.7 1167.3,307.4 1167.9,305.0 1168.5,302.7 1169.1,300.7 1169.8,299.3 1170.4,298.5 1171.0,298.2 1171.6,298.5 1172.3,299.0 1172.9,299.8 1173.5,300.7 1174.1,301.6 1174.7,302.5 1175.4,303.4 1176.0,304.4 1176.6,305.3 1177.2,306.2 1177.9,307.1 1178.5,308.0 1179.1,308.9 1179.7,309.8 1180.3,310.7 1181.0,311.5 1181.6,312.3 1182.2,312.9 1182.8,313.3 1183.5,313.2 1184.1,312.6 1184.7,311.5 1185.3,309.7 1185.9,307.5 1186.6,305.1 1187.2,302.7 1187.8,300.7 1188.4,299.2 1189.0,298.3 1189.7,298.1 1190.3,298.2 1190.9,298.8 1191.5,299.5 1192.2,300.4 1192.8,301.3 1193.4,302.2 1194.0,303.1 1194.6,304.1 1195.3,305.0 1195.9,305.9 1196.5,306.8 1197.1,307.7 1197.8,308.6 1198.4,309.5 1199.0,310.4 1199.6,311.2 1200.2,312.0 1200.9,312.7 1201.5,313.1 1202.1,313.1 1202.7,312.6 1203.4,311.5 1204.0,309.8 1204.6,307.6 1205.2,305.2 1205.8,302.8 1206.5,300.8 1207.1,299.2 1207.7,298.2 1208.3,297.9 1209.0,298.0 1209.6,298.5 1210.2,299.3 1210.8,300.1 1211.4,301.0 1212.1,301.9 1212.7,302.9 1213.3,303.8 1213.9,304.7 1214.6,305.6 1215.2,306.5 1215.8,307.4 1216.4,308.3 1217.0,309.2 1217.7,310.1 1218.3,311.0 1218.9,311.8 1219.5,312.4 1220.1,312.9 1220.8,312.9 1221.4,312.5 1222.0,311.5 1222.6,309.8 1223.3,307.7 1223.9,305.3 1224.5,302.9 1225.1,300.8 1225.7,299.2 1226.4,298.2 1227.0,297.8 1227.6,297.8 1228.2,298.3 1228.9,299.0 1229.5,299.9 1230.1,300.8 1230.7,301.7 1231.3,302.6 1232.0,303.5 1232.6,304.5 1233.2,305.4 1233.8,306.3 1234.5,307.2 1235.1,308.1 1235.7,309.0 1236.3,309.9 1236.9,310.7 1237.6,311.5 1238.2,312.2 1238.8,312.7 1239.4,312.8 1240.1,312.4 1240.7,311.5 1241.3,309.9 1241.9,307.8 1242.5,305.5 1243.2,303.1 1243.8,300.9 1244.4,299.2 1245.0,298.1 1245.7,297.6 1246.3,297.7 1246.9,298.1 1247.5,298.8 1248.1,299.6 1248.8,300.5 1249.4,301.5 1250.0,302.4 1250.6,303.3 1251.2,304.2 1251.9,305.1 1252.5,306.0 1253.1,307.0 1253.7,307.9 1254.4,308.8 1255.0,309.6 1255.6,310.5 1256.2,311.3 1256.8,312.0 1257.5,312.5 1258.1,312.7 1258.7,312.4 1259.3,311.5 1260.0,310.0 1260.6,308.0 1261.2,305.6 1261.8,303.2 1262.4,301.0 1263.1,299.3 1263.7,298.1 1264.3,297.5 1264.9,297.5 1265.6,297.9 1266.2,298.6 1266.8,299.4 1267.4,300.3 1268.0,301.2 1268.7,302.2 1269.3,303.1 1269.9,304.0 1270.5,304.9 1271.2,305.8 1271.8,306.7 1272.4,307.6 1273.0,308.5 1273.6,309.4 1274.3,310.3 1274.9,311.1 1275.5,311.9 1276.1,312.4 1276.8,312.6 1277.4,312.3 1278.0,311.5 1278.6,310.1 1279.2,308.1 1279.9,305.8 1280.5,303.4 1281.1,301.2 1281.7,299.3 1282.3,298.1 1283.0,297.5 1283.6,297.4 1284.2,297.8 1284.8,298.4 1285.5,299.2 1286.1,300.1 1286.7,301.0 1287.3,302.0 1287.9,302.9 1288.6,303.8 1289.2,304.7 1289.8,305.6 1290.4,306.5 1291.1,307.4 1291.7,308.3 1292.3,309.2 1292.9,310.1 1293.5,310.9 1294.2,311.7 1294.8,312.3 1295.4,312.5 1296.0,312.3 1296.7,311.6 1297.3,310.2 1297.9,308.3 1298.5,306.0 1299.1,303.6 1299.8,301.3 1300.4,299.4 1301.0,298.1 1301.6,297.4 1302.3,297.3 1302.9,297.6 1303.5,298.2 1304.1,299.0 1304.7,299.9 1305.4,300.8 1306.0,301.8 1306.6,302.7 1307.2,303.6 1307.9,304.5 1308.5,305.4 1309.1,306.3 1309.7,307.3 1310.3,308.2 1311.0,309.0 1311.6,309.9 1312.2,310.8 1312.8,311.5 1313.4,312.1 1314.1,312.4 1314.7,312.3 1315.3,311.6 1315.9,310.3 1316.6,308.4 1317.2,306.2 1317.8,303.8 1318.4,301.5 1319.0,299.5 1319.7,298.2 1320.3,297.4 1320.9,297.2 1321.5,297.5 1322.2,298.1 1322.8,298.9 1323.4,299.7 1324.0,300.7 1324.6,301.6 1325.3,302.5 1325.9,303.4 1326.5,304.3 1327.1,305.3 1327.8,306.2 1328.4,307.1 1329.0,308.0 1329.6,308.9 1330.2,309.8 1330.9,310.6 1331.5,311.4 1332.1,312.0 1332.7,312.3 1333.4,312.2 1334.0,311.6 1334.6,310.4 1335.2,308.6 1335.8,306.4 1336.5,304.0 1337.1,301.6 1337.7,299.7 1338.3,298.2 1339.0,297.4 1339.6,297.1 1340.2,297.4 1340.8,297.9 1341.4,298.7 1342.1,299.6 1342.7,300.5 1343.3,301.4 1343.9,302.3 1344.5,303.3 1345.2,304.2 1345.8,305.1 1346.4,306.0 1347.0,306.9 1347.7,307.8 1348.3,308.7 1348.9,309.6 1349.5,310.4 1350.1,311.2 1350.8,311.9 1351.4,312.2 1352.0,312.2 1352.6,311.7 1353.3,310.5 1353.9,308.8 1354.5,306.6 1355.1,304.2 1355.7,301.8 1356.4,299.8 1357.0,298.3 1357.6,297.4 1358.2,297.1 1358.9,297.3 1359.5,297.8 1360.1,298.5 1360.7,299.4 1361.3,300.3 1362.0,301.2 1362.6,302.2 1363.2,303.1 1363.8,304.0 1364.5,304.9 1365.1,305.8 1365.7,306.7 1366.3,307.6 1366.9,308.5 1367.6,309.4 1368.2,310.3 1368.8,311.1 1369.4,311.7 1370.1,312.2 1370.7,312.2 1371.3,311.7 1371.9,310.6 1372.5,308.9 1373.2,306.8 1373.8,304.4 1374.4,302.0 1375.0,300.0 1375.6,298.4 1376.3,297.4 1376.9,297.0 1377.5,297.2 1378.1,297.7 1378.8,298.4 1379.4,299.2 1380.0,300.2 1380.6,301.1 1381.2,302.0 1381.9,302.9 1382.5,303.8 1383.1,304.8 1383.7,305.7 1384.4,306.6 1385.0,307.5 1385.6,308.4 1386.2,309.3 1386.8,310.1 1387.5,310.9 1388.1,311.6 1388.7,312.1 1389.3,312.2 1390.0,311.7 1390.6,310.7 1391.2,309.1 1391.8,307.0 1392.4,304.6 1393.1,302.2 1393.7,300.1 1394.3,298.5 1394.9,297.4 1395.6,297.0 1396.2,297.1 1396.8,297.5 1397.4,298.3 1398.0,299.1 1398.7,300.0 1399.3,300.9 1399.9,301.8 1400.5,302.8 1401.2,303.7 1401.8,304.6 1402.4,305.5 1403.0,306.4 1403.6,307.3 1404.3,308.2 1404.9,309.1 1405.5,310.0 1406.1,310.8 1406.7,311.5 1407.4,312.0 1408.0,312.1 1408.6,311.8 1409.2,310.8 1409.9,309.3 1410.5,307.2 1411.1,304.9 1411.7,302.5 1412.3,300.3 1413.0,298.6 1413.6,297.5 1414.2,297.0 1414.8,297.0 1415.5,297.4 1416.1,298.1 1416.7,299.0 1417.3,299.9 1417.9,300.8 1418.6,301.7 1419.2,302.6 1419.8,303.5 1420.4,304.5 1421.1,305.4 1421.7,306.3 1422.3,307.2 1422.9,308.1 1423.5,309.0 1424.2,309.9 1424.8,310.7 1425.4,311.4 1426.0,311.9 1426.7,312.1 1427.3,311.8 1427.9,310.9 1428.5,309.5 1429.1,307.5 1429.8,305.1 1430.4,302.7 1431.0,300.5 1431.6,298.7 1432.3,297.5 1432.9,297.0 1433.5,296.9 1434.1,297.3 1434.7,298.0 1435.4,298.8 1436.0,299.7 1436.6,300.6 1437.2,301.6 1437.9,302.5 1438.5,303.4 1439.1,304.3 1439.7,305.2 1440.3,306.1 1441.0,307.1 1441.6,308.0 1442.2,308.8 1442.8,309.7 1443.4,310.6 1444.1,311.3 1444.7,311.8 1445.3,312.1 1445.9,311.8 1446.6,311.0 1447.2,309.6 1447.8,307.7 1448.4,305.4 1449.0,302.9 1449.7,300.7 1450.3,298.9 1450.9,297.6 1451.5,297.0 1452.2,296.9 1452.8,297.2 1453.4,297.9 1454.0,298.7 1454.6,299.6 1455.3,300.5 1455.9,301.4 1456.5,302.3 1457.1,303.3 1457.8,304.2 1458.4,305.1 1459.0,306.0 1459.6,306.9 1460.2,307.8 1460.9,308.7 1461.5,309.6 1462.1,310.4 1462.7,311.2 1463.4,311.8 1464.0,312.0 1464.6,311.8 1465.2,311.1 1465.8,309.8 1466.5,307.9 1467.1,305.6 1467.7,303.2 1468.3,300.9 1469.0,299.0 1469.6,297.7 1470.2,297.0 1470.8,296.8 1471.4,297.1 1472.1,297.8 1472.7,298.6 1473.3,299.4 1473.9,300.4 1474.5,301.3 1475.2,302.2 1475.8,303.1 1476.4,304.1 1477.0,305.0 1477.7,305.9 1478.3,306.8 1478.9,307.7 1479.5,308.6 1480.1,309.5 1480.8,310.3 1481.4,311.1 1482.0,311.7 1482.6,312.0 1483.3,311.9 1483.9,311.2 1484.5,309.9 1485.1,308.1 1485.7,305.9 1486.4,303.4 1487.0,301.1 1487.6,299.2 1488.2,297.8 1488.9,297.0 1489.5,296.8 1490.1,297.1 1490.7,297.7 1491.3,298.4 1492.0,299.3 1492.6,300.2 1493.2,301.2 1493.8,302.1 1494.5,303.0 1495.1,303.9 1495.7,304.8 1496.3,305.7 1496.9,306.7 1497.6,307.6 1498.2,308.5 1498.8,309.3 1499.4,310.2 1500.1,311.0 1500.7,311.6 1501.3,311.9 1501.9,311.9 1502.5,311.3 1503.2,310.1 1503.8,308.3 1504.4,306.1 1505.0,303.7 1505.6,301.4 1506.3,299.4 1506.9,297.9 1507.5,297.0 1508.1,296.8 1508.8,297.0 1509.4,297.6 1510.0,298.3 1510.6,299.2 1511.2,300.1 1511.9,301.0 1512.5,302.0 1513.1,302.9 1513.7,303.8 1514.4,304.7 1515.0,305.6 1515.6,306.5 1516.2,307.4 1516.8,308.3 1517.5,309.2 1518.1,310.1 1518.7,310.9 1519.3,311.5 1520.0,311.9 1520.6,311.9 1521.2,311.4 1521.8,310.2 1522.4,308.5 1523.1,306.4 1523.7,304.0 1524.3,301.6 1524.9,299.5 1525.6,298.0 1526.2,297.1 1526.8,296.8 1527.4,296.9 1528.0,297.5 1528.7,298.2 1529.3,299.1 1529.9,300.0 1530.5,300.9 1531.2,301.8 1531.8,302.7 1532.4,303.7 1533.0,304.6 1533.6,305.5 1534.3,306.4 1534.9,307.3 1535.5,308.2 1536.1,309.1 1536.7,310.0 1537.4,310.8 1538.0,311.4 1538.6,311.9 1539.2,311.9 1539.9,311.4 1540.5,310.4 1541.1,308.7 1541.7,306.6 1542.3,304.2 1543.0,301.8 1543.6,299.7 1544.2,298.1 1544.8,297.2 1545.5,296.8 1546.1,296.9 1546.7,297.4 1547.3,298.1 1547.9,298.9 1548.6,299.8 1549.2,300.8 1549.8,301.7 1550.4,302.6 1551.1,303.5 1551.7,304.5 1552.3,305.4 1552.9,306.3 1553.5,307.2 1554.2,308.1 1554.8,309.0 1555.4,309.9 1556.0,310.7 1556.7,311.4 1557.3,311.8 1557.9,311.9 1558.5,311.5 1559.1,310.5 1559.8,308.9 1560.4,306.9 1561.0,304.5 1561.6,302.1 1562.3,299.9 1562.9,298.3 1563.5,297.2 1564.1,296.8 1564.7,296.8 1565.4,297.3 1566.0,298.0 1566.6,298.8 1567.2,299.7 1567.8,300.7 1568.5,301.6 1569.1,302.5 1569.7,303.4 1570.3,304.3 1571.0,305.3 1571.6,306.2 1572.2,307.1 1572.8,308.0 1573.4,308.9 1574.1,309.7 1574.7,310.6 1575.3,311.3 1575.9,311.8 1576.6,311.9 1577.2,311.6 1577.8,310.6 1578.4,309.1 1579.0,307.1 1579.7,304.7 1580.3,302.3 1580.9,300.2 1581.5,298.4 1582.2,297.3 1582.8,296.8 1583.4,296.8 1584.0,297.2 1584.6,297.9 1585.3,298.7 1585.9,299.6 1586.5,300.5 1587.1,301.5 1587.8,302.4 1588.4,303.3 1589.0,304.2 1589.6,305.1 1590.2,306.0 1590.9,307.0 1591.5,307.9 1592.1,308.8 1592.7,309.6 1593.4,310.5 1594.0,311.2 1594.6,311.7 1595.2,311.9 1595.8,311.6 1596.5,310.8 1597.1,309.3 1597.7,307.3 1598.3,305.0 1598.9,302.6 1599.6,300.4 1600.2,298.6 1600.8,297.4 1601.4,296.8 1602.1,296.7 1602.7,297.1 1603.3,297.8 1603.9,298.6 1604.5,299.5 1605.2,300.4 1605.8,301.3 1606.4,302.3 1607.0,303.2 1607.7,304.1 1608.3,305.0 1608.9,305.9 1609.5,306.8 1610.1,307.7 1610.8,308.6 1611.4,309.5 1612.0,310.4 1612.6,311.1 1613.3,311.6 1613.9,311.9 1614.5,311.7 1615.1,310.9 1615.7,309.5 1616.4,307.6 1617.0,305.3 1617.6,302.9 1618.2,300.6 1618.9,298.8 1619.5,297.5 1620.1,296.8 1620.7,296.7 1621.3,297.0 1622.0,297.7 1622.6,298.5 1623.2,299.4 1623.8,300.3 1624.5,301.2 1625.1,302.2 1625.7,303.1 1626.3,304.0 1626.9,304.9 1627.6,305.8 1628.2,306.7 1628.8,307.6 1629.4,308.5 1630.0,309.4 1630.7,310.3 1631.3,311.0 1631.9,311.6 1632.5,311.9 1633.2,311.7 1633.8,311.0 1634.4,309.7 1635.0,307.8 1635.6,305.5 1636.3,303.1 1636.9,300.8 1637.5,298.9 1638.1,297.6 1638.8,296.9 1639.4,296.7 1640.0,297.0 1640.6,297.6 1641.2,298.4 1641.9,299.3 1642.5,300.2 1643.1,301.1 1643.7,302.0 1644.4,303.0 1645.0,303.9 1645.6,304.8 1646.2,305.7 1646.8,306.6 1647.5,307.5 1648.1,308.4 1648.7,309.3 1649.3,310.2 1650.0,310.9 1650.6,311.5 1651.2,311.8 1651.8,311.7 1652.4,311.1 1653.1,309.9 1653.7,308.0 1654.3,305.8 1654.9,303.4 1655.6,301.1 1656.2,299.1 1656.8,297.7 1657.4,296.9 1658.0,296.7 1658.7,296.9 1659.3,297.5 1659.9,298.3 1660.5,299.2 1661.1,300.1 1661.8,301.0 1662.4,301.9 1663.0,302.8 1663.6,303.8 1664.3,304.7 1664.9,305.6 1665.5,306.5 1666.1,307.4 1666.7,308.3 1667.4,309.2 1668.0,310.0 1668.6,310.8 1669.2,311.5 1669.9,311.8 1670.5,311.8 1671.1,311.2 1671.7,310.0 1672.3,308.3 1673.0,306.1 1673.6,303.7 1674.2,301.3 1674.8,299.3 1675.5,297.8 1676.1,297.0 1676.7,296.7 1677.3,296.9 1677.9,297.4 1678.6,298.2 1679.2,299.0 1679.8,300.0 1680.4,300.9 1681.1,301.8 1681.7,302.7 1682.3,303.7 1682.9,304.6 1683.5,305.5 1684.2,306.4 1684.8,307.3 1685.4,308.2 1686.0,309.1 1686.7,309.9 1687.3,310.7 1687.9,311.4 1688.5,311.8 1689.1,311.8 1689.8,311.3 1690.4,310.2 1691.0,308.5 1691.6,306.3 1692.2,303.9 1692.9,301.6 1693.5,299.5 1694.1,298.0 1694.7,297.0 1695.4,296.7 1696.0,296.8 1696.6,297.3 1697.2,298.1 1697.8,298.9 1698.5,299.8 1699.1,300.8 1699.7,301.7 1700.3,302.6 1701.0,303.5 1701.6,304.5 1702.2,305.4 1702.8,306.3 1703.4,307.2 1704.1,308.1 1704.7,309.0 1705.3,309.8 1705.9,310.6 1706.6,311.3 1707.2,311.8 1707.8,311.8 1708.4,311.4 1709.0,310.3 1709.7,308.7 1710.3,306.6 1710.9,304.2 1711.5,301.8 1712.2,299.7 1712.8,298.1 1713.4,297.1 1714.0,296.7 1714.6,296.8 1715.3,297.3 1715.9,298.0 1716.5,298.8 1717.1,299.7 1717.8,300.7 1718.4,301.6 1719.0,302.5 1719.6,303.4 1720.2,304.3 1720.9,305.3 1721.5,306.2 1722.1,307.1 1722.7,308.0 1723.3,308.9 1724.0,309.7 1724.6,310.6 1725.2,311.2 1725.8,311.7 1726.5,311.8 1727.1,311.4 1727.7,310.5 1728.3,308.9 1728.9,306.8 1729.6,304.5 1730.2,302.1 1730.8,299.9 1731.4,298.3 1732.1,297.2 1732.7,296.7 1733.3,296.7 1733.9,297.2 1734.5,297.9 1735.2,298.7 1735.8,299.6 1736.4,300.5 1737.0,301.5 1737.7,302.4 1738.3,303.3 1738.9,304.2 1739.5,305.2 1740.1,306.1 1740.8,307.0 1741.4,307.9 1742.0,308.8 1742.6,309.6 1743.3,310.5 1743.9,311.2 1744.5,311.7 1745.1,311.8 1745.7,311.5 1746.4,310.6 1747.0,309.1 1747.6,307.1 1748.2,304.8 1748.9,302.3 1749.5,300.2 1750.1,298.4 1750.7,297.3 1751.3,296.7 1752.0,296.7 1752.6,297.1 1753.2,297.8 1753.8,298.6 1754.4,299.5 1755.1,300.4 1755.7,301.4 1756.3,302.3 1756.9,303.2 1757.6,304.1 1758.2,305.0 1758.8,306.0 1759.4,306.9 1760.0,307.8 1760.7,308.7 1761.3,309.5 1761.9,310.4 1762.5,311.1 1763.2,311.6 1763.8,311.8 1764.4,311.6 1765.0,310.8 1765.6,309.3 1766.3,307.4 1766.9,305.0 1767.5,302.6 1768.1,300.4 1768.8,298.6 1769.4,297.4 1770.0,296.7 1770.6,296.7 1771.2,297.0 1771.9,297.7 1772.5,298.5 1773.1,299.4 1773.7,300.3 1774.4,301.3 1775.0,302.2 1775.6,303.1 1776.2,304.0 1776.8,304.9 1777.5,305.8 1778.1,306.8 1778.7,307.7 1779.3,308.6 1780.0,309.4 1780.6,310.3 1781.2,311.0 1781.8,311.6 1782.4,311.8 1783.1,311.6 1783.7,310.9 1784.3,309.5 1784.9,307.6 1785.5,305.3 1786.2,302.9 1786.8,300.6 1787.4,298.8 1788.0,297.5 1788.7,296.8 1789.3,296.7 1789.9,297.0 1790.5,297.6 1791.1,298.4 1791.8,299.3 1792.4,300.2 1793.0,301.1 1793.6,302.1 1794.3,303.0 1794.9,303.9 1795.5,304.8"/>
<polyline stroke="#77AC30" filter="url(#al)" points="240.5,740.5 241.1,740.5 241.7,740.5 242.4,740.5 243.0,740.5 243.6,740.5 244.2,740.5 244.9,740.5 245.5,740.4 246.1,740.1 246.7,739.5 247.3,738.5 248.0,736.8 248.6,734.5 249.2,731.6 249.8,728.3 250.5,725.0 251.1,722.0 251.7,719.6 252.3,717.9 252.9,716.8 253.6,716.2 254.2,715.9 254.8,715.7 255.4,715.7 256.1,715.7 256.7,715.7 257.3,715.7 257.9,715.7 258.5,715.7 259.2,715.7 259.8,715.7 260.4,715.7 261.0,715.7 261.6,715.7 262.3,715.7 262.9,715.7 263.5,715.7 264.1,715.6 264.8,715.4 265.4,714.8 266.0,713.9 266.6,712.3 267.2,710.0 267.9,707.2 268.5,703.9 269.1,700.6 269.7,697.6 270.4,695.1 271.0,693.3 271.6,692.2 272.2,691.5 272.8,691.2 273.5,691.1 274.1,691.1 274.7,691.1 275.3,691.1 276.0,691.1 276.6,691.1 277.2,691.1 277.8,691.1 278.4,691.1 279.1,691.1 279.7,691.1 280.3,691.2 280.9,691.2 281.6,691.2 282.2,691.2 282.8,691.1 283.4,690.9 284.0,690.4 284.7,689.5 285.3,688.0 285.9,685.8 286.5,683.1 287.2,679.8 287.8,676.5 288.4,673.5 289.0,671.0 289.6,669.1 290.3,667.9 290.9,667.2 291.5,666.9 292.1,666.7 292.7,666.7 293.4,666.7 294.0,666.7 294.6,666.8 295.2,666.8 295.9,666.8 296.5,666.8 297.1,666.9 297.7,666.9 298.3,666.9 299.0,667.0 299.6,667.0 300.2,667.0 300.8,667.0 301.5,667.0 302.1,666.8 302.7,666.4 303.3,665.5 303.9,664.1 304.6,662.1 305.2,659.3 305.8,656.2 306.4,652.9 307.1,649.8 307.7,647.2 308.3,645.3 308.9,644.0 309.5,643.3 310.2,643.0 310.8,642.9 311.4,642.8 312.0,642.9 312.7,642.9 313.3,643.0 313.9,643.0 314.5,643.0 315.1,643.1 315.8,643.1 316.4,643.2 317.0,643.2 317.6,643.3 318.2,643.3 318.9,643.4 319.5,643.4 320.1,643.4 320.7,643.2 321.4,642.9 322.0,642.1 322.6,640.8 323.2,638.8 323.8,636.2 324.5,633.1 325.1,629.8 325.7,626.7 326.3,624.1 327.0,622.1 327.6,620.8 328.2,620.1 328.8,619.7 329.4,619.6 330.1,619.6 330.7,619.6 331.3,619.7 331.9,619.8 332.6,619.9 333.2,619.9 333.8,620.0 334.4,620.1 335.0,620.1 335.7,620.2 336.3,620.3 336.9,620.3 337.5,620.4 338.2,620.5 338.8,620.5 339.4,620.4 340.0,620.1 340.6,619.4 341.3,618.2 341.9,616.3 342.5,613.8 343.1,610.7 343.8,607.5 344.4,604.4 345.0,601.7 345.6,599.7 346.2,598.3 346.9,597.6 347.5,597.2 348.1,597.1 348.7,597.1 349.3,597.2 350.0,597.3 350.6,597.4 351.2,597.5 351.8,597.6 352.5,597.7 353.1,597.8 353.7,597.9 354.3,598.0 354.9,598.1 355.6,598.2 356.2,598.3 356.8,598.3 357.4,598.4 358.1,598.3 358.7,598.1 359.3,597.5 359.9,596.4 360.5,594.6 361.2,592.2 361.8,589.2 362.4,586.0 363.0,582.9 363.7,580.2 364.3,578.1 364.9,576.7 365.5,575.9 366.1,575.5 366.8,575.4 367.4,575.5 368.0,575.6 368.6,575.7 369.3,575.9 369.9,576.0 370.5,576.1 371.1,576.2 371.7,576.4 372.4,576.5 373.0,576.6 373.6,576.8 374.2,576.9 374.9,577.0 375.5,577.1 376.1,577.2 376.7,577.2 377.3,577.0 378.0,576.5 378.6,575.5 379.2,573.8 379.8,571.5 380.4,568.6 381.1,565.5 381.7,562.4 382.3,559.6 382.9,557.5 383.6,556.1 384.2,555.2 384.8,554.9 385.4,554.8 386.0,554.9 386.7,555.0 387.3,555.1 387.9,555.3 388.5,555.5 389.2,555.6 389.8,555.8 390.4,556.0 391.0,556.1 391.6,556.3 392.3,556.5 392.9,556.6 393.5,556.8 394.1,556.9 394.8,557.1 395.4,557.1 396.0,557.0 396.6,556.5 397.2,555.6 397.9,554.1 398.5,551.9 399.1,549.1 399.7,546.0 400.4,542.9 401.0,540.1 401.6,537.9 402.2,536.5 402.8,535.6 403.5,535.2 404.1,535.2 404.7,535.2 405.3,535.4 406.0,535.6 406.6,535.8 407.2,536.0 407.8,536.2 408.4,536.4 409.1,536.6 409.7,536.8 410.3,537.0 410.9,537.2 411.5,537.4 412.2,537.6 412.8,537.8 413.4,538.0 414.0,538.1 414.7,538.0 415.3,537.6 415.9,536.8 416.5,535.4 417.1,533.3 417.8,530.6 418.4,527.5 419.0,524.4 419.6,521.7 420.3,519.5 420.9,518.0 421.5,517.1 422.1,516.7 422.7,516.6 423.4,516.7 424.0,516.9 424.6,517.2 425.2,517.4 425.9,517.6 426.5,517.9 427.1,518.1 427.7,518.4 428.3,518.6 429.0,518.8 429.6,519.1 430.2,519.3 430.8,519.5 431.5,519.8 432.1,520.0 432.7,520.1 433.3,520.1 433.9,519.8 434.6,519.1 435.2,517.8 435.8,515.8 436.4,513.2 437.1,510.2 437.7,507.1 438.3,504.4 438.9,502.1 439.5,500.6 440.2,499.7 440.8,499.3 441.4,499.2 442.0,499.3 442.6,499.6 443.3,499.8 443.9,500.1 444.5,500.4 445.1,500.7 445.8,501.0 446.4,501.2 447.0,501.5 447.6,501.8 448.2,502.1 448.9,502.3 449.5,502.6 450.1,502.9 450.7,503.1 451.4,503.3 452.0,503.4 452.6,503.2 453.2,502.5 453.8,501.3 454.5,499.4 455.1,496.9 455.7,494.0 456.3,491.0 457.0,488.2 457.6,485.9 458.2,484.3 458.8,483.4 459.4,483.0 460.1,482.9 460.7,483.1 461.3,483.4 461.9,483.7 462.6,484.0 463.2,484.3 463.8,484.6 464.4,484.9 465.0,485.2 465.7,485.5 466.3,485.9 466.9,486.2 467.5,486.5 468.2,486.8 468.8,487.1 469.4,487.4 470.0,487.6 470.6,487.7 471.3,487.6 471.9,487.1 472.5,486.0 473.1,484.2 473.7,481.8 474.4,479.0 475.0,476.0 475.6,473.2 476.2,470.9 476.9,469.2 477.5,468.2 478.1,467.8 478.7,467.8 479.3,468.0 480.0,468.3 480.6,468.6 481.2,469.0 481.8,469.3 482.5,469.7 483.1,470.0 483.7,470.4 484.3,470.7 484.9,471.1 485.6,471.4 486.2,471.8 486.8,472.1 487.4,472.5 488.1,472.8 488.7,473.1 489.3,473.2 489.9,473.2 490.5,472.7 491.2,471.7 491.8,470.1 492.4,467.8 493.0,465.0 493.7,462.1 494.3,459.3 494.9,456.9 495.5,455.2 496.1,454.2 496.8,453.8 497.4,453.8 498.0,454.0 498.6,454.3 499.3,454.7 499.9,455.1 500.5,455.4 501.1,455.8 501.7,456.2 502.4,456.6 503.0,457.0 503.6,457.4 504.2,457.8 504.8,458.2 505.5,458.5 506.1,458.9 506.7,459.3 507.3,459.6 508.0,459.8 508.6,459.8 509.2,459.5 509.8,458.6 510.4,457.1 511.1,454.9 511.7,452.2 512.3,449.3 512.9,446.5 513.6,444.1 514.2,442.4 514.8,441.3 515.4,440.9 516.0,440.8 516.7,441.0 517.3,441.4 517.9,441.8 518.5,442.2 519.2,442.7 519.8,443.1 520.4,443.5 521.0,443.9 521.6,444.3 522.3,444.8 522.9,445.2 523.5,445.6 524.1,446.0 524.8,446.4 525.4,446.8 526.0,447.2 526.6,447.5 527.2,447.6 527.9,447.3 528.5,446.5 529.1,445.1 529.7,443.0 530.4,440.4 531.0,437.5 531.6,434.7 532.2,432.3 532.8,430.5 533.5,429.5 534.1,429.0 534.7,428.9 535.3,429.2 535.9,429.5 536.6,430.0 537.2,430.4 537.8,430.9 538.4,431.4 539.1,431.8 539.7,432.3 540.3,432.7 540.9,433.2 541.5,433.6 542.2,434.1 542.8,434.5 543.4,435.0 544.0,435.4 544.7,435.8 545.3,436.2 545.9,436.3 546.5,436.1 547.1,435.4 547.8,434.1 548.4,432.1 549.0,429.6 549.6,426.7 550.3,424.0 550.9,421.5 551.5,419.7 552.1,418.6 552.7,418.1 553.4,418.0 554.0,418.3 554.6,418.7 555.2,419.1 555.9,419.6 556.5,420.1 557.1,420.6 557.7,421.1 558.3,421.6 559.0,422.1 559.6,422.6 560.2,423.1 560.8,423.5 561.5,424.0 562.1,424.5 562.7,425.0 563.3,425.4 563.9,425.8 564.6,426.0 565.2,425.9 565.8,425.3 566.4,424.1 567.1,422.2 567.7,419.7 568.3,417.0 568.9,414.2 569.5,411.7 570.2,409.9 570.8,408.7 571.4,408.2 572.0,408.1 572.6,408.3 573.3,408.8 573.9,409.2 574.5,409.8 575.1,410.3 575.8,410.8 576.4,411.3 577.0,411.9 577.6,412.4 578.2,412.9 578.9,413.4 579.5,413.9 580.1,414.4 580.7,414.9 581.4,415.4 582.0,415.9 582.6,416.3 583.2,416.6 583.8,416.5 584.5,416.0 585.1,414.9 585.7,413.2 586.3,410.8 587.0,408.1 587.6,405.3 588.2,402.8 588.8,400.9 589.4,399.7 590.1,399.1 590.7,399.0 591.3,399.3 591.9,399.7 592.6,400.2 593.2,400.8 593.8,401.3 594.4,401.9 595.0,402.4 595.7,403.0 596.3,403.5 596.9,404.1 597.5,404.6 598.2,405.2 598.8,405.7 599.4,406.2 600.0,406.8 600.6,407.3 601.3,407.7 601.9,408.0 602.5,408.1 603.1,407.6 603.7,406.6 604.4,405.0 605.0,402.7 605.6,400.0 606.2,397.3 606.9,394.8 607.5,392.8 608.1,391.5 608.7,390.9 609.3,390.8 610.0,391.1 610.6,391.5 611.2,392.0 611.8,392.6 612.5,393.2 613.1,393.8 613.7,394.3 614.3,394.9 614.9,395.5 615.6,396.1 616.2,396.6 616.8,397.2 617.4,397.8 618.1,398.3 618.7,398.9 619.3,399.4 619.9,399.9 620.5,400.3 621.2,400.4 621.8,400.0 622.4,399.1 623.0,397.6 623.7,395.4 624.3,392.7 624.9,390.0 625.5,387.5 626.1,385.5 626.8,384.2 627.4,383.5 628.0,383.4 628.6,383.6 629.3,384.1 629.9,384.6 630.5,385.2 631.1,385.8 631.7,386.4 632.4,387.0 633.0,387.6 633.6,388.2 634.2,388.8 634.8,389.4 635.5,390.0 636.1,390.6 636.7,391.2 637.3,391.8 638.0,392.3 638.6,392.8 639.2,393.2 639.8,393.4 640.4,393.1 641.1,392.3 641.7,390.9 642.3,388.8 642.9,386.2 643.6,383.5 644.2,380.9 644.8,378.9 645.4,377.5 646.0,376.8 646.7,376.6 647.3,376.9 647.9,377.3 648.5,377.9 649.2,378.5 649.8,379.1 650.4,379.8 651.0,380.4 651.6,381.0 652.3,381.6 652.9,382.2 653.5,382.9 654.1,383.5 654.8,384.1 655.4,384.7 656.0,385.3 656.6,385.9 657.2,386.4 657.9,386.9 658.5,387.1 659.1,386.9 659.7,386.2 660.4,384.8 661.0,382.8 661.6,380.3 662.2,377.6 662.8,375.0 663.5,373.0 664.1,371.5 664.7,370.7 665.3,370.6 665.9,370.8 666.6,371.2 667.2,371.8 667.8,372.4 668.4,373.1 669.1,373.7 669.7,374.4 670.3,375.0 670.9,375.7 671.5,376.3 672.2,376.9 672.8,377.6 673.4,378.2 674.0,378.8 674.7,379.5 675.3,380.1 675.9,380.7 676.5,381.1 677.1,381.4 677.8,381.3 678.4,380.7 679.0,379.4 679.6,377.5 680.3,375.0 680.9,372.3 681.5,369.8 682.1,367.6 682.7,366.1 683.4,365.3 684.0,365.1 684.6,365.3 685.2,365.7 685.9,366.3 686.5,367.0 687.1,367.6 687.7,368.3 688.3,369.0 689.0,369.6 689.6,370.3 690.2,371.0 690.8,371.6 691.5,372.3 692.1,372.9 692.7,373.6 693.3,374.2 693.9,374.8 694.6,375.4 695.2,376.0 695.8,376.3 696.4,376.2 697.0,375.7 697.7,374.5 698.3,372.7 698.9,370.3 699.5,367.6 700.2,365.1 700.8,362.9 701.4,361.3 702.0,360.5 702.6,360.2 703.3,360.3 703.9,360.8 704.5,361.4 705.1,362.1 705.8,362.7 706.4,363.4 707.0,364.1 707.6,364.8 708.2,365.5 708.9,366.1 709.5,366.8 710.1,367.5 710.7,368.2 711.4,368.8 712.0,369.5 712.6,370.1 713.2,370.8 713.8,371.3 714.5,371.7 715.1,371.7 715.7,371.2 716.3,370.1 717.0,368.4 717.6,366.1 718.2,363.5 718.8,360.9 719.4,358.7 720.1,357.0 720.7,356.1 721.3,355.8 721.9,355.9 722.6,356.4 723.2,357.0 723.8,357.6 724.4,358.3 725.0,359.0 725.7,359.7 726.3,360.4 726.9,361.1 727.5,361.8 728.1,362.5 728.8,363.2 729.4,363.9 730.0,364.6 730.6,365.2 731.3,365.9 731.9,366.5 732.5,367.1 733.1,367.5 733.7,367.6 734.4,367.2 735.0,366.2 735.6,364.6 736.2,362.3 736.9,359.7 737.5,357.1 738.1,354.9 738.7,353.2 739.3,352.2 740.0,351.8 740.6,351.9 741.2,352.4 741.8,353.0 742.5,353.7 743.1,354.4 743.7,355.1 744.3,355.8 744.9,356.5 745.6,357.2 746.2,357.9 746.8,358.6 747.4,359.3 748.1,360.0 748.7,360.7 749.3,361.4 749.9,362.1 750.5,362.8 751.2,363.3 751.8,363.8 752.4,363.9 753.0,363.6 753.7,362.7 754.3,361.2 754.9,359.0 755.5,356.4 756.1,353.8 756.8,351.5 757.4,349.8 758.0,348.7 758.6,348.3 759.2,348.4 759.9,348.8 760.5,349.4 761.1,350.1 761.7,350.8 762.4,351.5 763.0,352.3 763.6,353.0 764.2,353.7 764.8,354.4 765.5,355.1 766.1,355.9 766.7,356.6 767.3,357.3 768.0,358.0 768.6,358.7 769.2,359.4 769.8,360.0 770.4,360.4 771.1,360.6 771.7,360.4 772.3,359.6 772.9,358.1 773.6,356.0 774.2,353.5 774.8,350.9 775.4,348.6 776.0,346.8 776.7,345.6 777.3,345.1 777.9,345.2 778.5,345.6 779.2,346.2 779.8,346.9 780.4,347.6 781.0,348.4 781.6,349.1 782.3,349.8 782.9,350.6 783.5,351.3 784.1,352.0 784.8,352.7 785.4,353.5 786.0,354.2 786.6,354.9 787.2,355.6 787.9,356.3 788.5,356.9 789.1,357.4 789.7,357.7 790.3,357.5 791.0,356.8 791.6,355.4 792.2,353.4 792.8,350.9 793.5,348.3 794.1,345.9 794.7,344.1 795.3,342.9 795.9,342.3 796.6,342.3 797.2,342.7 797.8,343.3 798.4,344.0 799.1,344.7 799.7,345.5 800.3,346.2 800.9,347.0 801.5,347.7 802.2,348.5 802.8,349.2 803.4,350.0 804.0,350.7 804.7,351.4 805.3,352.1 805.9,352.9 806.5,353.6 807.1,354.2 807.8,354.8 808.4,355.1 809.0,355.0 809.6,354.3 810.3,353.0 810.9,351.1 811.5,348.6 812.1,346.0 812.7,343.6 813.4,341.7 814.0,340.4 814.6,339.8 815.2,339.8 815.9,340.1 816.5,340.7 817.1,341.4 817.7,342.2 818.3,342.9 819.0,343.7 819.6,344.4 820.2,345.2 820.8,346.0 821.4,346.7 822.1,347.4 822.7,348.2 823.3,348.9 823.9,349.7 824.6,350.4 825.2,351.1 825.8,351.8 826.4,352.3 827.0,352.7 827.7,352.7 828.3,352.1 828.9,350.9 829.5,349.0 830.2,346.6 830.8,344.0 831.4,341.6 832.0,339.6 832.6,338.3 833.3,337.6 833.9,337.5 834.5,337.8 835.1,338.4 835.8,339.1 836.4,339.9 837.0,340.6 837.6,341.4 838.2,342.2 838.9,342.9 839.5,343.7 840.1,344.4 840.7,345.2 841.4,346.0 842.0,346.7 842.6,347.4 843.2,348.2 843.8,348.9 844.5,349.6 845.1,350.2 845.7,350.6 846.3,350.6 847.0,350.1 847.6,349.0 848.2,347.2 848.8,344.9 849.4,342.3 850.1,339.8 850.7,337.8 851.3,336.4 851.9,335.6 852.5,335.5 853.2,335.8 853.8,336.4 854.4,337.1 855.0,337.8 855.7,338.6 856.3,339.4 856.9,340.1 857.5,340.9 858.1,341.7 858.8,342.4 859.4,343.2 860.0,343.9 860.6,344.7 861.3,345.5 861.9,346.2 862.5,346.9 863.1,347.6 863.7,348.3 864.4,348.7 865.0,348.8 865.6,348.3 866.2,347.3 866.9,345.6 867.5,343.3 868.1,340.8 868.7,338.3 869.3,336.2 870.0,334.7 870.6,333.9 871.2,333.7 871.8,334.0 872.5,334.5 873.1,335.2 873.7,336.0 874.3,336.7 874.9,337.5 875.6,338.3 876.2,339.1 876.8,339.8 877.4,340.6 878.0,341.4 878.7,342.1 879.3,342.9 879.9,343.7 880.5,344.4 881.2,345.2 881.8,345.9 882.4,346.5 883.0,347.0 883.6,347.1 884.3,346.8 884.9,345.8 885.5,344.2 886.1,342.0 886.8,339.4 887.4,336.9 888.0,334.8 888.6,333.2 889.2,332.3 889.9,332.1 890.5,332.3 891.1,332.8 891.7,333.5 892.4,334.3 893.0,335.1 893.6,335.9 894.2,336.7 894.8,337.4 895.5,338.2 896.1,339.0 896.7,339.8 897.3,340.5 898.0,341.3 898.6,342.1 899.2,342.8 899.8,343.6 900.4,344.3 901.1,345.0 901.7,345.5 902.3,345.6 902.9,345.4 903.6,344.5 904.2,342.9 904.8,340.8 905.4,338.3 906.0,335.8 906.7,333.6 907.3,331.9 907.9,331.0 908.5,330.7 909.1,330.9 909.8,331.4 910.4,332.0 911.0,332.8 911.6,333.6 912.3,334.4 912.9,335.2 913.5,336.0 914.1,336.8 914.7,337.5 915.4,338.3 916.0,339.1 916.6,339.9 917.2,340.6 917.9,341.4 918.5,342.2 919.1,342.9 919.7,343.6 920.3,344.1 921.0,344.3 921.6,344.1 922.2,343.3 922.8,341.8 923.5,339.7 924.1,337.3 924.7,334.7 925.3,332.5 925.9,330.8 926.6,329.8 927.2,329.4 927.8,329.6 928.4,330.0 929.1,330.7 929.7,331.5 930.3,332.3 930.9,333.1 931.5,333.9 932.2,334.7 932.8,335.4 933.4,336.2 934.0,337.0 934.7,337.8 935.3,338.6 935.9,339.4 936.5,340.1 937.1,340.9 937.8,341.6 938.4,342.3 939.0,342.9 939.6,343.1 940.2,343.0 940.9,342.3 941.5,340.9 942.1,338.9 942.7,336.4 943.4,333.9 944.0,331.6 944.6,329.8 945.2,328.7 945.8,328.3 946.5,328.4 947.1,328.9 947.7,329.5 948.3,330.3 949.0,331.1 949.6,331.9 950.2,332.7 950.8,333.5 951.4,334.3 952.1,335.1 952.7,335.8 953.3,336.6 953.9,337.4 954.6,338.2 955.2,339.0 955.8,339.7 956.4,340.5 957.0,341.2 957.7,341.8 958.3,342.1 958.9,342.0 959.5,341.4 960.2,340.0 960.8,338.1 961.4,335.7 962.0,333.2 962.6,330.8 963.3,329.0 963.9,327.8 964.5,327.3 965.1,327.4 965.8,327.8 966.4,328.4 967.0,329.2 967.6,330.0 968.2,330.8 968.9,331.6 969.5,332.4 970.1,333.2 970.7,334.0 971.3,334.8 972.0,335.6 972.6,336.4 973.2,337.2 973.8,337.9 974.5,338.7 975.1,339.5 975.7,340.2 976.3,340.8 976.9,341.1 977.6,341.1 978.2,340.5 978.8,339.3 979.4,337.4 980.1,335.1 980.7,332.5 981.3,330.2 981.9,328.3 982.5,327.0 983.2,326.5 983.8,326.4 984.4,326.8 985.0,327.5 985.7,328.2 986.3,329.0 986.9,329.8 987.5,330.6 988.1,331.4 988.8,332.3 989.4,333.1 990.0,333.9 990.6,334.6 991.3,335.4 991.9,336.2 992.5,337.0 993.1,337.8 993.7,338.6 994.4,339.3 995.0,339.9 995.6,340.3 996.2,340.3 996.9,339.8 997.5,338.7 998.1,336.9 998.7,334.5 999.3,332.0 1000.0,329.6 1000.6,327.7 1001.2,326.3 1001.8,325.7 1002.4,325.6 1003.1,326.0 1003.7,326.6 1004.3,327.4 1004.9,328.2 1005.6,329.0 1006.2,329.8 1006.8,330.6 1007.4,331.4 1008.0,332.2 1008.7,333.0 1009.3,333.8 1009.9,334.6 1010.5,335.4 1011.2,336.2 1011.8,337.0 1012.4,337.7 1013.0,338.5 1013.6,339.1 1014.3,339.5 1014.9,339.6 1015.5,339.2 1016.1,338.1 1016.8,336.4 1017.4,334.1 1018.0,331.6 1018.6,329.2 1019.2,327.1 1019.9,325.8 1020.5,325.0 1021.1,324.9 1021.7,325.2 1022.4,325.8 1023.0,326.6 1023.6,327.4 1024.2,328.2 1024.8,329.0 1025.5,329.8 1026.1,330.6 1026.7,331.4 1027.3,332.2 1028.0,333.0 1028.6,333.8 1029.2,334.6 1029.8,335.4 1030.4,336.2 1031.1,337.0 1031.7,337.7 1032.3,338.4 1032.9,338.8 1033.5,339.0 1034.2,338.6 1034.8,337.6 1035.4,336.0 1036.0,333.8 1036.7,331.2 1037.3,328.8 1037.9,326.7 1038.5,325.2 1039.1,324.5 1039.8,324.3 1040.4,324.6 1041.0,325.1 1041.6,325.9 1042.3,326.7 1042.9,327.5 1043.5,328.3 1044.1,329.1 1044.7,329.9 1045.4,330.7 1046.0,331.5 1046.6,332.3 1047.2,333.1 1047.9,333.9 1048.5,334.7 1049.1,335.5 1049.7,336.3 1050.3,337.1 1051.0,337.7 1051.6,338.2 1052.2,338.4 1052.8,338.1 1053.5,337.2 1054.1,335.6 1054.7,333.5 1055.3,331.0 1055.9,328.5 1056.6,326.4 1057.2,324.8 1057.8,324.0 1058.4,323.7 1059.1,324.0 1059.7,324.5 1060.3,325.2 1060.9,326.0 1061.5,326.8 1062.2,327.7 1062.8,328.5 1063.4,329.3 1064.0,330.1 1064.6,330.9 1065.3,331.7 1065.9,332.5 1066.5,333.3 1067.1,334.1 1067.8,334.9 1068.4,335.7 1069.0,336.5 1069.6,337.1 1070.2,337.7 1070.9,337.9 1071.5,337.7 1072.1,336.8 1072.7,335.3 1073.4,333.2 1074.0,330.8 1074.6,328.3 1075.2,326.1 1075.8,324.5 1076.5,323.5 1077.1,323.2 1077.7,323.4 1078.3,324.0 1079.0,324.7 1079.6,325.4 1080.2,326.3 1080.8,327.1 1081.4,327.9 1082.1,328.7 1082.7,329.5 1083.3,330.4 1083.9,331.2 1084.6,332.0 1085.2,332.8 1085.8,333.6 1086.4,334.4 1087.0,335.1 1087.7,335.9 1088.3,336.6 1088.9,337.2 1089.5,337.4 1090.2,337.3 1090.8,336.5 1091.4,335.1 1092.0,333.0 1092.6,330.6 1093.3,328.1 1093.9,325.9 1094.5,324.2 1095.1,323.2 1095.7,322.8 1096.4,322.9 1097.0,323.4 1097.6,324.1 1098.2,324.9 1098.9,325.7 1099.5,326.6 1100.1,327.4 1100.7,328.2 1101.3,329.0 1102.0,329.8 1102.6,330.6 1103.2,331.5 1103.8,332.3 1104.5,333.1 1105.1,333.9 1105.7,334.6 1106.3,335.4 1106.9,336.1 1107.6,336.7 1108.2,337.0 1108.8,336.9 1109.4,336.2 1110.1,334.9 1110.7,332.9 1111.3,330.5 1111.9,328.0 1112.5,325.7 1113.2,323.9 1113.8,322.9 1114.4,322.4 1115.0,322.5 1115.7,323.0 1116.3,323.7 1116.9,324.5 1117.5,325.3 1118.1,326.1 1118.8,326.9 1119.4,327.7 1120.0,328.6 1120.6,329.4 1121.3,330.2 1121.9,331.0 1122.5,331.8 1123.1,332.6 1123.7,333.4 1124.4,334.2 1125.0,335.0 1125.6,335.7 1126.2,336.3 1126.8,336.6 1127.5,336.6 1128.1,336.0 1128.7,334.7 1129.3,332.8 1130.0,330.4 1130.6,327.9 1131.2,325.6 1131.8,323.8 1132.4,322.6 1133.1,322.1 1133.7,322.1 1134.3,322.6 1134.9,323.2 1135.6,324.0 1136.2,324.8 1136.8,325.7 1137.4,326.5 1138.0,327.3 1138.7,328.1 1139.3,328.9 1139.9,329.8 1140.5,330.6 1141.2,331.4 1141.8,332.2 1142.4,333.0 1143.0,333.8 1143.6,334.6 1144.3,335.3 1144.9,335.9 1145.5,336.3 1146.1,336.3 1146.8,335.8 1147.4,334.6 1148.0,332.7 1148.6,330.4 1149.2,327.9 1149.9,325.5 1150.5,323.6 1151.1,322.4 1151.7,321.8 1152.4,321.8 1153.0,322.2 1153.6,322.9 1154.2,323.6 1154.8,324.4 1155.5,325.3 1156.1,326.1 1156.7,326.9 1157.3,327.7 1157.9,328.6 1158.6,329.4 1159.2,330.2 1159.8,331.0 1160.4,331.8 1161.1,332.6 1161.7,333.4 1162.3,334.2 1162.9,334.9 1163.5,335.6 1164.2,336.0 1164.8,336.1 1165.4,335.6 1166.0,334.5 1166.7,332.7 1167.3,330.4 1167.9,327.9 1168.5,325.5 1169.1,323.6 1169.8,322.2 1170.4,321.6 1171.0,321.5 1171.6,321.9 1172.3,322.5 1172.9,323.3 1173.5,324.1 1174.1,324.9 1174.7,325.7 1175.4,326.6 1176.0,327.4 1176.6,328.2 1177.2,329.0 1177.9,329.8 1178.5,330.6 1179.1,331.4 1179.7,332.3 1180.3,333.0 1181.0,333.8 1181.6,334.6 1182.2,335.2 1182.8,335.7 1183.5,335.8 1184.1,335.4 1184.7,334.4 1185.3,332.7 1185.9,330.5 1186.6,328.0 1187.2,325.5 1187.8,323.5 1188.4,322.1 1189.0,321.4 1189.7,321.3 1190.3,321.6 1190.9,322.2 1191.5,322.9 1192.2,323.7 1192.8,324.6 1193.4,325.4 1194.0,326.2 1194.6,327.1 1195.3,327.9 1195.9,328.7 1196.5,329.5 1197.1,330.3 1197.8,331.1 1198.4,331.9 1199.0,332.7 1199.6,333.5 1200.2,334.3 1200.9,334.9 1201.5,335.4 1202.1,335.6 1202.7,335.3 1203.4,334.3 1204.0,332.7 1204.6,330.5 1205.2,328.0 1205.8,325.6 1206.5,323.5 1207.1,322.0 1207.7,321.2 1208.3,321.0 1209.0,321.3 1209.6,321.9 1210.2,322.6 1210.8,323.4 1211.4,324.3 1212.1,325.1 1212.7,325.9 1213.3,326.8 1213.9,327.6 1214.6,328.4 1215.2,329.2 1215.8,330.0 1216.4,330.8 1217.0,331.6 1217.7,332.4 1218.3,333.2 1218.9,334.0 1219.5,334.7 1220.1,335.2 1220.8,335.4 1221.4,335.1 1222.0,334.3 1222.6,332.7 1223.3,330.6 1223.9,328.1 1224.5,325.6 1225.1,323.5 1225.7,322.0 1226.4,321.1 1227.0,320.8 1227.6,321.1 1228.2,321.6 1228.9,322.4 1229.5,323.2 1230.1,324.0 1230.7,324.8 1231.3,325.6 1232.0,326.5 1232.6,327.3 1233.2,328.1 1233.8,328.9 1234.5,329.7 1235.1,330.6 1235.7,331.4 1236.3,332.2 1236.9,333.0 1237.6,333.7 1238.2,334.4 1238.8,335.0 1239.4,335.2 1240.1,335.0 1240.7,334.2 1241.3,332.8 1241.9,330.7 1242.5,328.2 1243.2,325.8 1243.8,323.6 1244.4,321.9 1245.0,321.0 1245.7,320.7 1246.3,320.9 1246.9,321.4 1247.5,322.1 1248.1,322.9 1248.8,323.7 1249.4,324.6 1250.0,325.4 1250.6,326.2 1251.2,327.0 1251.9,327.9 1252.5,328.7 1253.1,329.5 1253.7,330.3 1254.4,331.1 1255.0,331.9 1255.6,332.7 1256.2,333.5 1256.8,334.2 1257.5,334.8 1258.1,335.1 1258.7,334.9 1259.3,334.2 1260.0,332.8 1260.6,330.8 1261.2,328.4 1261.8,325.9 1262.4,323.6 1263.1,321.9 1263.7,320.9 1264.3,320.5 1264.9,320.7 1265.6,321.2 1266.2,321.9 1266.8,322.7 1267.4,323.5 1268.0,324.3 1268.7,325.1 1269.3,326.0 1269.9,326.8 1270.5,327.6 1271.2,328.4 1271.8,329.3 1272.4,330.1 1273.0,330.9 1273.6,331.7 1274.3,332.5 1274.9,333.3 1275.5,334.0 1276.1,334.6 1276.8,334.9 1277.4,334.8 1278.0,334.2 1278.6,332.9 1279.2,330.9 1279.9,328.5 1280.5,326.0 1281.1,323.7 1281.7,322.0 1282.3,320.9 1283.0,320.4 1283.6,320.5 1284.2,321.0 1284.8,321.6 1285.5,322.4 1286.1,323.3 1286.7,324.1 1287.3,324.9 1287.9,325.8 1288.6,326.6 1289.2,327.4 1289.8,328.2 1290.4,329.0 1291.1,329.9 1291.7,330.7 1292.3,331.5 1292.9,332.3 1293.5,333.0 1294.2,333.8 1294.8,334.4 1295.4,334.8 1296.0,334.7 1296.7,334.2 1297.3,332.9 1297.9,331.0 1298.5,328.7 1299.1,326.2 1299.8,323.9 1300.4,322.0 1301.0,320.8 1301.6,320.3 1302.3,320.3 1302.9,320.8 1303.5,321.4 1304.1,322.2 1304.7,323.0 1305.4,323.9 1306.0,324.7 1306.6,325.5 1307.2,326.4 1307.9,327.2 1308.5,328.0 1309.1,328.8 1309.7,329.6 1310.3,330.5 1311.0,331.3 1311.6,332.1 1312.2,332.8 1312.8,333.6 1313.4,334.2 1314.1,334.6 1314.7,334.7 1315.3,334.2 1315.9,333.0 1316.6,331.2 1317.2,328.9 1317.8,326.4 1318.4,324.0 1319.0,322.1 1319.7,320.8 1320.3,320.2 1320.9,320.2 1321.5,320.6 1322.2,321.3 1322.8,322.0 1323.4,322.8 1324.0,323.7 1324.6,324.5 1325.3,325.3 1325.9,326.2 1326.5,327.0 1327.1,327.8 1327.8,328.6 1328.4,329.5 1329.0,330.3 1329.6,331.1 1330.2,331.9 1330.9,332.7 1331.5,333.4 1332.1,334.1 1332.7,334.5 1333.4,334.6 1334.0,334.2 1334.6,333.1 1335.2,331.3 1335.8,329.1 1336.5,326.6 1337.1,324.2 1337.7,322.2 1338.3,320.8 1339.0,320.2 1339.6,320.1 1340.2,320.5 1340.8,321.1 1341.4,321.8 1342.1,322.7 1342.7,323.5 1343.3,324.3 1343.9,325.2 1344.5,326.0 1345.2,326.8 1345.8,327.6 1346.4,328.5 1347.0,329.3 1347.7,330.1 1348.3,330.9 1348.9,331.7 1349.5,332.5 1350.1,333.2 1350.8,333.9 1351.4,334.4 1352.0,334.5 1352.6,334.2 1353.3,333.1 1353.9,331.5 1354.5,329.3 1355.1,326.8 1355.7,324.3 1356.4,322.3 1357.0,320.9 1357.6,320.1 1358.2,320.0 1358.9,320.3 1359.5,320.9 1360.1,321.7 1360.7,322.5 1361.3,323.3 1362.0,324.2 1362.6,325.0 1363.2,325.8 1363.8,326.6 1364.5,327.5 1365.1,328.3 1365.7,329.1 1366.3,329.9 1366.9,330.7 1367.6,331.5 1368.2,332.3 1368.8,333.1 1369.4,333.8 1370.1,334.3 1370.7,334.5 1371.3,334.1 1371.9,333.2 1372.5,331.6 1373.2,329.5 1373.8,327.0 1374.4,324.5 1375.0,322.4 1375.6,320.9 1376.3,320.1 1376.9,319.9 1377.5,320.2 1378.1,320.8 1378.8,321.5 1379.4,322.3 1380.0,323.2 1380.6,324.0 1381.2,324.8 1381.9,325.6 1382.5,326.5 1383.1,327.3 1383.7,328.1 1384.4,328.9 1385.0,329.7 1385.6,330.6 1386.2,331.4 1386.8,332.2 1387.5,332.9 1388.1,333.6 1388.7,334.2 1389.3,334.4 1390.0,334.1 1390.6,333.3 1391.2,331.8 1391.8,329.7 1392.4,327.2 1393.1,324.7 1393.7,322.6 1394.3,321.0 1394.9,320.1 1395.6,319.8 1396.2,320.1 1396.8,320.6 1397.4,321.4 1398.0,322.2 1398.7,323.0 1399.3,323.8 1399.9,324.7 1400.5,325.5 1401.2,326.3 1401.8,327.1 1402.4,328.0 1403.0,328.8 1403.6,329.6 1404.3,330.4 1404.9,331.2 1405.5,332.0 1406.1,332.8 1406.7,333.5 1407.4,334.0 1408.0,334.3 1408.6,334.1 1409.2,333.4 1409.9,331.9 1410.5,329.9 1411.1,327.4 1411.7,324.9 1412.3,322.7 1413.0,321.1 1413.6,320.1 1414.2,319.8 1414.8,320.0 1415.5,320.5 1416.1,321.2 1416.7,322.0 1417.3,322.8 1417.9,323.7 1418.6,324.5 1419.2,325.3 1419.8,326.2 1420.4,327.0 1421.1,327.8 1421.7,328.6 1422.3,329.4 1422.9,330.3 1423.5,331.1 1424.2,331.9 1424.8,332.6 1425.4,333.4 1426.0,333.9 1426.7,334.3 1427.3,334.1 1427.9,333.4 1428.5,332.1 1429.1,330.1 1429.8,327.7 1430.4,325.2 1431.0,322.9 1431.6,321.2 1432.3,320.1 1432.9,319.8 1433.5,319.9 1434.1,320.4 1434.7,321.1 1435.4,321.9 1436.0,322.7 1436.6,323.5 1437.2,324.4 1437.9,325.2 1438.5,326.0 1439.1,326.8 1439.7,327.7 1440.3,328.5 1441.0,329.3 1441.6,330.1 1442.2,330.9 1442.8,331.7 1443.4,332.5 1444.1,333.2 1444.7,333.8 1445.3,334.2 1445.9,334.1 1446.6,333.5 1447.2,332.2 1447.8,330.3 1448.4,327.9 1449.0,325.4 1449.7,323.1 1450.3,321.3 1450.9,320.2 1451.5,319.7 1452.2,319.8 1452.8,320.3 1453.4,320.9 1454.0,321.7 1454.6,322.6 1455.3,323.4 1455.9,324.2 1456.5,325.1 1457.1,325.9 1457.8,326.7 1458.4,327.5 1459.0,328.4 1459.6,329.2 1460.2,330.0 1460.9,330.8 1461.5,331.6 1462.1,332.4 1462.7,333.1 1463.4,333.7 1464.0,334.1 1464.6,334.1 1465.2,333.6 1465.8,332.4 1466.5,330.5 1467.1,328.2 1467.7,325.7 1468.3,323.3 1469.0,321.5 1469.6,320.2 1470.2,319.7 1470.8,319.7 1471.4,320.2 1472.1,320.8 1472.7,321.6 1473.3,322.4 1473.9,323.3 1474.5,324.1 1475.2,324.9 1475.8,325.8 1476.4,326.6 1477.0,327.4 1477.7,328.2 1478.3,329.0 1478.9,329.8 1479.5,330.7 1480.1,331.5 1480.8,332.3 1481.4,333.0 1482.0,333.6 1482.6,334.1 1483.3,334.1 1483.9,333.6 1484.5,332.5 1485.1,330.7 1485.7,328.4 1486.4,325.9 1487.0,323.5 1487.6,321.6 1488.2,320.3 1488.9,319.7 1489.5,319.7 1490.1,320.1 1490.7,320.7 1491.3,321.5 1492.0,322.3 1492.6,323.1 1493.2,324.0 1493.8,324.8 1494.5,325.6 1495.1,326.4 1495.7,327.3 1496.3,328.1 1496.9,328.9 1497.6,329.7 1498.2,330.5 1498.8,331.3 1499.4,332.1 1500.1,332.9 1500.7,333.5 1501.3,334.0 1501.9,334.1 1502.5,333.7 1503.2,332.6 1503.8,330.9 1504.4,328.7 1505.0,326.2 1505.6,323.8 1506.3,321.8 1506.9,320.4 1507.5,319.7 1508.1,319.6 1508.8,320.0 1509.4,320.6 1510.0,321.3 1510.6,322.2 1511.2,323.0 1511.9,323.8 1512.5,324.7 1513.1,325.5 1513.7,326.3 1514.4,327.1 1515.0,328.0 1515.6,328.8 1516.2,329.6 1516.8,330.4 1517.5,331.2 1518.1,332.0 1518.7,332.8 1519.3,333.4 1520.0,333.9 1520.6,334.1 1521.2,333.7 1521.8,332.8 1522.4,331.1 1523.1,328.9 1523.7,326.4 1524.3,324.0 1524.9,321.9 1525.6,320.5 1526.2,319.7 1526.8,319.6 1527.4,319.9 1528.0,320.5 1528.7,321.2 1529.3,322.0 1529.9,322.9 1530.5,323.7 1531.2,324.5 1531.8,325.4 1532.4,326.2 1533.0,327.0 1533.6,327.8 1534.3,328.7 1534.9,329.5 1535.5,330.3 1536.1,331.1 1536.7,331.9 1537.4,332.7 1538.0,333.3 1538.6,333.9 1539.2,334.1 1539.9,333.8 1540.5,332.9 1541.1,331.3 1541.7,329.2 1542.3,326.7 1543.0,324.2 1543.6,322.1 1544.2,320.6 1544.8,319.8 1545.5,319.5 1546.1,319.8 1546.7,320.4 1547.3,321.1 1547.9,321.9 1548.6,322.8 1549.2,323.6 1549.8,324.4 1550.4,325.3 1551.1,326.1 1551.7,326.9 1552.3,327.7 1552.9,328.5 1553.5,329.4 1554.2,330.2 1554.8,331.0 1555.4,331.8 1556.0,332.5 1556.7,333.2 1557.3,333.8 1557.9,334.0 1558.5,333.8 1559.1,333.0 1559.8,331.5 1560.4,329.4 1561.0,327.0 1561.6,324.5 1562.3,322.3 1562.9,320.7 1563.5,319.8 1564.1,319.5 1564.7,319.7 1565.4,320.3 1566.0,321.0 1566.6,321.8 1567.2,322.6 1567.8,323.5 1568.5,324.3 1569.1,325.1 1569.7,326.0 1570.3,326.8 1571.0,327.6 1571.6,328.4 1572.2,329.2 1572.8,330.1 1573.4,330.9 1574.1,331.7 1574.7,332.4 1575.3,333.2 1575.9,333.7 1576.6,334.0 1577.2,333.8 1577.8,333.1 1578.4,331.7 1579.0,329.6 1579.7,327.2 1580.3,324.7 1580.9,322.5 1581.5,320.8 1582.2,319.8 1582.8,319.5 1583.4,319.7 1584.0,320.2 1584.6,320.9 1585.3,321.7 1585.9,322.5 1586.5,323.4 1587.1,324.2 1587.8,325.0 1588.4,325.9 1589.0,326.7 1589.6,327.5 1590.2,328.3 1590.9,329.1 1591.5,329.9 1592.1,330.8 1592.7,331.6 1593.4,332.3 1594.0,333.1 1594.6,333.6 1595.2,334.0 1595.8,333.9 1596.5,333.2 1597.1,331.9 1597.7,329.9 1598.3,327.5 1598.9,325.0 1599.6,322.7 1600.2,321.0 1600.8,319.9 1601.4,319.5 1602.1,319.6 1602.7,320.1 1603.3,320.8 1603.9,321.6 1604.5,322.4 1605.2,323.2 1605.8,324.1 1606.4,324.9 1607.0,325.7 1607.7,326.6 1608.3,327.4 1608.9,328.2 1609.5,329.0 1610.1,329.8 1610.8,330.6 1611.4,331.5 1612.0,332.2 1612.6,333.0 1613.3,333.6 1613.9,333.9 1614.5,333.9 1615.1,333.3 1615.7,332.0 1616.4,330.1 1617.0,327.8 1617.6,325.3 1618.2,322.9 1618.9,321.1 1619.5,320.0 1620.1,319.5 1620.7,319.6 1621.3,320.0 1622.0,320.7 1622.6,321.5 1623.2,322.3 1623.8,323.1 1624.5,324.0 1625.1,324.8 1625.7,325.6 1626.3,326.5 1626.9,327.3 1627.6,328.1 1628.2,328.9 1628.8,329.7 1629.4,330.5 1630.0,331.3 1630.7,332.1 1631.3,332.9 1631.9,333.5 1632.5,333.9 1633.2,333.9 1633.8,333.4 1634.4,332.2 1635.0,330.4 1635.6,328.0 1636.3,325.5 1636.9,323.2 1637.5,321.3 1638.1,320.1 1638.8,319.5 1639.4,319.5 1640.0,319.9 1640.6,320.6 1641.2,321.4 1641.9,322.2 1642.5,323.0 1643.1,323.9 1643.7,324.7 1644.4,325.5 1645.0,326.3 1645.6,327.2 1646.2,328.0 1646.8,328.8 1647.5,329.6 1648.1,330.4 1648.7,331.2 1649.3,332.0 1650.0,332.8 1650.6,333.4 1651.2,333.9 1651.8,333.9 1652.4,333.5 1653.1,332.4 1653.7,330.6 1654.3,328.3 1654.9,325.8 1655.6,323.4 1656.2,321.5 1656.8,320.2 1657.4,319.5 1658.0,319.5 1658.7,319.9 1659.3,320.5 1659.9,321.3 1660.5,322.1 1661.1,322.9 1661.8,323.8 1662.4,324.6 1663.0,325.4 1663.6,326.2 1664.3,327.1 1664.9,327.9 1665.5,328.7 1666.1,329.5 1666.7,330.3 1667.4,331.1 1668.0,331.9 1668.6,332.7 1669.2,333.3 1669.9,333.8 1670.5,333.9 1671.1,333.5 1671.7,332.5 1672.3,330.8 1673.0,328.6 1673.6,326.1 1674.2,323.7 1674.8,321.7 1675.5,320.3 1676.1,319.6 1676.7,319.4 1677.3,319.8 1677.9,320.4 1678.6,321.2 1679.2,322.0 1679.8,322.8 1680.4,323.6 1681.1,324.5 1681.7,325.3 1682.3,326.1 1682.9,327.0 1683.5,327.8 1684.2,328.6 1684.8,329.4 1685.4,330.2 1686.0,331.0 1686.7,331.8 1687.3,332.6 1687.9,333.3 1688.5,333.8 1689.1,333.9 1689.8,333.6 1690.4,332.6 1691.0,331.0 1691.6,328.8 1692.2,326.4 1692.9,323.9 1693.5,321.8 1694.1,320.4 1694.7,319.6 1695.4,319.4 1696.0,319.7 1696.6,320.3 1697.2,321.1 1697.8,321.9 1698.5,322.7 1699.1,323.5 1699.7,324.4 1700.3,325.2 1701.0,326.0 1701.6,326.9 1702.2,327.7 1702.8,328.5 1703.4,329.3 1704.1,330.1 1704.7,330.9 1705.3,331.7 1705.9,332.5 1706.6,333.2 1707.2,333.7 1707.8,333.9 1708.4,333.7 1709.0,332.8 1709.7,331.2 1710.3,329.1 1710.9,326.6 1711.5,324.2 1712.2,322.1 1712.8,320.5 1713.4,319.6 1714.0,319.4 1714.6,319.7 1715.3,320.2 1715.9,321.0 1716.5,321.8 1717.1,322.6 1717.8,323.4 1718.4,324.3 1719.0,325.1 1719.6,325.9 1720.2,326.8 1720.9,327.6 1721.5,328.4 1722.1,329.2 1722.7,330.0 1723.3,330.8 1724.0,331.6 1724.6,332.4 1725.2,333.1 1725.8,333.7 1726.5,333.9 1727.1,333.7 1727.7,332.9 1728.3,331.4 1728.9,329.4 1729.6,326.9 1730.2,324.4 1730.8,322.3 1731.4,320.6 1732.1,319.7 1732.7,319.4 1733.3,319.6 1733.9,320.1 1734.5,320.9 1735.2,321.7 1735.8,322.5 1736.4,323.3 1737.0,324.2 1737.7,325.0 1738.3,325.8 1738.9,326.7 1739.5,327.5 1740.1,328.3 1740.8,329.1 1741.4,329.9 1742.0,330.7 1742.6,331.5 1743.3,332.3 1743.9,333.0 1744.5,333.6 1745.1,333.9 1745.7,333.8 1746.4,333.0 1747.0,331.6 1747.6,329.6 1748.2,327.2 1748.9,324.7 1749.5,322.5 1750.1,320.8 1750.7,319.8 1751.3,319.4 1752.0,319.6 1752.6,320.1 1753.2,320.8 1753.8,321.6 1754.4,322.4 1755.1,323.2 1755.7,324.1 1756.3,324.9 1756.9,325.7 1757.6,326.6 1758.2,327.4 1758.8,328.2 1759.4,329.0 1760.0,329.8 1760.7,330.6 1761.3,331.4 1761.9,332.2 1762.5,332.9 1763.2,333.5 1763.8,333.9 1764.4,333.8 1765.0,333.1 1765.6,331.8 1766.3,329.9 1766.9,327.5 1767.5,325.0 1768.1,322.7 1768.8,320.9 1769.4,319.8 1770.0,319.4 1770.6,319.5 1771.2,320.0 1771.9,320.7 1772.5,321.5 1773.1,322.3 1773.7,323.1 1774.4,324.0 1775.0,324.8 1775.6,325.6 1776.2,326.5 1776.8,327.3 1777.5,328.1 1778.1,328.9 1778.7,329.7 1779.3,330.5 1780.0,331.3 1780.6,332.1 1781.2,332.9 1781.8,333.5 1782.4,333.8 1783.1,333.8 1783.7,333.2 1784.3,332.0 1784.9,330.1 1785.5,327.8 1786.2,325.3 1786.8,322.9 1787.4,321.1 1788.0,319.9 1788.7,319.4 1789.3,319.5 1789.9,319.9 1790.5,320.6 1791.1,321.4 1791.8,322.2 1792.4,323.0 1793.0,323.9 1793.6,324.7 1794.3,325.5 1794.9,326.4 1795.5,327.2"/>
</g>
<g shape-rendering="crispEdges">
<rect x="1516.5" y="294.5" width="220" height="421" fill="#ffffff" stroke="#262626" stroke-width="5"/>
<rect x="1522" y="336" width="59" height="5" fill="#0072BD"/>
<rect x="1522" y="420" width="59" height="5" fill="#D95319"/>
<rect x="1522" y="503" width="59" height="5" fill="#EDB120"/>
<rect x="1522" y="586" width="59" height="5" fill="#7E2F8E"/>
<rect x="1522" y="669" width="59" height="5" fill="#77AC30"/>
</g>
<g filter="url(#al)">
<text class="lg" x="1584.30" y="365.00" xml:space="preserve">k <tspan class="eq" x="1634.26" dy="3.05">=</tspan><tspan x="1675.13" dy="-3.05"> 1</tspan></text>
<text class="lg" x="1584.30" y="448.25" xml:space="preserve">k <tspan class="eq" x="1634.26" dy="3.05">=</tspan><tspan x="1675.13" dy="-3.05"> 2</tspan></text>
<text class="lg" x="1584.30" y="531.50" xml:space="preserve">k <tspan class="eq" x="1634.26" dy="3.05">=</tspan><tspan x="1675.13" dy="-3.05"> 3</tspan></text>
<text class="lg" x="1584.30" y="614.75" xml:space="preserve">k <tspan class="eq" x="1634.26" dy="3.05">=</tspan><tspan x="1675.13" dy="-3.05"> 4</tspan></text>
<text class="lg" x="1584.30" y="698.00" xml:space="preserve">k <tspan class="eq" x="1634.26" dy="3.05">=</tspan><tspan x="1675.13" dy="-3.05"> 5</tspan></text>
</g>
<text class="tk" x="240.50" y="826" text-anchor="middle">0</text>
<text class="tk" x="551.50" y="826" text-anchor="middle">10</text>
<text class="tk" x="862.50" y="826" text-anchor="middle">20</text>
<text class="tk" x="1173.50" y="826" text-anchor="middle">30</text>
<text class="tk" x="1484.50" y="826" text-anchor="middle">40</text>
<text class="tk" x="1795.50" y="826" text-anchor="middle">50</text>
<text class="tk" x="222" y="766.50" text-anchor="end">0</text>
<text class="tk" x="222" y="640.90" text-anchor="end">1</text>
<text class="tk" x="222" y="515.30" text-anchor="end">2</text>
<text class="tk" x="222" y="389.70" text-anchor="end">3</text>
<text class="tk" x="222" y="264.10" text-anchor="end">4</text>
<text class="tk" x="222" y="138.50" text-anchor="end">5</text>
<text class="lb" x="1017.5" y="919" text-anchor="middle">Time (s)</text>
<text class="lb" transform="translate(163.5,426.5) rotate(-90)" text-anchor="middle">Velocity (m/s)</text>
<g fill="#ffffff"><rect x="1697.56" y="358.45" width="13.35" height="8.05"/><rect x="1716.89" y="358.45" width="12.82" height="8.05"/><rect x="518.00" y="819.52" width="13.19" height="7.98"/><rect x="537.08" y="819.52" width="12.67" height="7.98"/><rect x="188.50" y="634.42" width="13.19" height="7.98"/><rect x="207.58" y="634.42" width="12.67" height="7.98"/></g>
</svg></body></html>
